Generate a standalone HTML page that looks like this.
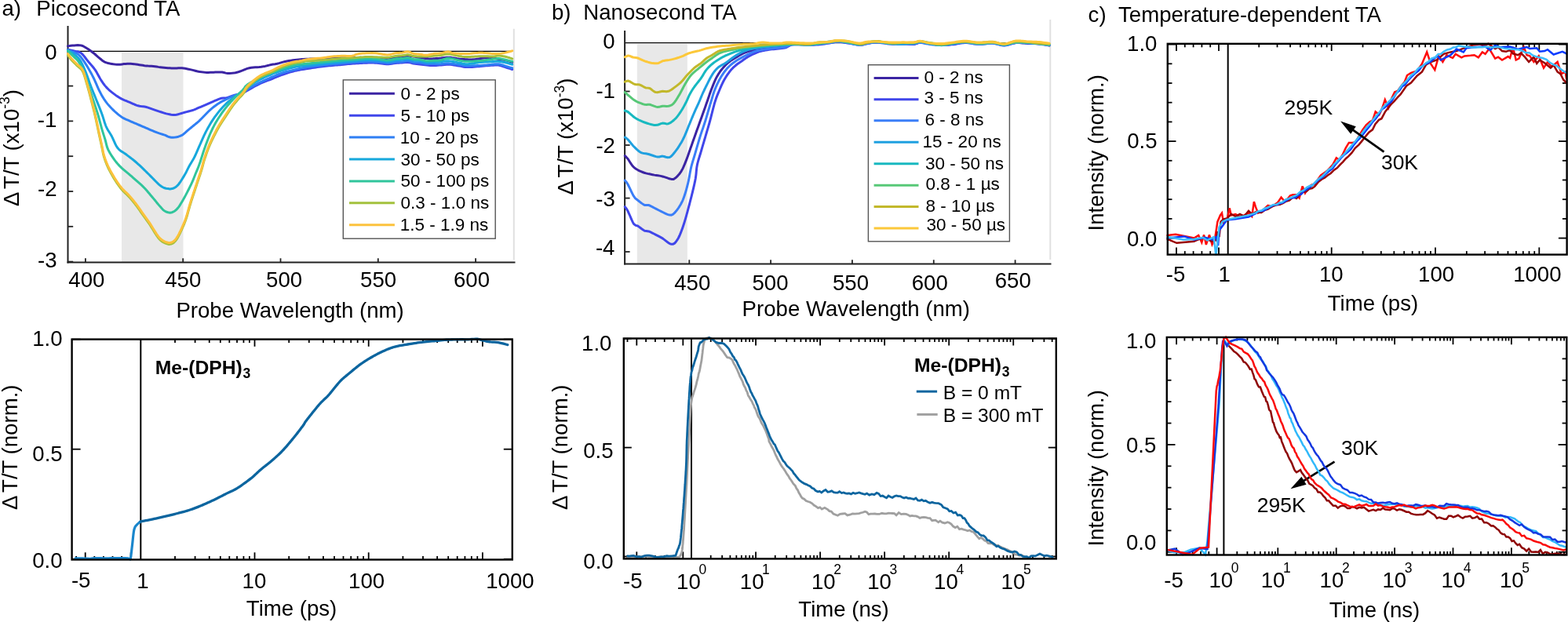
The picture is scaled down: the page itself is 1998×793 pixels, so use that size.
<!DOCTYPE html>
<html><head><meta charset="utf-8"><title>TA figure</title>
<style>
html,body{margin:0;padding:0;background:#fff;overflow:hidden;}
svg{display:block;}
text{font-family:'Liberation Sans', Arial, Helvetica, sans-serif;fill:#000;}
</style></head>
<body>
<svg width="1998" height="793" viewBox="0 0 1998 793">
<rect width="1998" height="793" fill="#fff"/>
<rect x="155" y="66.5" width="78.5" height="267.5" fill="#e8e8e8" stroke="none" stroke-width="1"/>
<line x1="654.8" y1="36.7" x2="654.8" y2="331.5" stroke="#e0e0e0" stroke-width="2"/>
<line x1="86.5" y1="65.4" x2="652" y2="65.4" stroke="#000" stroke-width="1.2"/>
<line x1="86.5" y1="33" x2="86.5" y2="335.4" stroke="#222" stroke-width="2.0"/>
<line x1="85.5" y1="334.4" x2="656.5" y2="334.4" stroke="#222" stroke-width="2.0"/>
<line x1="86.5" y1="109.6" x2="93.2" y2="109.6" stroke="#222" stroke-width="1.8"/>
<line x1="86.5" y1="154.4" x2="93.2" y2="154.4" stroke="#222" stroke-width="1.8"/>
<line x1="86.5" y1="199.2" x2="93.2" y2="199.2" stroke="#222" stroke-width="1.8"/>
<line x1="86.5" y1="244" x2="93.2" y2="244" stroke="#222" stroke-width="1.8"/>
<line x1="86.5" y1="288.8" x2="93.2" y2="288.8" stroke="#222" stroke-width="1.8"/>
<line x1="86.5" y1="333.6" x2="93.2" y2="333.6" stroke="#222" stroke-width="1.8"/>
<line x1="108.9" y1="334.5" x2="108.9" y2="329.3" stroke="#222" stroke-width="1.8"/>
<text x="87.3" y="366" font-size="27.6">400</text>
<line x1="233.2" y1="334.5" x2="233.2" y2="329.3" stroke="#222" stroke-width="1.8"/>
<text x="210.2" y="366" font-size="27.6">450</text>
<line x1="357.5" y1="334.5" x2="357.5" y2="329.3" stroke="#222" stroke-width="1.8"/>
<text x="339.05" y="366" font-size="27.6">500</text>
<line x1="481.8" y1="334.5" x2="481.8" y2="329.3" stroke="#222" stroke-width="1.8"/>
<text x="459.05" y="366" font-size="27.6">550</text>
<line x1="606.1" y1="334.5" x2="606.1" y2="329.3" stroke="#222" stroke-width="1.8"/>
<text x="578" y="366" font-size="27.6">600</text>
<text x="57.2" y="76.3" font-size="27.6">0</text>
<text x="47.7" y="161.9" font-size="27.6">-1</text>
<text x="48" y="249.5" font-size="27.6">-2</text>
<text x="48" y="341" font-size="27.6">-3</text>
<text x="224.4" y="404.7" font-size="27.6">Probe Wavelength (nm)</text>
<text x="24" y="262.9" font-size="27.6" transform="rotate(-90 24 262.9)">Δ<tspan dx="3.5">T/T (x10</tspan><tspan font-size="17.5" dy="-11.5">-3</tspan><tspan dy="11.5">)</tspan></text>
<text x="2.4" y="19.8" font-size="27.6">a)</text>
<text x="46.3" y="19.8" font-size="27.6">Picosecond TA</text>
<polyline points="86.5,58.8 87.94,58.62 90,58.35 92.34,58.08 94.6,57.9 96.79,57.75 99.06,57.62 101.3,57.63 103.4,57.9 105.83,58.74 108.07,59.97 110.5,61.5 112.18,62.58 113.98,63.8 115.82,65.1 117.62,66.42 119.3,67.7 121.19,69.25 122.96,70.81 124.66,72.33 126.4,73.8 128.14,75.25 129.84,76.69 131.61,78 133.5,79.1 135.58,79.92 137.79,80.52 140.06,80.99 142.3,81.4 144.5,81.77 146.69,82.05 148.89,82.23 151.1,82.3 153.32,82.18 155.55,81.91 157.78,81.6 160,81.4 162.21,81.31 164.41,81.26 166.6,81.29 168.8,81.4 171,81.64 173.2,81.98 175.4,82.35 177.6,82.7 179.8,83.02 181.99,83.35 184.19,83.65 186.4,83.9 188.62,84.06 190.85,84.14 193.08,84.24 195.3,84.4 197.48,84.68 199.64,85.02 201.83,85.38 204.1,85.7 206.52,85.99 209.04,86.26 211.56,86.5 214,86.7 216.32,86.86 218.57,86.98 220.79,87.06 223,87.1 225.17,87.02 227.3,86.86 229.48,86.74 231.8,86.8 233.8,87.01 235.91,87.33 238.07,87.72 240.25,88.16 242.4,88.6 244.52,89.09 246.64,89.65 248.76,90.22 250.88,90.76 253,91.2 255.12,91.55 257.24,91.85 259.36,92.1 261.48,92.28 263.6,92.4 265.75,92.43 267.93,92.37 270.09,92.27 272.2,92.16 274.2,92.1 276.57,92.05 278.82,91.99 280.96,91.99 283,92.1 285.39,92.54 287.59,93.14 290.1,93.5 292.43,93.49 295.02,93.33 297.62,93.06 300,92.7 302.71,92.07 305.16,91.27 307.6,90.4 309.48,89.66 311.35,88.85 313.22,88.06 315.1,87.4 317.63,86.75 320.16,86.26 322.7,85.9 325.24,85.71 327.77,85.64 330.3,85.5 332.8,85.21 335.3,84.85 337.8,84.4 340.33,83.8 342.86,83.11 345.4,82.5 347.94,82.09 350.47,81.75 353,81.3 355.5,80.61 358,79.82 360.5,79.1 363.03,78.54 365.57,78.05 368.1,77.6 370.6,77.16 373.1,76.75 375.6,76.4 378.16,76.12 380.72,75.89 383.2,75.7 384.93,75.56 386.56,75.45 390,75.3 391.49,75.24 393.21,75.18 395.13,75.11 397.21,75.03 399.42,74.96 401.7,74.88 404.03,74.8 406.36,74.72 408.66,74.64 410.89,74.57 413,74.5 415.05,74.43 417.09,74.36 419.13,74.29 421.16,74.23 423.18,74.16 425.19,74.09 427.19,74.03 429.17,73.97 431.14,73.91 433.08,73.85 435,73.8 437.12,73.75 439.26,73.69 441.4,73.65 443.53,73.6 445.62,73.56 447.67,73.52 449.65,73.48 451.54,73.45 453.33,73.42 455,73.4 457.47,73.38 459.63,73.37 461.56,73.38 463.37,73.39 465.15,73.4 467,73.4 469.25,73.38 471.42,73.35 473.58,73.32 475.75,73.33 478,73.4 479.92,73.55 481.85,73.77 483.81,74.03 485.81,74.27 487.87,74.44 490,74.5 491.95,74.43 494.03,74.28 496.17,74.06 498.31,73.82 500.38,73.58 502.3,73.36 504,73.2 506.42,73.06 508.38,73.02 510.14,72.96 512,72.8 513.84,72.39 515.56,71.83 517.51,71.35 520,71.2 521.83,71.33 523.95,71.61 526.25,71.98 528.62,72.39 530.95,72.82 533.11,73.2 535,73.5 537.74,73.88 540.06,74.17 542.1,74.41 544,74.6 546.07,74.79 547.81,74.9 550,74.9 551.72,74.85 553.64,74.75 555.69,74.62 557.83,74.47 560,74.3 562.19,74.07 564.44,73.76 566.75,73.46 569.14,73.24 571.6,73.2 573.7,73.34 575.84,73.61 578.03,73.97 580.27,74.35 582.6,74.71 585,75 586.91,75.18 588.92,75.36 591.01,75.54 593.12,75.7 595.22,75.84 597.26,75.94 599.2,76 601,76 603.57,75.87 605.89,75.59 608.06,75.24 610.19,74.89 612.4,74.6 614.68,74.35 616.96,74.08 619.25,73.85 621.53,73.71 623.8,73.7 626.09,73.88 628.39,74.2 630.69,74.6 632.93,75.02 635.1,75.4 637.2,75.71 639.27,76.01 641.27,76.31 643.18,76.63 645,77 647.26,77.6 649.47,78.3 651.37,78.95 652.7,79.4" fill="none" stroke="#3b24a3" stroke-width="3" stroke-linejoin="round" stroke-linecap="round"/>
<polyline points="86.5,63.2 87.94,63.5 90,63.93 92.34,64.44 94.6,65 96.75,65.43 98.95,65.8 101.18,66.45 103.4,67.7 104.88,69.01 106.36,70.65 107.85,72.51 109.34,74.47 110.82,76.44 112.3,78.3 113.79,80.05 115.3,81.77 116.81,83.49 118.3,85.24 119.73,87.03 121.1,88.9 122.2,90.59 123.26,92.37 124.27,94.19 125.25,96.02 126.23,97.83 127.21,99.56 128.2,101.2 129.58,103.33 130.92,105.35 132.27,107.27 133.68,109.11 135.2,110.9 136.83,112.62 138.55,114.27 140.33,115.85 142.19,117.39 144.1,118.9 145.76,120.15 147.48,121.4 149.24,122.62 151.03,123.79 152.83,124.89 154.6,125.9 156.71,126.96 158.83,127.88 160.96,128.73 163.08,129.55 165.2,130.4 167.32,131.33 169.44,132.3 171.56,133.24 173.68,134.09 175.8,134.8 177.92,135.28 180.04,135.58 182.16,135.81 184.28,136.08 186.4,136.5 188.52,137.1 190.64,137.81 192.76,138.58 194.88,139.36 197,140.1 199.19,140.83 201.44,141.59 203.66,142.33 205.75,143.01 207.6,143.6 209.95,144.35 211.83,144.91 214,145.4 215.99,145.83 218.13,146.26 220.46,146.54 223,146.5 224.87,146.22 226.89,145.75 228.99,145.17 231.14,144.53 233.26,143.88 235.3,143.3 237.73,142.66 240.18,142.01 242.58,141.36 244.81,140.72 246.8,140.1 249.33,139.15 251.34,138.23 253.6,137.2 255.71,136.3 258.01,135.32 260.37,134.31 262.7,133.3 264.95,132.31 267.18,131.31 269.45,130.3 271.8,129.3 273.82,128.44 275.96,127.53 278.11,126.65 280.16,125.88 282,125.3 284.47,124.96 286.57,125.01 288.8,124.8 290.74,124.22 292.8,123.42 294.86,122.6 296.8,121.9 299.17,121.26 301.41,120.76 303.6,120.2 305.81,119.52 307.98,118.78 310,118 312,117.08 315.1,115.4 316.52,114.62 318.19,113.67 320.06,112.61 322.08,111.47 324.16,110.3 326.27,109.15 328.34,108.07 330.3,107.1 332.19,106.23 334.08,105.42 335.97,104.65 337.86,103.91 339.74,103.18 341.63,102.47 343.51,101.74 345.4,101 347.29,100.24 349.17,99.46 351.06,98.68 352.95,97.91 354.84,97.14 356.72,96.4 358.61,95.68 360.5,95 362.66,94.25 364.83,93.53 367.01,92.83 369.18,92.16 371.34,91.53 373.48,90.94 375.6,90.4 377.62,89.93 379.51,89.53 381.37,89.18 383.26,88.86 385.28,88.54 387.5,88.19 390,87.8 391.77,87.52 393.67,87.23 395.68,86.92 397.77,86.6 399.93,86.27 402.13,85.95 404.35,85.63 406.57,85.33 408.76,85.03 410.91,84.75 413,84.5 415.07,84.27 417.18,84.05 419.32,83.84 421.45,83.65 423.57,83.46 425.66,83.29 427.7,83.12 429.68,82.96 431.56,82.8 433.34,82.65 435,82.5 437.62,82.24 439.78,82 441.69,81.79 443.56,81.59 445.59,81.39 448,81.2 449.89,81.07 451.97,80.94 454.19,80.81 456.47,80.68 458.78,80.56 461.04,80.45 463.2,80.35 465.21,80.27 467,80.2 469.7,80.12 471.93,80.07 473.91,80.07 475.86,80.11 478,80.2 480.02,80.34 482.19,80.54 484.38,80.78 486.48,81.02 488.39,81.24 490,81.4 492.69,81.7 495,81.7 496.99,81.49 499.31,81.15 501.73,80.79 504,80.5 506.07,80.33 508.06,80.21 510.02,80.12 512,80 514.02,79.81 516.06,79.57 518.07,79.4 520,79.4 522.37,79.79 524.63,80.43 527,81 528.91,81.29 530.88,81.53 532.91,81.76 535,82 537.2,82.28 539.5,82.59 541.8,82.87 544,83.1 546.07,83.27 548.06,83.39 550.02,83.47 552,83.5 553.92,83.47 555.77,83.38 557.75,83.25 560,83.1 562.06,82.91 564.29,82.65 566.66,82.39 569.11,82.22 571.6,82.2 573.76,82.35 576.04,82.61 578.38,82.94 580.69,83.31 582.92,83.68 585,84 587.17,84.38 589.06,84.78 590.91,85.16 592.95,85.46 595.4,85.6 597.25,85.59 599.32,85.51 601.54,85.38 603.84,85.21 606.15,85.02 608.39,84.83 610.5,84.65 612.4,84.5 615.04,84.28 617.37,84.06 619.52,83.85 621.62,83.66 623.8,83.5 626.09,83.33 628.39,83.14 630.69,82.99 632.93,82.96 635.1,83.1 637.2,83.48 639.27,84.04 641.27,84.71 643.18,85.39 645,86 647.26,86.71 649.47,87.43 651.37,88.06 652.7,88.5" fill="none" stroke="#4046ea" stroke-width="3" stroke-linejoin="round" stroke-linecap="round"/>
<polyline points="86.5,64.1 87.98,64.55 90.11,65.17 92.46,65.94 94.6,66.8 96.41,67.59 98.11,68.39 99.83,69.5 101.7,71.2 102.87,72.52 104.09,74.06 105.35,75.77 106.64,77.62 107.94,79.57 109.23,81.57 110.5,83.6 111.49,85.21 112.49,86.9 113.5,88.64 114.5,90.43 115.51,92.25 116.49,94.08 117.46,95.91 118.4,97.72 119.3,99.5 120.27,101.5 121.19,103.54 122.09,105.58 122.96,107.62 123.81,109.63 124.66,111.59 125.52,113.49 126.4,115.3 127.4,117.27 128.38,119.14 129.35,120.95 130.34,122.69 131.35,124.39 132.4,126.05 133.5,127.7 134.83,129.57 136.18,131.37 137.58,133.11 139.04,134.83 140.61,136.55 142.3,138.3 143.68,139.66 145.17,141.07 146.73,142.51 148.34,143.93 149.96,145.31 151.56,146.62 153.12,147.83 154.6,148.9 156.8,150.3 158.88,151.4 160.91,152.33 162.99,153.22 165.2,154.2 167.16,155.08 169.2,155.97 171.29,156.85 173.4,157.73 175.51,158.62 177.6,159.5 179.69,160.39 181.8,161.3 183.91,162.21 186,163.1 188.04,163.97 190,164.8 192.24,165.76 194.4,166.68 196.49,167.57 198.55,168.41 200.6,169.2 202.71,169.93 204.86,170.6 206.96,171.24 208.9,171.83 210.6,172.4 213.49,173.78 216,174.8 218.15,175.17 220.47,175.3 223,175.1 225.09,174.73 227.32,174.19 229.6,173.43 231.8,172.4 233.5,171.28 235.19,169.92 236.85,168.43 238.46,166.95 240,165.6 241.8,164.12 243.49,162.73 245.13,161.38 246.8,160 248.5,158.61 250.2,157.23 251.9,155.8 253.6,154.3 255.3,152.68 257,150.98 258.7,149.23 260.4,147.5 262.1,145.75 263.79,143.97 265.49,142.24 267.2,140.6 268.92,139.09 270.65,137.66 272.38,136.3 274.1,135 275.81,133.75 277.51,132.56 279.2,131.44 280.9,130.4 283.17,129.18 285.43,128.09 287.7,127 289.97,125.84 292.23,124.69 294.5,123.6 296.79,122.61 299.07,121.68 301.3,120.8 303.39,120.05 305.43,119.34 307.6,118.4 309.21,117.51 310.79,116.52 312.66,115.34 315.1,113.9 316.63,113.03 318.36,112.06 320.24,111 322.23,109.9 324.27,108.78 326.33,107.67 328.35,106.6 330.3,105.6 332.19,104.66 334.08,103.76 335.97,102.87 337.86,102.01 339.74,101.16 341.63,100.33 343.51,99.51 345.4,98.7 347.29,97.89 349.17,97.09 351.06,96.29 352.95,95.51 354.84,94.75 356.72,94.02 358.61,93.34 360.5,92.7 362.66,92.03 364.83,91.43 367.01,90.88 369.18,90.36 371.34,89.86 373.48,89.38 375.6,88.9 377.62,88.43 379.51,87.98 381.37,87.55 383.26,87.14 385.28,86.73 387.5,86.32 390,85.9 391.77,85.63 393.67,85.35 395.68,85.08 397.77,84.8 399.93,84.52 402.13,84.25 404.35,83.98 406.57,83.72 408.76,83.47 410.91,83.23 413,83 415.07,82.78 417.18,82.57 419.32,82.37 421.45,82.18 423.57,81.99 425.66,81.81 427.7,81.64 429.68,81.47 431.56,81.31 433.34,81.15 435,81 437.62,80.74 439.78,80.5 441.69,80.28 443.56,80.08 445.59,79.89 448,79.7 449.89,79.58 451.97,79.45 454.19,79.33 456.47,79.21 458.78,79.1 461.04,79 463.2,78.92 465.21,78.85 467,78.8 469.7,78.76 471.93,78.76 473.91,78.81 475.86,78.89 478,79 480.02,79.13 482.19,79.29 484.38,79.48 486.48,79.67 488.39,79.85 490,80 492.69,80.39 495,80.5 496.99,80.28 499.31,79.91 501.73,79.5 504,79.2 506.07,79.05 508.06,78.98 510.02,78.92 512,78.8 514.02,78.53 516.06,78.17 518.07,77.87 520,77.8 522.37,78.21 524.63,78.92 527,79.5 528.91,79.69 530.88,79.76 532.91,79.83 535,80 537.2,80.34 539.5,80.78 541.8,81.21 544,81.5 546.07,81.6 548.06,81.58 550.02,81.52 552,81.5 553.92,81.56 555.77,81.66 557.75,81.72 560,81.7 562.06,81.55 564.29,81.29 566.66,81.03 569.11,80.83 571.6,80.8 573.76,80.94 576.04,81.19 578.38,81.51 580.69,81.86 582.92,82.2 585,82.5 587.17,82.83 589.06,83.17 590.91,83.49 592.95,83.75 595.4,83.9 597.25,83.93 599.32,83.92 601.54,83.87 603.84,83.79 606.15,83.7 608.39,83.6 610.5,83.49 612.4,83.4 615.04,83.24 617.37,83.06 619.52,82.87 621.62,82.68 623.8,82.5 626.09,82.28 628.39,82 630.69,81.76 632.93,81.63 635.1,81.7 637.2,82.04 639.27,82.58 641.27,83.24 643.18,83.91 645,84.5 647.26,85.16 649.47,85.83 651.37,86.4 652.7,86.8" fill="none" stroke="#2f7ff4" stroke-width="3" stroke-linejoin="round" stroke-linecap="round"/>
<polyline points="86.5,64.1 87.98,65.01 90.11,66.31 92.46,67.82 94.6,69.4 96.09,70.59 97.52,71.77 98.92,73.07 100.3,74.6 101.7,76.5 102.7,78.1 103.7,79.86 104.7,81.77 105.7,83.82 106.7,85.98 107.7,88.25 108.7,90.6 109.41,92.33 110.11,94.17 110.82,96.08 111.53,98.06 112.24,100.07 112.96,102.11 113.67,104.14 114.38,106.14 115.09,108.1 115.8,110 116.59,112.04 117.38,114.05 118.17,116.03 118.96,117.98 119.75,119.93 120.54,121.86 121.33,123.8 122.12,125.74 122.9,127.7 123.69,129.68 124.49,131.67 125.3,133.67 126.11,135.67 126.91,137.66 127.7,139.63 128.46,141.59 129.2,143.51 129.9,145.4 130.63,147.5 131.3,149.59 131.93,151.65 132.54,153.69 133.16,155.68 133.79,157.62 134.46,159.5 135.2,161.3 136.11,163.22 137.08,164.99 138.09,166.67 139.12,168.31 140.18,169.98 141.24,171.72 142.3,173.6 143.21,175.41 144.11,177.36 145.02,179.4 145.93,181.47 146.87,183.5 147.86,185.44 148.89,187.22 150,188.8 151.58,190.53 153.25,191.94 155.01,193.14 156.83,194.27 158.7,195.45 160.6,196.8 162.28,198.08 164.01,199.4 165.79,200.74 167.6,202.13 169.41,203.55 171.22,205 173,206.5 174.55,207.86 176.12,209.27 177.69,210.72 179.26,212.19 180.82,213.67 182.35,215.15 183.84,216.59 185.3,218 186.93,219.59 188.55,221.2 190.15,222.79 191.69,224.36 193.18,225.86 194.58,227.28 195.9,228.6 197.95,230.68 199.74,232.52 201.38,234.15 203,235.6 205.11,237.23 207.11,238.52 209,239.5 211.59,240.29 214.1,240.6 216.62,240.94 219.4,240.6 221.01,240.02 222.73,239.22 224.56,238.02 226.5,236.2 227.7,234.76 228.98,233.01 230.32,231.04 231.66,228.97 232.96,226.87 234.19,224.85 235.3,223 236.42,221.05 237.39,219.21 238.27,217.43 239.13,215.66 240.02,213.87 241,212 242.08,210.1 243.21,208.2 244.38,206.28 245.56,204.3 246.74,202.21 247.9,200 248.76,198.23 249.63,196.36 250.49,194.42 251.36,192.44 252.22,190.43 253.08,188.42 253.94,186.44 254.8,184.5 255.65,182.59 256.48,180.69 257.31,178.8 258.14,176.91 258.97,175.04 259.83,173.17 260.7,171.33 261.6,169.5 262.53,167.68 263.5,165.85 264.48,164.02 265.48,162.22 266.48,160.44 267.49,158.71 268.5,157.02 269.5,155.4 270.83,153.33 272.16,151.34 273.5,149.44 274.84,147.6 276.17,145.82 277.5,144.1 278.84,142.42 280.18,140.8 281.53,139.24 282.85,137.74 284.15,136.33 285.4,135 287.12,133.24 288.72,131.7 290.36,130.24 292.2,128.7 293.88,127.37 295.69,126.02 297.58,124.65 299.47,123.3 301.3,122 303.12,120.73 304.98,119.48 306.8,118.26 308.5,117.09 310,116 311.59,114.57 312.79,113.31 315.1,111.5 316.52,110.53 318.19,109.42 320.06,108.19 322.08,106.91 324.16,105.6 326.27,104.32 328.34,103.1 330.3,102 332.19,101 334.08,100.04 335.97,99.13 337.86,98.25 339.74,97.41 341.63,96.59 343.51,95.79 345.4,95 347.29,94.23 349.17,93.48 351.06,92.76 352.95,92.06 354.84,91.39 356.72,90.73 358.61,90.11 360.5,89.5 362.66,88.83 364.83,88.19 367.01,87.57 369.18,86.99 371.34,86.45 373.48,85.95 375.6,85.5 377.62,85.12 379.51,84.82 381.37,84.58 383.26,84.35 385.28,84.13 387.5,83.89 390,83.6 391.77,83.39 393.67,83.16 395.68,82.93 397.77,82.68 399.93,82.43 402.13,82.18 404.35,81.93 406.57,81.68 408.76,81.45 410.91,81.22 413,81 415.07,80.79 417.18,80.59 419.32,80.38 421.45,80.19 423.57,79.99 425.66,79.81 427.7,79.63 429.68,79.46 431.56,79.29 433.34,79.14 435,79 437.62,78.78 439.78,78.61 441.69,78.47 443.56,78.33 445.59,78.18 448,78 449.89,77.85 451.97,77.67 454.19,77.47 456.47,77.27 458.78,77.08 461.04,76.89 463.2,76.73 465.21,76.59 467,76.5 469.7,76.41 471.93,76.4 473.91,76.46 475.86,76.56 478,76.7 480.02,76.86 482.19,77.08 484.38,77.33 486.48,77.59 488.39,77.82 490,78 492.69,78.44 495,78.5 496.99,78.2 499.31,77.71 501.73,77.19 504,76.8 506.07,76.6 508.06,76.49 510.02,76.42 512,76.3 514.02,76.07 516.06,75.77 518.07,75.55 520,75.5 522.37,75.87 524.63,76.49 527,77 528.91,77.16 530.88,77.22 532.91,77.29 535,77.5 537.2,77.95 539.5,78.54 541.8,79.12 544,79.5 546.07,79.61 548.06,79.54 550.02,79.41 552,79.3 553.92,79.26 555.77,79.22 557.75,79.15 560,79 562.06,78.75 564.29,78.38 566.66,78.01 569.11,77.75 571.6,77.7 573.76,77.88 576.04,78.22 578.38,78.66 580.69,79.14 582.92,79.61 585,80 587.17,80.44 589.06,80.92 590.91,81.34 592.95,81.63 595.4,81.7 597.25,81.59 599.32,81.37 601.54,81.06 603.84,80.69 606.15,80.31 608.39,79.95 610.5,79.63 612.4,79.4 615.04,79.17 617.37,79.03 619.52,78.95 621.62,78.89 623.8,78.8 626.09,78.66 628.39,78.49 630.69,78.34 632.93,78.26 635.1,78.3 637.2,78.49 639.27,78.8 641.27,79.18 643.18,79.59 645,80 647.26,80.57 649.47,81.21 651.37,81.79 652.7,82.2" fill="none" stroke="#16a8dc" stroke-width="3" stroke-linejoin="round" stroke-linecap="round"/>
<polyline points="86.5,65 87.61,66.09 89.21,67.66 91.02,69.44 92.8,71.2 94.2,72.51 95.67,73.81 97.15,75.16 98.58,76.64 99.9,78.3 101.08,80.14 102.15,82.12 103.17,84.24 104.17,86.5 105.2,88.9 105.94,90.67 106.66,92.47 107.38,94.33 108.1,96.28 108.85,98.35 109.65,100.58 110.5,103 111.08,104.66 111.68,106.42 112.31,108.27 112.95,110.19 113.61,112.16 114.28,114.16 114.95,116.19 115.62,118.23 116.29,120.25 116.95,122.25 117.6,124.2 118.25,126.13 118.9,128.08 119.56,130.03 120.22,131.98 120.88,133.94 121.54,135.89 122.18,137.82 122.82,139.75 123.43,141.65 124.03,143.54 124.6,145.4 125.2,147.44 125.79,149.49 126.35,151.55 126.9,153.59 127.43,155.6 127.95,157.57 128.45,159.49 128.94,161.35 129.43,163.12 129.9,164.8 130.66,167.37 131.37,169.68 132.05,171.83 132.71,173.87 133.35,175.91 134,178 134.58,180.12 135.07,182.19 135.56,184.24 136.1,186.31 136.79,188.42 137.7,190.6 138.56,192.32 139.54,194.12 140.63,195.97 141.78,197.83 142.98,199.67 144.18,201.45 145.37,203.14 146.5,204.7 147.95,206.58 149.37,208.29 150.79,209.87 152.23,211.39 153.73,212.88 155.3,214.4 156.98,215.94 158.76,217.46 160.59,218.96 162.43,220.44 164.21,221.88 165.9,223.3 167.79,224.94 169.59,226.53 171.33,228.08 173.05,229.63 174.8,231.2 176.54,232.72 178.24,234.19 179.96,235.69 181.73,237.32 183.6,239.2 184.85,240.54 186.17,242.01 187.52,243.57 188.9,245.19 190.28,246.82 191.63,248.44 192.95,250.01 194.2,251.5 195.8,253.41 197.37,255.31 198.89,257.17 200.34,258.94 201.72,260.6 203,262.1 204.72,264.09 206.23,265.83 207.63,267.29 209,268.5 211.59,270 214.1,270.7 216.62,271.17 219.4,270.7 221.01,269.96 222.73,268.94 224.56,267.47 226.5,265.4 227.52,264.07 228.58,262.56 229.67,260.88 230.79,259.07 231.92,257.17 233.05,255.2 234.18,253.2 235.3,251.2 236.31,249.36 237.35,247.4 238.41,245.36 239.47,243.28 240.52,241.2 241.53,239.15 242.5,237.17 243.39,235.31 244.2,233.6 245.23,231.34 246.09,229.34 246.83,227.51 247.52,225.75 248.22,223.94 249,222 249.71,220.27 250.43,218.56 251.15,216.84 251.88,215.06 252.63,213.19 253.4,211.18 254.2,209 254.84,207.15 255.5,205.16 256.17,203.07 256.85,200.91 257.55,198.71 258.25,196.48 258.96,194.27 259.68,192.1 260.4,190 261.13,187.94 261.87,185.86 262.62,183.79 263.38,181.73 264.14,179.69 264.9,177.69 265.67,175.73 266.44,173.83 267.2,172 268.17,169.75 269.13,167.59 270.1,165.52 271.07,163.51 272.05,161.55 273.06,159.62 274.1,157.7 275.19,155.79 276.32,153.9 277.47,152.04 278.64,150.22 279.79,148.47 280.92,146.79 282,145.2 283.41,143.16 284.74,141.32 286.05,139.58 287.38,137.87 288.8,136.1 290.08,134.56 291.42,132.98 292.8,131.41 294.18,129.86 295.52,128.38 296.8,127 298.59,125.12 300.3,123.42 301.96,121.8 303.6,120.2 305.26,118.6 306.91,117.05 308.5,115.52 310,114 311.42,112.08 312.7,110.18 315.1,108 316.52,107.04 318.19,106 320.06,104.91 322.08,103.78 324.16,102.65 326.27,101.54 328.34,100.48 330.3,99.5 332.19,98.58 334.08,97.71 335.97,96.87 337.86,96.06 339.74,95.28 341.63,94.51 343.51,93.75 345.4,93 347.29,92.26 349.17,91.53 351.06,90.82 352.95,90.12 354.84,89.45 356.72,88.78 358.61,88.13 360.5,87.5 362.66,86.78 364.83,86.06 367.01,85.35 369.18,84.68 371.34,84.05 373.48,83.49 375.6,83 377.62,82.62 379.51,82.33 381.37,82.11 383.26,81.92 385.28,81.75 387.5,81.55 390,81.3 391.77,81.11 393.67,80.91 395.68,80.71 397.77,80.5 399.93,80.28 402.13,80.06 404.35,79.84 406.57,79.62 408.76,79.41 410.91,79.2 413,79 415.07,78.8 417.18,78.6 419.32,78.4 421.45,78.2 423.57,78 425.66,77.81 427.7,77.63 429.68,77.45 431.56,77.29 433.34,77.14 435,77 437.62,76.81 439.78,76.67 441.69,76.58 443.56,76.48 445.59,76.37 448,76.2 449.89,76.05 451.97,75.86 454.19,75.66 456.47,75.44 458.78,75.23 461.04,75.03 463.2,74.85 465.21,74.7 467,74.6 469.7,74.5 471.93,74.47 473.91,74.52 475.86,74.63 478,74.8 480.02,75.03 482.19,75.34 484.38,75.7 486.48,76.06 488.39,76.37 490,76.6 492.69,76.92 495,76.8 496.99,76.46 499.31,75.94 501.73,75.41 504,75 506.07,74.79 508.06,74.69 510.02,74.62 512,74.5 514.02,74.26 516.06,73.96 518.07,73.72 520,73.7 522.37,74.16 524.63,74.9 527,75.5 528.91,75.69 530.88,75.76 532.91,75.82 535,76 537.2,76.39 539.5,76.91 541.8,77.39 544,77.7 546.07,77.74 548.06,77.62 550.02,77.44 552,77.3 553.92,77.3 555.77,77.35 557.75,77.33 560,77.1 562.06,76.62 564.29,75.9 566.66,75.15 569.11,74.55 571.6,74.3 573.76,74.45 576.04,74.84 578.38,75.39 580.69,76 582.92,76.57 585,77 587.17,77.38 589.06,77.73 590.91,78.01 592.95,78.2 595.4,78.3 597.25,78.3 599.32,78.24 601.54,78.15 603.84,78.02 606.15,77.87 608.39,77.71 610.5,77.55 612.4,77.4 615.04,77.15 617.37,76.88 619.52,76.58 621.62,76.29 623.8,76 626.09,75.67 628.39,75.28 630.69,74.92 632.93,74.67 635.1,74.6 637.2,74.77 639.27,75.13 641.27,75.59 643.18,76.07 645,76.5 648.01,77.17 650.79,77.84 652.7,78.3" fill="none" stroke="#30c59b" stroke-width="3" stroke-linejoin="round" stroke-linecap="round"/>
<polyline points="86.5,70.3 87.6,71.87 89.22,74.14 91.1,76.5 92.68,78.21 94.44,79.99 96.29,81.8 98.1,83.6 99.54,84.88 101.02,86.02 102.48,87.23 103.89,88.72 105.2,90.7 105.95,92.24 106.65,93.97 107.32,95.86 107.96,97.88 108.59,99.99 109.22,102.17 109.85,104.38 110.5,106.6 111.03,108.39 111.56,110.23 112.09,112.11 112.62,114.02 113.15,115.97 113.68,117.94 114.21,119.94 114.74,121.95 115.27,123.97 115.8,126 116.33,128.03 116.86,130.07 117.39,132.12 117.92,134.18 118.45,136.27 118.98,138.38 119.51,140.53 120.04,142.71 120.57,144.93 121.1,147.2 121.55,149.16 122,151.19 122.46,153.29 122.92,155.43 123.38,157.59 123.84,159.76 124.29,161.91 124.74,164.04 125.17,166.12 125.6,168.14 126.01,170.07 126.4,171.9 126.9,174.23 127.4,176.49 127.87,178.67 128.33,180.77 128.77,182.78 129.19,184.69 129.58,186.5 129.95,188.21 130.3,189.8 130.88,192.7 131.26,194.89 131.69,196.96 132.4,199.5 132.96,201.27 133.58,203.16 134.26,205.14 135.02,207.2 135.84,209.31 136.73,211.45 137.7,213.6 138.52,215.31 139.42,217.08 140.37,218.9 141.37,220.74 142.4,222.58 143.44,224.4 144.48,226.17 145.5,227.88 146.5,229.5 147.76,231.48 149.01,233.38 150.27,235.2 151.52,236.96 152.78,238.64 154.04,240.25 155.3,241.8 156.78,243.46 158.26,244.96 159.75,246.36 161.24,247.73 162.72,249.16 164.2,250.7 165.67,252.35 167.14,254.04 168.61,255.79 170.07,257.58 171.53,259.42 173,261.3 174.26,262.97 175.51,264.69 176.77,266.45 178.03,268.23 179.29,270.03 180.54,271.82 181.8,273.6 183.06,275.35 184.31,277.09 185.57,278.82 186.82,280.56 188.08,282.33 189.34,284.14 190.6,286 191.74,287.74 192.92,289.6 194.12,291.53 195.32,293.47 196.48,295.35 197.58,297.13 198.6,298.73 199.5,300.1 201.33,302.71 202.68,304.4 204,305.8 206.2,307.66 208.3,309 210.21,309.94 212,310.6 215.4,311.6 217.93,311.14 220.7,309.8 221.99,308.77 223.24,307.52 224.56,305.9 226,303.7 226.93,302.07 227.95,300.16 229.01,298.05 230.09,295.84 231.13,293.61 232.12,291.47 233,289.5 233.89,287.47 234.67,285.61 235.38,283.82 236.06,282 236.76,280.03 237.5,277.8 238.08,275.96 238.65,274.04 239.21,272.03 239.79,269.94 240.38,267.77 241.01,265.52 241.68,263.2 242.4,260.8 242.96,258.99 243.56,257.11 244.18,255.16 244.82,253.17 245.48,251.14 246.16,249.08 246.83,247.02 247.51,244.95 248.19,242.91 248.85,240.88 249.5,238.9 250.15,236.92 250.82,234.9 251.5,232.87 252.18,230.83 252.86,228.8 253.53,226.8 254.19,224.84 254.82,222.94 255.42,221.1 255.98,219.35 256.5,217.7 257.2,215.35 257.79,213.26 258.29,211.34 258.77,209.52 259.24,207.71 259.78,205.83 260.4,203.8 261.02,201.89 261.67,199.92 262.36,197.9 263.07,195.85 263.8,193.8 264.56,191.76 265.32,189.75 266.1,187.8 266.9,185.89 267.72,183.98 268.57,182.1 269.43,180.23 270.3,178.39 271.17,176.59 272.04,174.82 272.9,173.1 273.86,171.2 274.81,169.37 275.75,167.59 276.7,165.84 277.67,164.11 278.67,162.37 279.7,160.6 280.78,158.81 281.9,157.01 283.05,155.21 284.22,153.41 285.39,151.62 286.55,149.85 287.7,148.1 288.84,146.35 290,144.58 291.15,142.82 292.3,141.09 293.43,139.41 294.53,137.81 295.6,136.3 297.02,134.39 298.36,132.66 299.68,131.04 301.01,129.45 302.4,127.8 303.91,126.08 305.5,124.35 307.1,122.63 308.63,120.94 310,119.3 311.39,117.34 312.55,115.46 313.71,113.62 315.1,111.8 316.46,110.35 317.96,108.91 319.54,107.49 321.14,106.12 322.7,104.8 324.6,103.22 326.51,101.7 328.41,100.28 330.3,99 332.18,97.89 334.05,96.92 335.92,96.05 337.8,95.2 339.69,94.41 341.59,93.7 343.5,92.99 345.4,92.2 347.3,91.3 349.21,90.33 351.11,89.34 353,88.4 354.88,87.5 356.75,86.63 358.62,85.78 360.5,85 362.4,84.28 364.3,83.61 366.2,82.98 368.1,82.4 370.6,81.69 373.1,81.05 375.6,80.5 378.16,80.09 380.72,79.77 383.2,79.4 385.59,78.84 387.9,78.23 390,77.8 391.8,77.78 395,77.8 396.41,77.72 398.05,77.61 399.89,77.49 401.89,77.35 404.01,77.2 406.22,77.03 408.48,76.86 410.75,76.68 413,76.5 414.88,76.34 416.88,76.16 418.95,75.96 421.08,75.76 423.24,75.55 425.38,75.35 427.49,75.15 429.54,74.96 431.49,74.78 433.32,74.63 435,74.5 437.62,74.34 439.78,74.26 441.69,74.22 443.56,74.19 445.59,74.12 448,74 449.89,73.87 451.97,73.7 454.19,73.51 456.47,73.3 458.78,73.1 461.04,72.9 463.2,72.73 465.21,72.59 467,72.5 469.7,72.44 471.93,72.49 473.91,72.59 475.86,72.7 478,72.8 480.02,72.87 482.19,72.94 484.38,73.02 486.48,73.09 488.39,73.16 490,73.2 492.69,73.33 495,73.2 496.99,72.87 499.31,72.39 501.73,71.89 504,71.5 506.07,71.26 508.06,71.11 510.02,70.97 512,70.8 514.02,70.51 516.06,70.15 518.07,69.87 520,69.8 522.37,70.21 524.63,70.92 527,71.5 528.91,71.72 530.88,71.86 532.91,71.94 535,72 537.2,72.05 539.5,72.08 541.8,72.07 544,72 546.05,71.85 548,71.64 549.95,71.41 552,71.2 554.14,71.04 556.34,70.9 558.61,70.74 561,70.5 562.97,70.17 564.99,69.72 567.08,69.28 569.28,68.97 571.6,68.9 573.71,69.11 575.97,69.51 578.31,70.03 580.65,70.59 582.91,71.1 585,71.5 587.17,71.85 589.06,72.14 590.91,72.38 592.95,72.53 595.4,72.6 597.21,72.57 599.18,72.49 601.29,72.36 603.48,72.2 605.73,72.04 607.99,71.89 610.23,71.77 612.4,71.7 614.61,71.69 616.94,71.72 619.31,71.79 621.66,71.86 623.93,71.94 626.03,72 627.91,72.02 629.5,72 632.75,71.37 635.1,70.9 636.84,71.03 638.86,71.31 640.99,71.67 643.09,72.09 645,72.5 647.26,73.1 649.47,73.8 651.37,74.45 652.7,74.9" fill="none" stroke="#a3c13d" stroke-width="3" stroke-linejoin="round" stroke-linecap="round"/>
<polyline points="86.5,68.5 87.6,70.07 89.22,72.34 91.1,74.7 92.68,76.41 94.44,78.19 96.29,80 98.1,81.8 99.54,83.08 101.02,84.22 102.48,85.43 103.89,86.92 105.2,88.9 105.95,90.44 106.65,92.17 107.32,94.06 107.96,96.08 108.59,98.19 109.22,100.37 109.85,102.58 110.5,104.8 111.03,106.59 111.56,108.43 112.09,110.31 112.62,112.22 113.15,114.17 113.68,116.14 114.21,118.14 114.74,120.15 115.27,122.17 115.8,124.2 116.33,126.23 116.86,128.27 117.39,130.32 117.92,132.38 118.45,134.47 118.98,136.58 119.51,138.73 120.04,140.91 120.57,143.13 121.1,145.4 121.55,147.36 122,149.39 122.46,151.49 122.92,153.63 123.38,155.79 123.84,157.96 124.29,160.11 124.74,162.24 125.17,164.32 125.6,166.34 126.01,168.27 126.4,170.1 126.9,172.43 127.4,174.69 127.87,176.87 128.33,178.97 128.77,180.98 129.19,182.89 129.58,184.7 129.95,186.41 130.3,188 130.88,190.9 131.26,193.09 131.69,195.16 132.4,197.7 132.96,199.47 133.58,201.36 134.26,203.34 135.02,205.4 135.84,207.51 136.73,209.65 137.7,211.8 138.52,213.51 139.42,215.28 140.37,217.1 141.37,218.94 142.4,220.78 143.44,222.6 144.48,224.37 145.5,226.08 146.5,227.7 147.76,229.68 149.01,231.58 150.27,233.4 151.52,235.16 152.78,236.84 154.04,238.45 155.3,240 156.78,241.66 158.26,243.16 159.75,244.56 161.24,245.93 162.72,247.36 164.2,248.9 165.67,250.55 167.14,252.24 168.61,253.99 170.07,255.78 171.53,257.62 173,259.5 174.26,261.17 175.51,262.89 176.77,264.65 178.03,266.43 179.29,268.23 180.54,270.02 181.8,271.8 183.06,273.55 184.31,275.29 185.57,277.02 186.82,278.76 188.08,280.53 189.34,282.34 190.6,284.2 191.74,285.94 192.92,287.8 194.12,289.73 195.32,291.67 196.48,293.55 197.58,295.33 198.6,296.93 199.5,298.3 201.33,300.91 202.68,302.6 204,304 206.2,305.86 208.3,307.2 210.21,308.14 212,308.8 215.4,309.8 217.93,309.34 220.7,308 221.99,306.97 223.24,305.72 224.56,304.1 226,301.9 226.93,300.27 227.95,298.36 229.01,296.25 230.09,294.04 231.13,291.81 232.12,289.67 233,287.7 233.89,285.67 234.67,283.81 235.38,282.03 236.06,280.2 236.76,278.23 237.5,276 238.08,274.16 238.65,272.24 239.21,270.23 239.79,268.14 240.38,265.97 241.01,263.72 241.68,261.4 242.4,259 242.96,257.19 243.56,255.31 244.18,253.36 244.82,251.37 245.48,249.34 246.16,247.28 246.83,245.22 247.51,243.15 248.19,241.11 248.85,239.08 249.5,237.1 250.15,235.12 250.82,233.1 251.5,231.07 252.18,229.03 252.86,227 253.53,225 254.19,223.04 254.82,221.14 255.42,219.3 255.98,217.55 256.5,215.9 257.2,213.55 257.79,211.46 258.29,209.54 258.77,207.72 259.24,205.91 259.78,204.03 260.4,202 261.02,200.09 261.67,198.12 262.36,196.1 263.07,194.05 263.8,192 264.56,189.96 265.32,187.95 266.1,186 266.9,184.09 267.72,182.18 268.57,180.3 269.43,178.43 270.3,176.59 271.17,174.79 272.04,173.02 272.9,171.3 273.86,169.4 274.81,167.57 275.75,165.79 276.7,164.04 277.67,162.31 278.67,160.57 279.7,158.8 280.78,157.01 281.9,155.21 283.05,153.41 284.22,151.61 285.39,149.82 286.55,148.05 287.7,146.3 288.84,144.55 290,142.78 291.15,141.02 292.3,139.29 293.43,137.61 294.53,136.01 295.6,134.5 297.02,132.59 298.36,130.86 299.68,129.24 301.01,127.65 302.4,126 303.91,124.28 305.5,122.55 307.1,120.83 308.63,119.14 310,117.5 311.39,115.54 312.55,113.66 313.71,111.82 315.1,110 316.46,108.55 317.96,107.11 319.54,105.69 321.14,104.32 322.7,103 324.6,101.42 326.51,99.9 328.41,98.48 330.3,97.2 332.18,96.09 334.05,95.13 335.92,94.25 337.8,93.4 339.69,92.61 341.59,91.9 343.5,91.19 345.4,90.4 347.3,89.5 349.21,88.53 351.11,87.54 353,86.6 354.88,85.7 356.75,84.82 358.62,83.98 360.5,83.2 362.4,82.48 364.3,81.81 366.2,81.18 368.1,80.6 370.6,79.89 373.1,79.25 375.6,78.7 378.16,78.29 380.72,77.97 383.2,77.6 384.93,77.14 386.56,76.62 390,76 391.53,75.8 393.39,75.58 395.48,75.35 397.76,75.11 400.15,74.86 402.58,74.61 404.99,74.36 407.3,74.12 409.45,73.89 411.37,73.69 413,73.5 416.14,73.08 418.12,72.75 419.8,72.47 422,72.2 423.93,72.02 426.01,71.84 428.21,71.67 430.47,71.52 432.75,71.39 435,71.3 437.31,71.28 439.73,71.32 442.17,71.39 444.53,71.44 446.7,71.43 448.6,71.3 451.29,70.63 453.26,69.69 455.7,68.9 457.69,68.58 459.91,68.31 462.27,68.1 464.67,67.93 467,67.8 469.28,67.7 471.56,67.64 473.84,67.62 476.12,67.67 478.4,67.8 480.76,68.05 483.2,68.42 485.59,68.84 487.8,69.22 489.7,69.5 492.73,69.88 495.4,69.8 497.33,69.43 499.47,68.86 501.71,68.26 503.9,67.8 506.05,67.57 508.22,67.46 510.35,67.37 512.4,67.2 514.97,66.65 517.42,66.01 519.8,65.8 522.05,66.4 524.23,67.44 526.6,68.3 528.61,68.63 530.74,68.84 532.94,69 535.1,69.2 537.22,69.53 539.34,69.91 541.47,70.22 543.6,70.3 545.73,70.05 547.86,69.57 550.01,69.03 552.2,68.6 554.43,68.36 556.7,68.22 559.02,68.06 561.4,67.8 563.45,67.41 565.63,66.89 567.8,66.37 569.84,65.96 571.6,65.8 573.9,66.62 577.2,67.8 578.68,67.95 580.42,68.1 582.38,68.24 584.49,68.36 586.7,68.46 588.96,68.54 591.19,68.59 593.36,68.61 595.4,68.6 597.58,68.51 599.73,68.34 601.86,68.11 603.97,67.86 606.07,67.62 608.17,67.4 610.28,67.26 612.4,67.2 614.57,67.26 616.8,67.4 619.06,67.62 621.31,67.86 623.51,68.11 625.63,68.34 627.64,68.51 629.5,68.6 632.12,68.61 634.41,68.54 636.52,68.38 638.59,68.13 640.8,67.8 642.89,67.4 645.16,66.88 647.46,66.3 649.59,65.73 651.4,65.24 652.7,64.9" fill="none" stroke="#fcc23c" stroke-width="3" stroke-linejoin="round" stroke-linecap="round"/>
<rect x="437.3" y="101.9" width="193.9" height="202.3" fill="#fff" stroke="#555" stroke-width="1.4"/>
<line x1="445" y1="119.3" x2="502.9" y2="119.3" stroke="#3b24a3" stroke-width="3"/>
<text x="510.6" y="126.8" font-size="22.5">0 - 2 ps</text>
<line x1="445" y1="147.2" x2="502.9" y2="147.2" stroke="#4046ea" stroke-width="3"/>
<text x="510.6" y="154.7" font-size="22.5">5 - 10 ps</text>
<line x1="445" y1="175.1" x2="502.9" y2="175.1" stroke="#2f7ff4" stroke-width="3"/>
<text x="509.8" y="182.6" font-size="22.5">10 - 20 ps</text>
<line x1="445" y1="203" x2="502.9" y2="203" stroke="#16a8dc" stroke-width="3"/>
<text x="510.6" y="210.5" font-size="22.5">30 - 50 ps</text>
<line x1="445" y1="230.9" x2="502.9" y2="230.9" stroke="#30c59b" stroke-width="3"/>
<text x="510.6" y="238.4" font-size="22.5">50 - 100 ps</text>
<line x1="445" y1="258.8" x2="502.9" y2="258.8" stroke="#a3c13d" stroke-width="3"/>
<text x="510.6" y="266.3" font-size="22.5">0.3 - 1.0 ns</text>
<line x1="445" y1="286.7" x2="502.9" y2="286.7" stroke="#fcc23c" stroke-width="3"/>
<text x="509.8" y="294.2" font-size="22.5">1.5 - 1.9 ns</text>
<rect x="811.8" y="56" width="64" height="280" fill="#e8e8e8" stroke="none" stroke-width="1"/>
<line x1="1338.3" y1="25" x2="1338.3" y2="331" stroke="#e0e0e0" stroke-width="2"/>
<line x1="796" y1="54.7" x2="1338" y2="54.7" stroke="#000" stroke-width="1.2"/>
<line x1="796.1" y1="38.9" x2="796.1" y2="337.4" stroke="#222" stroke-width="2.0"/>
<line x1="795.1" y1="336.4" x2="1339.5" y2="336.4" stroke="#222" stroke-width="2.0"/>
<line x1="796.1" y1="116.5" x2="802.6" y2="116.5" stroke="#222" stroke-width="1.8"/>
<line x1="796.1" y1="185" x2="802.6" y2="185" stroke="#222" stroke-width="1.8"/>
<line x1="796.1" y1="252.6" x2="802.6" y2="252.6" stroke="#222" stroke-width="1.8"/>
<line x1="796.1" y1="321" x2="802.6" y2="321" stroke="#222" stroke-width="1.8"/>
<text x="768.3" y="62.2" font-size="27.6">0</text>
<text x="759.4" y="125.1" font-size="27.6">-1</text>
<text x="759.4" y="194.8" font-size="27.6">-2</text>
<text x="759.3" y="262.5" font-size="27.6">-3</text>
<text x="758.9" y="325" font-size="27.6">-4</text>
<line x1="878.3" y1="336.5" x2="878.3" y2="331.3" stroke="#222" stroke-width="1.8"/>
<text x="859.2" y="370.2" font-size="27.6">450</text>
<line x1="982.12" y1="336.5" x2="982.12" y2="331.3" stroke="#222" stroke-width="1.8"/>
<text x="958.45" y="370.2" font-size="27.6">500</text>
<line x1="1085.95" y1="336.5" x2="1085.95" y2="331.3" stroke="#222" stroke-width="1.8"/>
<text x="1060.95" y="370.2" font-size="27.6">550</text>
<line x1="1189.77" y1="336.5" x2="1189.77" y2="331.3" stroke="#222" stroke-width="1.8"/>
<text x="1161.7" y="370.2" font-size="27.6">600</text>
<line x1="1293.6" y1="336.5" x2="1293.6" y2="331.3" stroke="#222" stroke-width="1.8"/>
<text x="1267.7" y="366.9" font-size="27.6">650</text>
<text x="945.6" y="402.7" font-size="27.6">Probe Wavelength (nm)</text>
<text x="730" y="248.5" font-size="27.6" transform="rotate(-90 730 248.5)">Δ<tspan dx="3.5">T/T (x10</tspan><tspan font-size="17.5" dy="-11.5">-3</tspan><tspan dy="11.5">)</tspan></text>
<text x="703" y="24.6" font-size="27.6">b)</text>
<text x="743.3" y="24.6" font-size="27.6">Nanosecond TA</text>
<polyline points="796.3,198.7 797.67,199.93 800,202.5 801,203.93 802.11,205.72 803.33,207.69 804.65,209.7 806.07,211.59 807.6,213.2 809.25,214.54 811.04,215.74 812.94,216.82 814.9,217.79 816.9,218.68 818.9,219.5 820.94,220.23 823.05,220.84 825.19,221.38 827.34,221.84 829.45,222.28 831.5,222.7 833.84,223.13 836.09,223.46 838.31,223.77 840.56,224.12 842.9,224.6 845.02,225.18 847.29,225.91 849.6,226.7 851.82,227.44 853.83,228.04 855.5,228.4 858.31,228.54 860.5,227.1 861.87,225.9 863.42,224.36 865.03,222.55 866.62,220.51 868.1,218.3 869.07,216.62 869.99,214.81 870.89,212.9 871.77,210.89 872.64,208.8 873.51,206.63 874.4,204.4 875.09,202.62 875.78,200.79 876.45,198.92 877.13,197 877.81,195.03 878.5,193.01 879.21,190.96 879.94,188.85 880.7,186.7 881.35,184.88 882.02,182.98 882.71,181.03 883.42,179.03 884.14,177.01 884.86,174.98 885.58,172.96 886.29,170.96 886.98,169.01 887.65,167.12 888.3,165.3 889.06,163.18 889.79,161.14 890.5,159.16 891.19,157.22 891.87,155.32 892.55,153.43 893.22,151.54 893.91,149.64 894.6,147.7 895.31,145.72 896.02,143.72 896.74,141.71 897.46,139.69 898.18,137.69 898.88,135.7 899.57,133.75 900.25,131.85 900.9,130 901.69,127.73 902.42,125.55 903.12,123.44 903.82,121.36 904.53,119.29 905.28,117.18 906.1,115 906.87,113.01 907.67,110.94 908.5,108.83 909.36,106.72 910.23,104.63 911.11,102.61 912.01,100.69 912.9,98.9 914.1,96.71 915.31,94.67 916.55,92.77 917.81,90.97 919.09,89.26 920.4,87.6 922.01,85.7 923.66,83.92 925.35,82.25 927.06,80.68 928.8,79.2 930.54,77.85 932.28,76.63 934.07,75.49 935.93,74.37 937.9,73.2 939.65,72.15 941.5,71.06 943.41,69.96 945.34,68.91 947.29,67.94 949.2,67.1 951.41,66.29 953.58,65.64 955.77,65.1 958.08,64.61 960.6,64.1 962.53,63.73 964.52,63.39 966.59,63.07 968.74,62.75 970.97,62.44 973.29,62.12 975.7,61.8 977.68,61.55 979.79,61.31 981.98,61.08 984.23,60.85 986.49,60.61 988.73,60.36 990.92,60.1 993.02,59.81 995,59.5 997.32,59.01 999.45,58.43 1001.47,57.8 1003.45,57.18 1005.48,56.62 1007.63,56.18 1010,55.9 1011.83,55.83 1013.8,55.86 1015.87,55.96 1018,56.11 1020.16,56.29 1022.3,56.49 1024.39,56.69 1026.4,56.86 1028.28,56.98 1030,57.04 1032.52,57.03 1034.72,56.96 1036.72,56.83 1038.61,56.67 1040.5,56.48 1042.5,56.28 1044.58,56.05 1046.67,55.77 1048.76,55.47 1050.84,55.16 1052.92,54.86 1055,54.59 1057.07,54.31 1059.13,54.02 1061.19,53.74 1063.26,53.49 1065.32,53.31 1067.4,53.22 1069.46,53.23 1071.5,53.3 1073.54,53.44 1075.61,53.63 1077.76,53.89 1080,54.21 1082.06,54.58 1084.26,55.09 1086.52,55.65 1088.8,56.22 1091.01,56.73 1093.1,57.12 1095,57.32 1097.28,57.27 1099.24,56.93 1101.07,56.44 1102.93,55.9 1105,55.45 1106.87,55.08 1108.77,54.67 1110.74,54.25 1112.81,53.88 1115.02,53.62 1117.4,53.51 1119.35,53.57 1121.45,53.75 1123.66,54.01 1125.94,54.31 1128.23,54.63 1130.5,54.93 1132.71,55.18 1134.8,55.34 1137.07,55.42 1139.26,55.43 1141.4,55.4 1143.5,55.34 1145.58,55.28 1147.68,55.25 1149.8,55.27 1152.01,55.35 1154.3,55.49 1156.62,55.65 1158.9,55.82 1161.06,55.95 1163.05,56.02 1164.8,56.01 1167.67,55.51 1169.71,54.75 1172.3,54.33 1174.07,54.37 1176.01,54.54 1178.09,54.79 1180.27,55.09 1182.52,55.4 1184.8,55.67 1186.8,55.9 1188.88,56.17 1191.01,56.46 1193.18,56.73 1195.37,56.96 1197.55,57.14 1199.7,57.23 1201.84,57.24 1203.98,57.19 1206.12,57.07 1208.27,56.92 1210.41,56.73 1212.56,56.51 1214.7,56.28 1216.82,55.97 1218.91,55.58 1221,55.14 1223.1,54.71 1225.23,54.32 1227.43,54.03 1229.7,53.89 1231.77,53.91 1233.9,54.06 1236.08,54.3 1238.3,54.59 1240.53,54.88 1242.77,55.15 1245,55.35 1247.2,55.45 1249.4,55.41 1251.61,55.27 1253.84,55.07 1256.06,54.83 1258.26,54.6 1260.42,54.42 1262.54,54.33 1264.6,54.36 1266.87,54.61 1269.06,55.05 1271.2,55.59 1273.3,56.16 1275.38,56.67 1277.48,57.04 1279.6,57.19 1281.74,57.06 1283.89,56.71 1286.03,56.22 1288.17,55.67 1290.31,55.14 1292.46,54.72 1294.6,54.48 1296.74,54.43 1298.89,54.51 1301.03,54.68 1303.17,54.9 1305.31,55.13 1307.46,55.33 1309.6,55.45 1311.77,55.48 1313.96,55.46 1316.17,55.4 1318.35,55.35 1320.5,55.33 1322.59,55.37 1324.6,55.5 1326.96,55.8 1329.39,56.25 1331.74,56.77 1333.88,57.29 1335.68,57.73 1337,58.04" fill="none" stroke="#3b24a3" stroke-width="3" stroke-linejoin="round" stroke-linecap="round"/>
<polyline points="796.3,263.6 797.11,264.62 798.34,266.26 800,269.1 800.69,270.52 801.48,272.28 802.34,274.27 803.25,276.4 804.19,278.57 805.11,280.66 806.01,282.58 806.85,284.23 807.6,285.5 810.02,287.38 812.6,288 814.18,289.11 816.02,290.52 817.96,292.01 819.82,293.34 821.4,294.3 823.48,294.48 826.5,294.9 827.85,295.48 829.46,296.21 831.27,297.07 833.22,298.02 835.25,299.04 837.3,300.09 839.29,301.13 841.18,302.15 842.9,303.1 844.94,304.39 846.92,305.85 848.83,307.34 850.65,308.75 852.38,309.96 854,310.85 855.5,311.3 857.75,311.15 859.62,310.12 861.32,308.27 863.1,305.7 863.94,304.31 864.77,302.75 865.6,301.02 866.43,299.15 867.27,297.13 868.1,295 868.93,292.76 869.76,290.42 870.6,288 871.18,286.26 871.76,284.46 872.35,282.59 872.93,280.66 873.52,278.68 874.1,276.64 874.69,274.57 875.27,272.46 875.86,270.31 876.44,268.14 877.03,265.94 877.62,263.73 878.2,261.5 878.68,259.65 879.18,257.72 879.7,255.73 880.22,253.69 880.75,251.62 881.27,249.52 881.8,247.41 882.32,245.3 882.83,243.21 883.32,241.14 883.8,239.11 884.26,237.13 884.69,235.22 885.09,233.39 885.47,231.64 885.8,230 886.29,227.31 886.65,224.86 886.92,222.6 887.12,220.49 887.3,218.49 887.47,216.56 887.67,214.64 887.94,212.7 888.3,210.7 888.74,208.69 889.22,206.75 889.73,204.85 890.28,202.98 890.85,201.1 891.44,199.19 892.05,197.24 892.67,195.22 893.3,193.1 893.83,191.28 894.38,189.38 894.96,187.41 895.55,185.4 896.14,183.37 896.74,181.33 897.34,179.3 897.93,177.29 898.51,175.32 899.07,173.42 899.6,171.6 900.21,169.51 900.79,167.55 901.34,165.68 901.88,163.86 902.42,162.05 902.96,160.2 903.51,158.27 904.09,156.22 904.7,154 905.18,152.2 905.69,150.27 906.2,148.24 906.73,146.14 907.27,144 907.81,141.84 908.36,139.69 908.9,137.57 909.44,135.52 909.97,133.55 910.49,131.71 911,130 911.74,127.68 912.46,125.57 913.17,123.63 913.87,121.81 914.57,120.08 915.27,118.4 915.98,116.72 916.7,115 917.53,113.02 918.35,111.09 919.17,109.2 920,107.35 920.86,105.54 921.76,103.76 922.7,102 923.87,99.96 925.11,97.94 926.4,95.96 927.71,94.06 929.01,92.26 930.3,90.6 931.82,88.8 933.34,87.18 934.87,85.69 936.39,84.31 937.9,83 939.78,81.51 941.65,80.21 943.52,78.97 945.4,77.7 947.29,76.34 949.19,74.96 951.1,73.62 953,72.4 954.9,71.33 956.81,70.36 958.71,69.46 960.6,68.6 962.38,67.78 964.08,67.01 965.92,66.28 968.1,65.6 969.73,65.18 971.44,64.78 973.27,64.41 975.27,64.04 977.5,63.68 980,63.3 981.72,63.08 983.64,62.87 985.72,62.67 987.9,62.47 990.12,62.26 992.33,62.05 994.48,61.82 996.51,61.57 998.37,61.3 1000,61 1002.48,60.23 1004.24,59.29 1005.76,58.33 1007.52,57.49 1010,56.91 1011.63,56.76 1013.48,56.68 1015.5,56.66 1017.64,56.69 1019.84,56.75 1022.06,56.83 1024.24,56.91 1026.32,56.99 1028.26,57.05 1030,57.07 1032.52,57.09 1034.72,57.11 1036.72,57.13 1038.61,57.12 1040.5,57.06 1042.5,56.95 1044.58,56.77 1046.67,56.53 1048.76,56.24 1050.84,55.93 1052.92,55.61 1055,55.29 1057.07,54.93 1059.13,54.5 1061.19,54.07 1063.26,53.67 1065.32,53.38 1067.4,53.25 1069.46,53.31 1071.5,53.53 1073.54,53.84 1075.61,54.21 1077.76,54.59 1080,54.93 1082.06,55.23 1084.26,55.57 1086.52,55.93 1088.8,56.28 1091.01,56.58 1093.1,56.8 1095,56.9 1097.28,56.82 1099.24,56.54 1101.07,56.15 1102.93,55.75 1105,55.41 1106.87,55.16 1108.77,54.87 1110.74,54.6 1112.81,54.37 1115.02,54.22 1117.4,54.2 1119.35,54.3 1121.45,54.5 1123.66,54.77 1125.94,55.07 1128.23,55.38 1130.5,55.67 1132.71,55.91 1134.8,56.07 1137.07,56.15 1139.26,56.15 1141.4,56.1 1143.5,56.03 1145.58,55.95 1147.68,55.9 1149.8,55.9 1152.01,55.97 1154.3,56.11 1156.62,56.27 1158.9,56.43 1161.06,56.53 1163.05,56.56 1164.8,56.46 1167.09,55.84 1168.71,54.87 1170.25,53.95 1172.3,53.5 1174.07,53.6 1176.01,53.93 1178.09,54.41 1180.27,54.95 1182.52,55.47 1184.8,55.87 1186.8,56.14 1188.88,56.41 1191.01,56.67 1193.18,56.9 1195.37,57.09 1197.55,57.23 1199.7,57.32 1201.84,57.36 1203.98,57.34 1206.12,57.27 1208.27,57.17 1210.41,57.03 1212.56,56.87 1214.7,56.68 1216.82,56.41 1218.91,56.06 1221,55.65 1223.1,55.25 1225.23,54.89 1227.43,54.63 1229.7,54.51 1231.77,54.57 1233.9,54.75 1236.08,55.02 1238.3,55.33 1240.53,55.66 1242.77,55.95 1245,56.16 1247.2,56.26 1249.4,56.21 1251.61,56.05 1253.84,55.8 1256.06,55.53 1258.26,55.26 1260.42,55.05 1262.54,54.93 1264.6,54.96 1266.87,55.22 1269.06,55.7 1271.2,56.29 1273.3,56.92 1275.38,57.47 1277.48,57.86 1279.6,57.99 1281.74,57.81 1283.89,57.38 1286.03,56.78 1288.17,56.12 1290.31,55.47 1292.46,54.92 1294.6,54.57 1296.74,54.4 1298.89,54.33 1301.03,54.34 1303.17,54.42 1305.31,54.53 1307.46,54.67 1309.6,54.79 1311.77,54.93 1313.96,55.11 1316.17,55.32 1318.35,55.54 1320.5,55.77 1322.59,55.99 1324.6,56.2 1326.96,56.44 1329.39,56.7 1331.74,56.95 1333.88,57.19 1335.68,57.38 1337,57.53" fill="none" stroke="#4046ea" stroke-width="3" stroke-linejoin="round" stroke-linecap="round"/>
<polyline points="796.3,230 797.11,230.92 798.34,232.39 800,235 800.78,236.48 801.69,238.32 802.68,240.4 803.72,242.6 804.77,244.8 805.79,246.88 806.75,248.72 807.6,250.2 809.32,252.57 810.75,253.81 812.6,255.2 814.18,256.48 816.02,257.93 817.96,259.37 819.82,260.62 821.4,261.5 823.63,261.46 826.5,261.5 828.04,262.14 829.87,263.03 831.91,264.08 834.07,265.23 836.27,266.4 838.41,267.51 840.4,268.5 842.65,269.61 844.93,270.77 847.17,271.89 849.31,272.89 851.28,273.65 853,274.1 855.52,274.15 857.34,273.3 859.3,271.6 860.51,270.37 861.8,268.84 863.12,267.1 864.43,265.24 865.67,263.34 866.8,261.5 867.79,259.76 868.68,258.06 869.51,256.32 870.3,254.49 871.08,252.47 871.9,250.2 872.47,248.52 873.04,246.73 873.62,244.83 874.19,242.86 874.77,240.83 875.33,238.76 875.87,236.66 876.4,234.57 876.9,232.5 877.37,230.42 877.8,228.29 878.21,226.12 878.6,223.94 878.99,221.75 879.38,219.57 879.79,217.41 880.23,215.28 880.7,213.2 881.2,211.19 881.72,209.25 882.26,207.35 882.81,205.48 883.38,203.6 883.96,201.69 884.56,199.74 885.17,197.72 885.8,195.6 886.33,193.78 886.87,191.89 887.43,189.95 888,187.96 888.58,185.94 889.17,183.92 889.76,181.89 890.35,179.88 890.94,177.9 891.52,175.97 892.1,174.1 892.79,171.92 893.48,169.85 894.16,167.84 894.83,165.87 895.52,163.89 896.21,161.87 896.92,159.77 897.65,157.56 898.4,155.2 898.95,153.44 899.52,151.57 900.11,149.61 900.71,147.58 901.32,145.5 901.94,143.41 902.56,141.31 903.16,139.24 903.76,137.21 904.34,135.25 904.89,133.38 905.41,131.62 905.9,130 906.7,127.32 907.39,124.96 908,122.84 908.59,120.87 909.19,118.96 909.84,117.03 910.6,115 911.34,113.13 912.13,111.24 912.96,109.35 913.82,107.47 914.7,105.62 915.59,103.81 916.5,102.06 917.4,100.4 918.62,98.28 919.87,96.25 921.15,94.31 922.44,92.47 923.72,90.73 925,89.1 926.5,87.32 927.97,85.72 929.46,84.25 930.99,82.86 932.6,81.5 934.27,80.18 935.98,78.95 937.76,77.76 939.62,76.59 941.6,75.4 943.36,74.38 945.23,73.34 947.16,72.31 949.12,71.29 951.08,70.32 953,69.4 954.84,68.53 956.61,67.69 958.38,66.89 960.21,66.13 962.16,65.43 964.3,64.8 966.27,64.32 968.34,63.9 970.5,63.52 972.74,63.18 975.07,62.86 977.49,62.53 980,62.2 981.87,61.97 983.88,61.76 986,61.56 988.17,61.37 990.36,61.18 992.51,60.98 994.6,60.77 996.57,60.54 998.39,60.29 1000,60 1002.48,59.25 1004.24,58.31 1005.76,57.37 1007.52,56.58 1010,56.11 1011.63,56.04 1013.48,56.09 1015.5,56.23 1017.64,56.42 1019.84,56.66 1022.06,56.9 1024.24,57.12 1026.32,57.31 1028.26,57.43 1030,57.46 1032.52,57.33 1034.72,57.05 1036.72,56.69 1038.61,56.29 1040.5,55.92 1042.5,55.64 1044.58,55.45 1046.67,55.31 1048.76,55.2 1050.84,55.09 1052.92,54.97 1055,54.8 1057.07,54.55 1059.13,54.24 1061.19,53.9 1063.26,53.6 1065.32,53.36 1067.4,53.25 1069.46,53.26 1071.5,53.35 1073.54,53.51 1075.61,53.74 1077.76,54.02 1080,54.34 1082.06,54.7 1084.26,55.17 1086.52,55.7 1088.8,56.23 1091.01,56.7 1093.1,57.07 1095,57.26 1097.28,57.25 1099.24,56.98 1101.07,56.57 1102.93,56.11 1105,55.69 1106.87,55.33 1108.77,54.9 1110.74,54.45 1112.81,54.06 1115.02,53.77 1117.4,53.66 1119.35,53.73 1121.45,53.91 1123.66,54.17 1125.94,54.49 1128.23,54.82 1130.5,55.15 1132.71,55.43 1134.8,55.64 1137.07,55.81 1139.26,55.96 1141.4,56.07 1143.5,56.16 1145.58,56.22 1147.68,56.26 1149.8,56.27 1152.01,56.25 1154.3,56.19 1156.62,56.11 1158.9,56.01 1161.06,55.89 1163.05,55.76 1164.8,55.63 1167.67,55.15 1169.71,54.61 1172.3,54.43 1174.07,54.59 1176.01,54.89 1178.09,55.29 1180.27,55.71 1182.52,56.11 1184.8,56.43 1186.8,56.66 1188.88,56.89 1191.01,57.12 1193.18,57.31 1195.37,57.45 1197.55,57.53 1199.7,57.53 1201.84,57.42 1203.98,57.22 1206.12,56.95 1208.27,56.64 1210.41,56.31 1212.56,56 1214.7,55.72 1216.82,55.43 1218.91,55.09 1221,54.74 1223.1,54.42 1225.23,54.16 1227.43,54 1229.7,53.98 1231.77,54.12 1233.9,54.41 1236.08,54.79 1238.3,55.23 1240.53,55.67 1242.77,56.06 1245,56.37 1247.2,56.53 1249.4,56.53 1251.61,56.4 1253.84,56.17 1256.06,55.9 1258.26,55.63 1260.42,55.41 1262.54,55.27 1264.6,55.27 1266.87,55.47 1269.06,55.87 1271.2,56.37 1273.3,56.9 1275.38,57.36 1277.48,57.67 1279.6,57.75 1281.74,57.55 1283.89,57.11 1286.03,56.53 1288.17,55.88 1290.31,55.26 1292.46,54.74 1294.6,54.42 1296.74,54.3 1298.89,54.3 1301.03,54.39 1303.17,54.54 1305.31,54.71 1307.46,54.88 1309.6,55 1311.77,55.09 1313.96,55.16 1316.17,55.23 1318.35,55.31 1320.5,55.42 1322.59,55.54 1324.6,55.71 1326.96,55.98 1329.39,56.34 1331.74,56.72 1333.88,57.1 1335.68,57.42 1337,57.64" fill="none" stroke="#3a7ef8" stroke-width="3" stroke-linejoin="round" stroke-linecap="round"/>
<polyline points="796.3,175 797.67,175.84 800,177.8 801.25,179.21 802.7,180.98 804.29,182.94 805.94,184.91 807.6,186.7 809.28,188.39 811.03,190.11 812.82,191.73 814.62,193.17 816.4,194.3 818.51,195.13 820.56,195.49 822.73,195.73 825.2,196.2 827.15,196.78 829.35,197.5 831.66,198.28 833.93,199.01 836.02,199.62 837.8,200 840.27,199.96 842.04,199.4 844.1,199.1 846.17,199.52 848.48,200.26 850.81,200.8 853,200.6 854.59,199.74 856.1,198.44 857.56,196.81 859.02,194.99 860.5,193.1 861.79,191.41 863.12,189.54 864.46,187.56 865.76,185.55 866.98,183.57 868.1,181.7 869.26,179.64 870.28,177.69 871.22,175.76 872.14,173.76 873.1,171.6 873.93,169.67 874.75,167.68 875.57,165.61 876.41,163.48 877.28,161.27 878.2,159 878.93,157.22 879.69,155.37 880.47,153.47 881.28,151.53 882.08,149.58 882.9,147.65 883.7,145.75 884.5,143.9 885.42,141.82 886.36,139.73 887.31,137.65 888.25,135.62 889.15,133.65 890.01,131.77 890.8,130 891.76,127.76 892.59,125.74 893.36,123.85 894.14,121.97 895,120 895.91,117.99 896.82,116.02 897.77,114 898.82,111.86 900,109.5 900.83,107.85 901.72,106.05 902.66,104.15 903.64,102.21 904.64,100.28 905.65,98.42 906.64,96.67 907.6,95.1 909.07,92.89 910.49,90.93 911.93,89.16 913.45,87.54 915.1,86 916.94,84.61 918.93,83.42 920.98,82.31 923.03,81.2 925,80 926.84,78.69 928.59,77.34 930.34,75.96 932.15,74.57 934.1,73.2 935.85,72.03 937.7,70.82 939.61,69.61 941.54,68.44 943.49,67.36 945.4,66.4 947.25,65.58 949.06,64.86 950.86,64.22 952.72,63.64 954.68,63.11 956.8,62.6 958.74,62.19 960.76,61.82 962.86,61.48 965.02,61.17 967.26,60.88 969.55,60.59 971.9,60.3 973.77,60.08 975.68,59.87 977.64,59.66 979.63,59.46 981.66,59.27 983.71,59.08 985.79,58.89 987.89,58.69 990,58.5 991.92,58.32 993.88,58.12 995.86,57.92 997.86,57.72 999.88,57.52 1001.91,57.34 1003.94,57.16 1005.97,57.01 1007.99,56.87 1010,56.77 1012.03,56.7 1014.12,56.67 1016.24,56.66 1018.36,56.67 1020.47,56.7 1022.54,56.73 1024.55,56.75 1026.48,56.77 1028.3,56.77 1030,56.74 1032.52,56.66 1034.72,56.55 1036.72,56.42 1038.61,56.27 1040.5,56.1 1042.5,55.91 1044.58,55.69 1046.67,55.46 1048.76,55.2 1050.84,54.92 1052.92,54.63 1055,54.33 1057.07,53.97 1059.13,53.54 1061.19,53.09 1063.26,52.68 1065.32,52.37 1067.4,52.2 1069.46,52.18 1071.5,52.28 1073.54,52.46 1075.61,52.73 1077.76,53.05 1080,53.41 1082.06,53.82 1084.26,54.37 1086.52,54.98 1088.8,55.59 1091.01,56.13 1093.1,56.54 1095,56.74 1097.28,56.64 1099.24,56.21 1101.07,55.62 1102.93,55.01 1105,54.57 1106.87,54.31 1108.77,54.06 1110.74,53.84 1112.81,53.68 1115.02,53.61 1117.4,53.64 1119.35,53.76 1121.45,53.97 1123.66,54.24 1125.94,54.55 1128.23,54.87 1130.5,55.18 1132.71,55.45 1134.8,55.65 1137.07,55.81 1139.26,55.95 1141.4,56.06 1143.5,56.14 1145.58,56.18 1147.68,56.17 1149.8,56.12 1152.01,56.01 1154.3,55.83 1156.62,55.61 1158.9,55.35 1161.06,55.08 1163.05,54.82 1164.8,54.57 1167.67,53.84 1169.71,53.1 1172.3,52.82 1174.07,52.97 1176.01,53.3 1178.09,53.75 1180.27,54.26 1182.52,54.76 1184.8,55.21 1186.8,55.6 1188.88,56.06 1191.01,56.53 1193.18,56.97 1195.37,57.34 1197.55,57.58 1199.7,57.66 1201.84,57.53 1203.98,57.22 1206.12,56.78 1208.27,56.28 1210.41,55.76 1212.56,55.3 1214.7,54.93 1216.82,54.65 1218.91,54.37 1221,54.13 1223.1,53.91 1225.23,53.75 1227.43,53.65 1229.7,53.62 1231.77,53.68 1233.9,53.84 1236.08,54.06 1238.3,54.32 1240.53,54.57 1242.77,54.8 1245,54.97 1247.2,55.05 1249.4,55.01 1251.61,54.86 1253.84,54.65 1256.06,54.41 1258.26,54.18 1260.42,54.01 1262.54,53.93 1264.6,53.98 1266.87,54.27 1269.06,54.77 1271.2,55.39 1273.3,56.03 1275.38,56.6 1277.48,57 1279.6,57.13 1281.74,56.94 1283.89,56.47 1286.03,55.84 1288.17,55.14 1290.31,54.45 1292.46,53.9 1294.6,53.56 1296.74,53.44 1298.89,53.45 1301.03,53.56 1303.17,53.74 1305.31,53.96 1307.46,54.18 1309.6,54.37 1311.77,54.56 1313.96,54.77 1316.17,54.99 1318.35,55.23 1320.5,55.47 1322.59,55.7 1324.6,55.93 1326.96,56.2 1329.39,56.48 1331.74,56.77 1333.88,57.03 1335.68,57.25 1337,57.41" fill="none" stroke="#1fa0e0" stroke-width="3" stroke-linejoin="round" stroke-linecap="round"/>
<polyline points="796.3,141 800,142.5 801.28,143.52 802.8,144.86 804.49,146.39 806.31,147.97 808.2,149.49 810.1,150.8 812.06,151.93 814.11,152.99 816.24,153.98 818.41,154.89 820.57,155.73 822.7,156.5 824.84,157.23 827.04,157.93 829.24,158.56 831.38,159.08 833.42,159.44 835.3,159.6 837.8,159.3 840.01,158.51 842.07,157.64 844.1,157.1 846.68,157.33 849.12,157.9 851.7,157.7 853.4,156.94 855.19,155.86 857.01,154.52 858.8,153.01 860.5,151.4 861.85,149.95 863.17,148.36 864.46,146.66 865.71,144.9 866.92,143.1 868.1,141.3 869.24,139.47 870.36,137.57 871.44,135.64 872.47,133.71 873.46,131.82 874.4,130 875.41,127.9 876.31,125.86 877.17,123.87 878.04,121.92 879,120 880,118.18 881.01,116.45 882.08,114.73 883.26,112.94 884.6,111 885.71,109.48 886.95,107.86 888.26,106.19 889.61,104.48 890.95,102.78 892.23,101.11 893.4,99.5 894.62,97.67 895.73,95.85 896.77,94.06 897.81,92.32 898.87,90.66 900,89.1 901.42,87.39 902.86,85.82 904.35,84.35 905.92,82.92 907.6,81.5 909.43,80.05 911.4,78.62 913.42,77.22 915.45,75.91 917.4,74.7 919.23,73.64 920.98,72.7 922.73,71.83 924.54,70.98 926.5,70.1 928.22,69.34 929.99,68.57 931.82,67.8 933.74,67.04 935.76,66.31 937.9,65.6 939.86,65.01 941.94,64.42 944.11,63.84 946.33,63.29 948.58,62.76 950.81,62.26 953,61.8 955.14,61.39 957.26,61.01 959.38,60.67 961.5,60.35 963.65,60.06 965.85,59.77 968.1,59.5 970.07,59.27 972.01,59.07 973.95,58.88 975.93,58.7 977.99,58.53 980.16,58.36 982.49,58.18 985,58 986.82,57.87 988.76,57.72 990.8,57.56 992.92,57.41 995.1,57.25 997.31,57.09 999.53,56.94 1001.74,56.81 1003.91,56.68 1006.03,56.58 1008.07,56.5 1010,56.44 1012.24,56.42 1014.44,56.45 1016.6,56.52 1018.72,56.62 1020.78,56.72 1022.78,56.83 1024.71,56.93 1026.56,57 1028.33,57.03 1030,57.02 1032.52,56.91 1034.72,56.74 1036.72,56.5 1038.61,56.23 1040.5,55.93 1042.5,55.62 1044.58,55.28 1046.67,54.88 1048.76,54.46 1050.84,54.04 1052.92,53.65 1055,53.32 1057.07,53.01 1059.13,52.7 1061.19,52.43 1063.26,52.21 1065.32,52.08 1067.4,52.06 1069.46,52.19 1071.5,52.44 1073.54,52.78 1075.61,53.18 1077.76,53.59 1080,54 1082.06,54.39 1084.26,54.88 1086.52,55.39 1088.8,55.89 1091.01,56.32 1093.1,56.61 1095,56.73 1097.28,56.53 1099.24,56 1101.07,55.31 1102.93,54.63 1105,54.12 1106.87,53.81 1108.77,53.52 1110.74,53.27 1112.81,53.09 1115.02,53 1117.4,53.03 1119.35,53.18 1121.45,53.44 1123.66,53.78 1125.94,54.16 1128.23,54.55 1130.5,54.9 1132.71,55.18 1134.8,55.35 1137.07,55.41 1139.26,55.37 1141.4,55.26 1143.5,55.11 1145.58,54.96 1147.68,54.83 1149.8,54.77 1152.01,54.78 1154.3,54.85 1156.62,54.94 1158.9,55.03 1161.06,55.1 1163.05,55.1 1164.8,55.02 1167.67,54.3 1169.71,53.31 1172.3,52.86 1174.07,53.03 1176.01,53.41 1178.09,53.93 1180.27,54.5 1182.52,55.05 1184.8,55.5 1186.8,55.85 1188.88,56.21 1191.01,56.58 1193.18,56.9 1195.37,57.17 1197.55,57.35 1199.7,57.41 1201.84,57.33 1203.98,57.12 1206.12,56.82 1208.27,56.46 1210.41,56.09 1212.56,55.73 1214.7,55.41 1216.82,55.11 1218.91,54.77 1221,54.43 1223.1,54.11 1225.23,53.83 1227.43,53.64 1229.7,53.55 1231.77,53.59 1233.9,53.74 1236.08,53.96 1238.3,54.23 1240.53,54.5 1242.77,54.75 1245,54.94 1247.2,55.05 1249.4,55.05 1251.61,54.96 1253.84,54.81 1256.06,54.64 1258.26,54.48 1260.42,54.36 1262.54,54.31 1264.6,54.37 1266.87,54.62 1269.06,55.05 1271.2,55.57 1273.3,56.11 1275.38,56.58 1277.48,56.89 1279.6,56.98 1281.74,56.77 1283.89,56.33 1286.03,55.73 1288.17,55.07 1290.31,54.43 1292.46,53.9 1294.6,53.57 1296.74,53.44 1298.89,53.43 1301.03,53.51 1303.17,53.65 1305.31,53.83 1307.46,54 1309.6,54.15 1311.77,54.29 1313.96,54.45 1316.17,54.63 1318.35,54.81 1320.5,55 1322.59,55.18 1324.6,55.35 1326.96,55.55 1329.39,55.77 1331.74,55.98 1333.88,56.18 1335.68,56.34 1337,56.46" fill="none" stroke="#18b9c0" stroke-width="3" stroke-linejoin="round" stroke-linecap="round"/>
<polyline points="796.3,117.6 797.4,118.6 798.98,120.04 800.79,121.66 802.6,123.2 804.32,124.65 806.09,126.12 808.01,127.56 810.2,128.9 811.93,129.76 813.88,130.63 815.93,131.46 817.97,132.21 819.86,132.84 821.5,133.3 823.83,133.51 825.6,133.23 827.8,133.3 829.64,133.81 831.75,134.57 833.95,135.39 836.06,136.1 837.9,136.5 840.23,136.35 842.14,135.7 844.2,135.2 846.69,135.22 849.31,135.38 851.8,135.2 853.95,134.7 855.95,133.86 858.1,132.1 859.29,130.71 860.54,129.01 861.83,127.07 863.13,124.99 864.42,122.84 865.7,120.7 866.78,118.82 867.85,116.83 868.92,114.78 869.98,112.71 871.05,110.65 872.12,108.67 873.2,106.8 874.43,104.74 875.63,102.75 876.84,100.83 878.08,98.99 879.39,97.21 880.8,95.5 882.35,93.87 884.02,92.33 885.76,90.86 887.51,89.44 889.25,88.06 890.9,86.7 892.81,85.08 894.68,83.5 896.52,81.98 898.29,80.54 900,79.2 901.95,77.75 903.76,76.48 905.58,75.25 907.6,73.9 909.37,72.64 911.21,71.28 913.15,69.9 915.21,68.61 917.4,67.5 919.35,66.76 921.39,66.13 923.52,65.59 925.72,65.09 927.99,64.61 930.3,64.1 932.34,63.64 934.45,63.18 936.61,62.73 938.81,62.29 941.01,61.87 943.22,61.47 945.4,61.1 947.57,60.76 949.76,60.46 951.95,60.17 954.14,59.91 956.31,59.66 958.47,59.43 960.6,59.2 962.69,58.99 964.76,58.8 966.8,58.63 968.83,58.46 970.87,58.31 972.92,58.15 975,58 977.07,57.85 979.1,57.7 981.12,57.56 983.19,57.42 985.33,57.28 987.59,57.14 990,57 991.8,56.9 993.68,56.79 995.63,56.68 997.64,56.56 999.69,56.45 1001.76,56.35 1003.84,56.25 1005.92,56.16 1007.98,56.09 1010,56.03 1012.03,55.99 1014.12,55.97 1016.24,55.97 1018.36,55.97 1020.47,55.98 1022.54,56 1024.55,56.01 1026.48,56.02 1028.3,56.01 1030,55.99 1032.52,55.93 1034.72,55.86 1036.72,55.78 1038.61,55.68 1040.5,55.56 1042.5,55.41 1044.58,55.23 1046.67,55.04 1048.76,54.83 1050.84,54.59 1052.92,54.32 1055,54.03 1057.07,53.65 1059.13,53.17 1061.19,52.67 1063.26,52.22 1065.32,51.88 1067.4,51.74 1069.46,51.83 1071.5,52.1 1073.54,52.49 1075.61,52.94 1077.76,53.39 1080,53.78 1082.06,54.1 1084.26,54.46 1086.52,54.83 1088.8,55.18 1091.01,55.47 1093.1,55.68 1095,55.77 1097.28,55.65 1099.24,55.31 1101.07,54.85 1102.93,54.39 1105,54.03 1106.87,53.78 1108.77,53.52 1110.74,53.28 1112.81,53.09 1115.02,52.99 1117.4,52.99 1119.35,53.1 1121.45,53.3 1123.66,53.57 1125.94,53.88 1128.23,54.19 1130.5,54.47 1132.71,54.7 1134.8,54.85 1137.07,54.91 1139.26,54.9 1141.4,54.83 1143.5,54.73 1145.58,54.63 1147.68,54.55 1149.8,54.51 1152.01,54.53 1154.3,54.6 1156.62,54.68 1158.9,54.77 1161.06,54.82 1163.05,54.81 1164.8,54.72 1167.67,54.04 1169.71,53.09 1172.3,52.59 1174.07,52.68 1176.01,52.94 1178.09,53.31 1180.27,53.74 1182.52,54.16 1184.8,54.54 1186.8,54.85 1188.88,55.2 1191.01,55.57 1193.18,55.91 1195.37,56.2 1197.55,56.41 1199.7,56.5 1201.84,56.45 1203.98,56.29 1206.12,56.04 1208.27,55.73 1210.41,55.41 1212.56,55.1 1214.7,54.84 1216.82,54.59 1218.91,54.29 1221,53.99 1223.1,53.72 1225.23,53.5 1227.43,53.36 1229.7,53.34 1231.77,53.46 1233.9,53.71 1236.08,54.04 1238.3,54.41 1240.53,54.79 1242.77,55.13 1245,55.39 1247.2,55.53 1249.4,55.54 1251.61,55.44 1253.84,55.26 1256.06,55.05 1258.26,54.83 1260.42,54.64 1262.54,54.51 1264.6,54.49 1266.87,54.61 1269.06,54.87 1271.2,55.19 1273.3,55.54 1275.38,55.84 1277.48,56.05 1279.6,56.12 1281.74,56 1283.89,55.75 1286.03,55.4 1288.17,55.01 1290.31,54.62 1292.46,54.3 1294.6,54.08 1296.74,53.96 1298.89,53.88 1301.03,53.85 1303.17,53.85 1305.31,53.89 1307.46,53.96 1309.6,54.06 1311.77,54.2 1313.96,54.4 1316.17,54.64 1318.35,54.9 1320.5,55.16 1322.59,55.42 1324.6,55.64 1326.96,55.89 1329.39,56.15 1331.74,56.39 1333.88,56.62 1335.68,56.81 1337,56.94" fill="none" stroke="#57c877" stroke-width="3" stroke-linejoin="round" stroke-linecap="round"/>
<polyline points="796.3,104.3 797.99,103.42 800.7,103.1 802.53,103.9 804.68,105.19 806.89,106.54 808.9,107.5 811.09,107.86 813.07,107.8 815.2,108.1 817.07,108.9 819.08,110 821.05,111.1 822.8,111.9 825.3,112.12 827.8,112.5 829.49,113.61 831.36,115.17 833.35,116.67 835.4,117.6 837.54,117.69 839.8,117.27 842.06,116.68 844.2,116.3 846.78,116.41 849.22,116.67 851.8,116.3 853.5,115.53 855.29,114.46 857.11,113.2 858.9,111.87 860.6,110.6 862.58,109.13 864.48,107.64 866.33,106.06 868.2,104.3 869.7,102.7 871.18,100.96 872.67,99.14 874.2,97.3 875.8,95.5 877.2,94 878.64,92.47 880.12,90.94 881.62,89.45 883.12,88.02 884.6,86.7 886.4,85.27 888.23,83.98 890.04,82.77 891.78,81.59 893.4,80.4 895.18,78.86 896.77,77.33 898.33,75.86 900,74.5 901.79,73.32 903.64,72.26 905.57,71.23 907.6,70.1 909.25,69.05 910.92,67.92 912.66,66.77 914.57,65.7 916.7,64.8 918.69,64.21 920.84,63.72 923.12,63.31 925.49,62.94 927.89,62.58 930.3,62.2 932.38,61.85 934.5,61.5 936.66,61.15 938.84,60.81 941.03,60.49 943.22,60.18 945.4,59.9 947.57,59.64 949.76,59.41 951.95,59.2 954.14,58.99 956.31,58.8 958.47,58.6 960.6,58.4 962.69,58.19 964.76,57.98 966.8,57.77 968.83,57.57 970.87,57.37 972.92,57.18 975,57 977.07,56.83 979.1,56.67 981.12,56.52 983.19,56.37 985.33,56.24 987.59,56.11 990,56 991.8,55.92 993.68,55.84 995.63,55.77 997.64,55.69 999.69,55.62 1001.76,55.57 1003.84,55.52 1005.92,55.49 1007.98,55.48 1010,55.49 1012.03,55.55 1014.12,55.65 1016.24,55.78 1018.36,55.94 1020.47,56.1 1022.54,56.25 1024.55,56.38 1026.48,56.46 1028.3,56.5 1030,56.46 1032.52,56.23 1034.72,55.82 1036.72,55.32 1038.61,54.8 1040.5,54.35 1042.5,54.02 1044.58,53.86 1046.67,53.81 1048.76,53.82 1050.84,53.84 1052.92,53.82 1055,53.72 1057.07,53.51 1059.13,53.22 1061.19,52.89 1063.26,52.58 1065.32,52.32 1067.4,52.15 1069.46,52.06 1071.5,52 1073.54,51.99 1075.61,52.05 1077.76,52.21 1080,52.48 1082.06,52.87 1084.26,53.43 1086.52,54.08 1088.8,54.75 1091.01,55.36 1093.1,55.85 1095,56.13 1097.28,56.17 1099.24,55.93 1101.07,55.52 1102.93,55.05 1105,54.63 1106.87,54.25 1108.77,53.79 1110.74,53.3 1112.81,52.87 1115.02,52.57 1117.4,52.46 1119.35,52.56 1121.45,52.81 1123.66,53.15 1125.94,53.55 1128.23,53.96 1130.5,54.35 1132.71,54.66 1134.8,54.86 1137.07,54.95 1139.26,54.96 1141.4,54.9 1143.5,54.81 1145.58,54.69 1147.68,54.59 1149.8,54.51 1152.01,54.47 1154.3,54.43 1156.62,54.4 1158.9,54.37 1161.06,54.32 1163.05,54.24 1164.8,54.13 1167.67,53.6 1169.71,52.95 1172.3,52.72 1174.07,52.88 1176.01,53.22 1178.09,53.65 1180.27,54.12 1182.52,54.58 1184.8,54.97 1186.8,55.27 1188.88,55.6 1191.01,55.93 1193.18,56.23 1195.37,56.47 1197.55,56.62 1199.7,56.65 1201.84,56.52 1203.98,56.26 1206.12,55.9 1208.27,55.5 1210.41,55.08 1212.56,54.7 1214.7,54.39 1216.82,54.13 1218.91,53.88 1221,53.63 1223.1,53.42 1225.23,53.25 1227.43,53.13 1229.7,53.08 1231.77,53.11 1233.9,53.23 1236.08,53.41 1238.3,53.61 1240.53,53.82 1242.77,54 1245,54.13 1247.2,54.19 1249.4,54.15 1251.61,54.02 1253.84,53.83 1256.06,53.63 1258.26,53.43 1260.42,53.29 1262.54,53.23 1264.6,53.28 1266.87,53.56 1269.06,54.03 1271.2,54.61 1273.3,55.2 1275.38,55.73 1277.48,56.08 1279.6,56.19 1281.74,55.97 1283.89,55.48 1286.03,54.83 1288.17,54.11 1290.31,53.42 1292.46,52.85 1294.6,52.5 1296.74,52.38 1298.89,52.4 1301.03,52.52 1303.17,52.71 1305.31,52.94 1307.46,53.18 1309.6,53.39 1311.77,53.6 1313.96,53.86 1316.17,54.14 1318.35,54.42 1320.5,54.7 1322.59,54.94 1324.6,55.14 1326.96,55.32 1329.39,55.45 1331.74,55.56 1333.88,55.63 1335.68,55.7 1337,55.75" fill="none" stroke="#c2b82b" stroke-width="3" stroke-linejoin="round" stroke-linecap="round"/>
<polyline points="796.3,72.8 798.14,71.72 800.7,70.9 802.48,71.34 804.41,72.23 806.4,73 808.36,73.31 810.39,73.5 812.7,74 814.69,74.78 816.86,75.79 819.15,76.85 821.5,77.8 823.48,78.47 825.57,79.14 827.68,79.74 829.72,80.25 831.6,80.6 834.41,80.84 836.95,80.76 839.2,80.4 841.46,79.21 844.2,77.8 846.05,77.4 848.24,77.08 850.65,76.76 853.14,76.38 855.6,75.9 857.66,75.4 859.8,74.83 861.98,74.21 864.14,73.56 866.23,72.88 868.2,72.2 870.34,71.33 872.3,70.39 874.2,69.44 876.16,68.52 878.3,67.7 880.3,67.1 882.44,66.55 884.66,66.04 886.87,65.56 888.97,65.08 890.9,64.6 893.46,63.85 895.76,63.1 897.91,62.4 900,61.8 902.51,61.2 904.85,60.75 907.6,60.3 909.62,59.99 911.85,59.67 914.2,59.35 916.57,59.06 918.9,58.8 921.11,58.61 923.28,58.46 925.47,58.34 927.78,58.19 930.3,58 932.26,57.82 934.34,57.6 936.51,57.36 938.73,57.12 940.97,56.89 943.21,56.68 945.4,56.5 947.61,56.37 949.88,56.27 952.16,56.2 954.42,56.13 956.6,56.06 958.68,55.95 960.6,55.8 962.97,55.47 965.06,55.03 967,54.58 968.93,54.2 971,54 973.2,54.02 975.43,54.21 977.71,54.48 980.03,54.73 982.4,54.9 984.46,54.96 986.61,55 988.79,55.01 990.95,55 993.04,54.96 995,54.9 996.93,54.75 998.47,54.51 1000.04,54.26 1002.08,54.07 1005,54 1006.6,54.02 1008.44,54.08 1010.49,54.17 1012.69,54.27 1014.99,54.39 1017.34,54.51 1019.71,54.64 1022.04,54.76 1024.28,54.86 1026.38,54.95 1028.31,55.01 1030,55.05 1032.81,55.03 1035.09,54.94 1037.03,54.81 1038.8,54.65 1040.56,54.47 1042.5,54.31 1044.58,54.17 1046.67,54.02 1048.76,53.86 1050.84,53.68 1052.92,53.49 1055,53.26 1057.07,52.97 1059.13,52.6 1061.19,52.2 1063.26,51.84 1065.32,51.56 1067.4,51.42 1069.46,51.43 1071.5,51.54 1073.54,51.74 1075.61,51.99 1077.76,52.28 1080,52.58 1082.06,52.88 1084.26,53.28 1086.52,53.72 1088.8,54.15 1091.01,54.52 1093.1,54.8 1095,54.93 1097.28,54.82 1099.24,54.45 1101.07,53.97 1102.93,53.5 1105,53.19 1106.87,53.07 1108.77,53 1110.74,52.98 1112.81,52.99 1115.02,53.03 1117.4,53.1 1119.35,53.18 1121.45,53.29 1123.66,53.43 1125.94,53.58 1128.23,53.74 1130.5,53.87 1132.71,53.98 1134.8,54.06 1137.07,54.09 1139.26,54.08 1141.4,54.04 1143.5,53.99 1145.58,53.93 1147.68,53.88 1149.8,53.85 1152.01,53.85 1154.3,53.88 1156.62,53.91 1158.9,53.94 1161.06,53.94 1163.05,53.91 1164.8,53.83 1167.67,53.28 1169.71,52.56 1172.3,52.29 1174.07,52.49 1176.01,52.89 1178.09,53.39 1180.27,53.92 1182.52,54.41 1184.8,54.77 1186.8,54.98 1188.88,55.17 1191.01,55.32 1193.18,55.43 1195.37,55.5 1197.55,55.52 1199.7,55.49 1201.84,55.39 1203.98,55.22 1206.12,55 1208.27,54.74 1210.41,54.47 1212.56,54.19 1214.7,53.94 1216.82,53.66 1218.91,53.33 1221,52.99 1223.1,52.66 1225.23,52.39 1227.43,52.21 1229.7,52.16 1231.77,52.26 1233.9,52.49 1236.08,52.81 1238.3,53.17 1240.53,53.55 1242.77,53.89 1245,54.16 1247.2,54.33 1249.4,54.36 1251.61,54.29 1253.84,54.16 1256.06,54 1258.26,53.83 1260.42,53.71 1262.54,53.65 1264.6,53.69 1266.87,53.92 1269.06,54.32 1271.2,54.81 1273.3,55.31 1275.38,55.73 1277.48,56 1279.6,56.03 1281.74,55.75 1283.89,55.22 1286.03,54.53 1288.17,53.78 1290.31,53.06 1292.46,52.46 1294.6,52.1 1296.74,51.96 1298.89,51.99 1301.03,52.12 1303.17,52.33 1305.31,52.56 1307.46,52.77 1309.6,52.92 1311.77,53.02 1313.96,53.1 1316.17,53.18 1318.35,53.26 1320.5,53.35 1322.59,53.46 1324.6,53.61 1326.96,53.84 1329.39,54.14 1331.74,54.46 1333.88,54.77 1335.68,55.04 1337,55.23" fill="none" stroke="#fcc83a" stroke-width="3" stroke-linejoin="round" stroke-linecap="round"/>
<rect x="1106.4" y="82.7" width="180" height="225.1" fill="#fff" stroke="#555" stroke-width="1.4"/>
<line x1="1113.6" y1="99.5" x2="1170.5" y2="99.5" stroke="#3b24a3" stroke-width="3"/>
<text x="1177.6" y="106.2" font-size="22.5">0 - 2 ns</text>
<line x1="1113.6" y1="126.8" x2="1170.5" y2="126.8" stroke="#4046ea" stroke-width="3"/>
<text x="1177.6" y="132.3" font-size="22.5">3 - 5 ns</text>
<line x1="1113.6" y1="153.8" x2="1170.5" y2="153.8" stroke="#3a7ef8" stroke-width="3"/>
<text x="1178.4" y="159.7" font-size="22.5">6 - 8 ns</text>
<line x1="1113.6" y1="181.3" x2="1170.5" y2="181.3" stroke="#1fa0e0" stroke-width="3"/>
<text x="1175.6" y="187.6" font-size="22.5">15 - 20 ns</text>
<line x1="1113.6" y1="208.7" x2="1170.5" y2="208.7" stroke="#18b9c0" stroke-width="3"/>
<text x="1178.9" y="215.7" font-size="22.5">30 - 50 ns</text>
<line x1="1113.6" y1="236.2" x2="1170.5" y2="236.2" stroke="#57c877" stroke-width="3"/>
<text x="1179.6" y="242.4" font-size="22.5">0.8 - 1 µs</text>
<line x1="1113.6" y1="263.4" x2="1170.5" y2="263.4" stroke="#c2b82b" stroke-width="3"/>
<text x="1179.5" y="269.6" font-size="22.5">8 - 10 µs</text>
<line x1="1113.6" y1="290.9" x2="1170.5" y2="290.9" stroke="#fcc83a" stroke-width="3"/>
<text x="1180.6" y="294.3" font-size="22.5">30 - 50 µs</text>
<line x1="1487.8" y1="303.6" x2="1498.5" y2="303.6" stroke="#000" stroke-width="1.8"/>
<line x1="1996.6" y1="303.6" x2="1985.9" y2="303.6" stroke="#000" stroke-width="1.8"/>
<line x1="1487.8" y1="278.9" x2="1493.5" y2="278.9" stroke="#000" stroke-width="1.8"/>
<line x1="1996.6" y1="278.9" x2="1990.9" y2="278.9" stroke="#000" stroke-width="1.8"/>
<line x1="1487.8" y1="254.2" x2="1493.5" y2="254.2" stroke="#000" stroke-width="1.8"/>
<line x1="1996.6" y1="254.2" x2="1990.9" y2="254.2" stroke="#000" stroke-width="1.8"/>
<line x1="1487.8" y1="229.5" x2="1493.5" y2="229.5" stroke="#000" stroke-width="1.8"/>
<line x1="1996.6" y1="229.5" x2="1990.9" y2="229.5" stroke="#000" stroke-width="1.8"/>
<line x1="1487.8" y1="204.8" x2="1493.5" y2="204.8" stroke="#000" stroke-width="1.8"/>
<line x1="1996.6" y1="204.8" x2="1990.9" y2="204.8" stroke="#000" stroke-width="1.8"/>
<line x1="1487.8" y1="180.1" x2="1498.5" y2="180.1" stroke="#000" stroke-width="1.8"/>
<line x1="1996.6" y1="180.1" x2="1985.9" y2="180.1" stroke="#000" stroke-width="1.8"/>
<line x1="1487.8" y1="155.4" x2="1493.5" y2="155.4" stroke="#000" stroke-width="1.8"/>
<line x1="1996.6" y1="155.4" x2="1990.9" y2="155.4" stroke="#000" stroke-width="1.8"/>
<line x1="1487.8" y1="130.7" x2="1493.5" y2="130.7" stroke="#000" stroke-width="1.8"/>
<line x1="1996.6" y1="130.7" x2="1990.9" y2="130.7" stroke="#000" stroke-width="1.8"/>
<line x1="1487.8" y1="106" x2="1493.5" y2="106" stroke="#000" stroke-width="1.8"/>
<line x1="1996.6" y1="106" x2="1990.9" y2="106" stroke="#000" stroke-width="1.8"/>
<line x1="1487.8" y1="81.3" x2="1493.5" y2="81.3" stroke="#000" stroke-width="1.8"/>
<line x1="1996.6" y1="81.3" x2="1990.9" y2="81.3" stroke="#000" stroke-width="1.8"/>
<line x1="1487.8" y1="56.6" x2="1498.5" y2="56.6" stroke="#000" stroke-width="1.8"/>
<line x1="1996.6" y1="56.6" x2="1985.9" y2="56.6" stroke="#000" stroke-width="1.8"/>
<line x1="1499" y1="324.6" x2="1499" y2="315.4" stroke="#000" stroke-width="1.8"/>
<line x1="1499" y1="55.8" x2="1499" y2="65" stroke="#000" stroke-width="1.8"/>
<line x1="1509.8" y1="324.6" x2="1509.8" y2="320.1" stroke="#000" stroke-width="1.8"/>
<line x1="1509.8" y1="55.8" x2="1509.8" y2="60.3" stroke="#000" stroke-width="1.8"/>
<line x1="1520.6" y1="324.6" x2="1520.6" y2="320.1" stroke="#000" stroke-width="1.8"/>
<line x1="1520.6" y1="55.8" x2="1520.6" y2="60.3" stroke="#000" stroke-width="1.8"/>
<line x1="1531.4" y1="324.6" x2="1531.4" y2="320.1" stroke="#000" stroke-width="1.8"/>
<line x1="1531.4" y1="55.8" x2="1531.4" y2="60.3" stroke="#000" stroke-width="1.8"/>
<line x1="1542.2" y1="324.6" x2="1542.2" y2="320.1" stroke="#000" stroke-width="1.8"/>
<line x1="1542.2" y1="55.8" x2="1542.2" y2="60.3" stroke="#000" stroke-width="1.8"/>
<line x1="1553" y1="324.6" x2="1553" y2="315.4" stroke="#000" stroke-width="1.8"/>
<line x1="1553" y1="55.8" x2="1553" y2="65" stroke="#000" stroke-width="1.8"/>
<line x1="1604.23" y1="324.6" x2="1604.23" y2="320.1" stroke="#000" stroke-width="1.8"/>
<line x1="1604.23" y1="55.8" x2="1604.23" y2="60.3" stroke="#000" stroke-width="1.8"/>
<line x1="1627.52" y1="324.6" x2="1627.52" y2="320.1" stroke="#000" stroke-width="1.8"/>
<line x1="1627.52" y1="55.8" x2="1627.52" y2="60.3" stroke="#000" stroke-width="1.8"/>
<line x1="1644.05" y1="324.6" x2="1644.05" y2="320.1" stroke="#000" stroke-width="1.8"/>
<line x1="1644.05" y1="55.8" x2="1644.05" y2="60.3" stroke="#000" stroke-width="1.8"/>
<line x1="1656.87" y1="324.6" x2="1656.87" y2="320.1" stroke="#000" stroke-width="1.8"/>
<line x1="1656.87" y1="55.8" x2="1656.87" y2="60.3" stroke="#000" stroke-width="1.8"/>
<line x1="1667.35" y1="324.6" x2="1667.35" y2="320.1" stroke="#000" stroke-width="1.8"/>
<line x1="1667.35" y1="55.8" x2="1667.35" y2="60.3" stroke="#000" stroke-width="1.8"/>
<line x1="1676.21" y1="324.6" x2="1676.21" y2="320.1" stroke="#000" stroke-width="1.8"/>
<line x1="1676.21" y1="55.8" x2="1676.21" y2="60.3" stroke="#000" stroke-width="1.8"/>
<line x1="1683.88" y1="324.6" x2="1683.88" y2="320.1" stroke="#000" stroke-width="1.8"/>
<line x1="1683.88" y1="55.8" x2="1683.88" y2="60.3" stroke="#000" stroke-width="1.8"/>
<line x1="1690.65" y1="324.6" x2="1690.65" y2="320.1" stroke="#000" stroke-width="1.8"/>
<line x1="1690.65" y1="55.8" x2="1690.65" y2="60.3" stroke="#000" stroke-width="1.8"/>
<line x1="1696.7" y1="324.6" x2="1696.7" y2="315.4" stroke="#000" stroke-width="1.8"/>
<line x1="1696.7" y1="55.8" x2="1696.7" y2="65" stroke="#000" stroke-width="1.8"/>
<line x1="1736.53" y1="324.6" x2="1736.53" y2="320.1" stroke="#000" stroke-width="1.8"/>
<line x1="1736.53" y1="55.8" x2="1736.53" y2="60.3" stroke="#000" stroke-width="1.8"/>
<line x1="1759.82" y1="324.6" x2="1759.82" y2="320.1" stroke="#000" stroke-width="1.8"/>
<line x1="1759.82" y1="55.8" x2="1759.82" y2="60.3" stroke="#000" stroke-width="1.8"/>
<line x1="1776.35" y1="324.6" x2="1776.35" y2="320.1" stroke="#000" stroke-width="1.8"/>
<line x1="1776.35" y1="55.8" x2="1776.35" y2="60.3" stroke="#000" stroke-width="1.8"/>
<line x1="1789.17" y1="324.6" x2="1789.17" y2="320.1" stroke="#000" stroke-width="1.8"/>
<line x1="1789.17" y1="55.8" x2="1789.17" y2="60.3" stroke="#000" stroke-width="1.8"/>
<line x1="1799.65" y1="324.6" x2="1799.65" y2="320.1" stroke="#000" stroke-width="1.8"/>
<line x1="1799.65" y1="55.8" x2="1799.65" y2="60.3" stroke="#000" stroke-width="1.8"/>
<line x1="1808.51" y1="324.6" x2="1808.51" y2="320.1" stroke="#000" stroke-width="1.8"/>
<line x1="1808.51" y1="55.8" x2="1808.51" y2="60.3" stroke="#000" stroke-width="1.8"/>
<line x1="1816.18" y1="324.6" x2="1816.18" y2="320.1" stroke="#000" stroke-width="1.8"/>
<line x1="1816.18" y1="55.8" x2="1816.18" y2="60.3" stroke="#000" stroke-width="1.8"/>
<line x1="1822.95" y1="324.6" x2="1822.95" y2="320.1" stroke="#000" stroke-width="1.8"/>
<line x1="1822.95" y1="55.8" x2="1822.95" y2="60.3" stroke="#000" stroke-width="1.8"/>
<line x1="1829" y1="324.6" x2="1829" y2="315.4" stroke="#000" stroke-width="1.8"/>
<line x1="1829" y1="55.8" x2="1829" y2="65" stroke="#000" stroke-width="1.8"/>
<line x1="1868.83" y1="324.6" x2="1868.83" y2="320.1" stroke="#000" stroke-width="1.8"/>
<line x1="1868.83" y1="55.8" x2="1868.83" y2="60.3" stroke="#000" stroke-width="1.8"/>
<line x1="1892.12" y1="324.6" x2="1892.12" y2="320.1" stroke="#000" stroke-width="1.8"/>
<line x1="1892.12" y1="55.8" x2="1892.12" y2="60.3" stroke="#000" stroke-width="1.8"/>
<line x1="1908.65" y1="324.6" x2="1908.65" y2="320.1" stroke="#000" stroke-width="1.8"/>
<line x1="1908.65" y1="55.8" x2="1908.65" y2="60.3" stroke="#000" stroke-width="1.8"/>
<line x1="1921.47" y1="324.6" x2="1921.47" y2="320.1" stroke="#000" stroke-width="1.8"/>
<line x1="1921.47" y1="55.8" x2="1921.47" y2="60.3" stroke="#000" stroke-width="1.8"/>
<line x1="1931.95" y1="324.6" x2="1931.95" y2="320.1" stroke="#000" stroke-width="1.8"/>
<line x1="1931.95" y1="55.8" x2="1931.95" y2="60.3" stroke="#000" stroke-width="1.8"/>
<line x1="1940.81" y1="324.6" x2="1940.81" y2="320.1" stroke="#000" stroke-width="1.8"/>
<line x1="1940.81" y1="55.8" x2="1940.81" y2="60.3" stroke="#000" stroke-width="1.8"/>
<line x1="1948.48" y1="324.6" x2="1948.48" y2="320.1" stroke="#000" stroke-width="1.8"/>
<line x1="1948.48" y1="55.8" x2="1948.48" y2="60.3" stroke="#000" stroke-width="1.8"/>
<line x1="1955.25" y1="324.6" x2="1955.25" y2="320.1" stroke="#000" stroke-width="1.8"/>
<line x1="1955.25" y1="55.8" x2="1955.25" y2="60.3" stroke="#000" stroke-width="1.8"/>
<line x1="1961.3" y1="324.6" x2="1961.3" y2="315.4" stroke="#000" stroke-width="1.8"/>
<line x1="1961.3" y1="55.8" x2="1961.3" y2="65" stroke="#000" stroke-width="1.8"/>
<line x1="1564.7" y1="55.8" x2="1564.7" y2="324.6" stroke="#000" stroke-width="2"/>
<text x="1436.1" y="64.9" font-size="27.6">1.0</text>
<text x="1436.2" y="188.9" font-size="27.6">0.5</text>
<text x="1436.1" y="313.9" font-size="27.6">0.0</text>
<text x="1485.8" y="358.7" font-size="27.6">-5</text>
<text x="1552.45" y="358.7" font-size="27.6">1</text>
<text x="1680.9" y="358.7" font-size="27.6">10</text>
<text x="1807.05" y="358.7" font-size="27.6">100</text>
<text x="1928.15" y="358.7" font-size="27.6">1000</text>
<text x="1691.7" y="395.8" font-size="27.6">Time (ps)</text>
<text x="1405.9" y="294.4" font-size="27.6" transform="rotate(-90 1405.9 294.4)">Intensity (norm.)</text>
<text x="1386.6" y="28.2" font-size="27.6">c)</text>
<text x="1425" y="28.2" font-size="27.6">Temperature-dependent TA</text>
<polyline points="1487.6,300 1498,298.7 1507.7,300.8 1521.6,303.5 1527.2,300 1531.3,309.1 1534.1,299.4 1536.9,311.9 1541,299.4 1544.5,311.9 1548,304.9 1551.4,282.7 1554.9,274.4 1557,271.6 1559.1,284.1 1563.2,281.3 1566.7,265.4 1568.8,274.4 1574.3,273 1579.9,275.8 1585.4,274.4 1591,271.6 1595.2,275.8 1597.9,257.1 1600,263.9 1603,271.54 1607.7,269.17 1611.31,265.85 1615.61,261.88 1620.05,263.09 1623.83,261.35 1628.31,257.97 1632.57,251.53 1636.31,255.98 1640.16,253.97 1644.06,249.3 1647.44,248.27 1651.65,248.28 1655.68,252.55 1659.65,237.34 1663.04,246.04 1667.08,239.12 1671.14,235.68 1675.11,235.21 1679.03,229.28 1683.02,223.36 1686.92,220.74 1690.77,218.16 1694.56,214.01 1698.33,209.72 1702.8,201.34 1706.5,203.78 1711.2,196.38 1714.8,188.51 1718.81,181.91 1723.47,182.08 1727.57,180.6 1732.28,172.45 1736.06,165.88 1740.8,159.3 1745.47,155.33 1749.06,153.33 1752.68,142.31 1757.37,146.23 1760.74,139.44 1764.8,127.09 1769.07,137.59 1773.22,125.36 1777.17,117.2 1780.89,115.98 1785.12,109.99 1789.63,104.68 1793.02,96.06 1798,92.9 1805.6,90.4 1811.9,81.5 1818.2,66.4 1823.2,81.5 1828.3,89.1 1833.3,71.4 1838.4,79 1843.4,70.2 1851,74 1854.7,68.9 1862.3,73.3 1866.1,71.4 1873.7,70.8 1878.7,70.2 1883.8,73.3 1888.8,66.4 1892.6,68.9 1897.6,62 1905.2,74.6 1909,72.7 1914,76.5 1921.6,72.1 1924.1,74 1927.9,60.1 1931.7,76.5 1935.5,74.6 1941.8,60.1 1945.5,70.2 1949.3,71.4 1954.4,79 1960.7,71.4 1967,86.6 1972,79 1977.1,85.3 1984.6,79 1989.7,94.1 1994.7,91.6 1996,100.4" fill="none" stroke="#ff0a0a" stroke-width="2.5" stroke-linejoin="miter" stroke-linecap="round" stroke-miterlimit="3"/>
<polyline points="1487.6,304.9 1499.4,309.8 1521.6,307.7 1532.7,302.8 1538.3,304.9 1543.8,307.7 1549.4,306.3 1551.4,295.2 1553.5,302.1 1555.6,282.7 1559.1,279.3 1563.2,278.6 1568.8,273 1574.3,275.8 1579.9,273 1585.4,275.8 1591,268.8 1595.2,273 1600,270.2 1603,270.8 1607.29,270.95 1611.85,267.82 1615.29,266.89 1618.85,264.67 1622.9,262.5 1626.44,261.3 1630.98,260.89 1635.16,258.93 1638.59,256.72 1643.18,255.44 1647.71,251.06 1652.1,252.98 1655.71,248.79 1660.27,244.93 1664.37,244.28 1668.26,240.79 1671.96,239.99 1675.35,237.66 1680.13,231.65 1684.43,228.43 1687.85,226.81 1692.13,223.18 1695.65,220.93 1699.69,216.88 1703.86,214.07 1707.69,209.92 1711.27,206.41 1714.85,202.19 1718.16,199.38 1722.4,194.95 1726.76,188.89 1731.45,184.61 1735.94,179.13 1740.48,173.33 1744.34,168.75 1748.93,165.31 1752.45,158.26 1757.02,152.83 1760.44,151.18 1765.19,142.17 1768.73,137.88 1772.92,132.53 1776.69,128.78 1781.06,123.82 1784.52,120.46 1788.82,114.18 1792.13,109.53 1798,105.5 1805.6,96.7 1811.9,91.6 1816.9,82.8 1823.2,79 1830.8,76.5 1839.6,68.9 1848.4,66.4 1856,65.1 1867.4,60.7 1876.2,57.6 1886.3,56.3 1891.3,58.8 1896.4,55.7 1905.2,62 1909,60.1 1914,65.1 1919.1,65.8 1924.1,63.9 1927.9,68.3 1934.2,70.2 1938,67.7 1943,72.7 1948.1,79 1954.4,72.7 1958.2,80.9 1961.9,76.5 1968.2,80.3 1975.8,86.6 1979.6,82.8 1984.6,91.6 1988.4,94.1 1992.2,101.7 1996,105.5" fill="none" stroke="#990303" stroke-width="2.5" stroke-linejoin="miter" stroke-linecap="round" stroke-miterlimit="3"/>
<polyline points="1487.6,303.5 1509.1,301.4 1521.6,305.6 1535.5,302.8 1545.2,305.6 1550,302.1 1552.1,313.2 1553.5,293.8 1557.7,288.3 1563.2,280.6 1574.3,279.3 1591,276.5 1600,272.3 1603,269.65 1607.27,269.25 1610.69,268.4 1614.33,266.12 1618.83,263.72 1622.92,261.3 1627.18,260.95 1630.64,259.57 1635.29,258.2 1638.61,255.88 1642.91,253.11 1647.46,252.36 1650.69,251.83 1654.7,248.61 1658.05,247.75 1661.43,243.38 1665.3,241.34 1669.5,238.52 1672.96,235.45 1676.43,232.69 1680.94,228.68 1685.09,226.34 1689.05,222.17 1693.42,218.31 1698.16,214.59 1701.93,209.39 1705.72,205.22 1709.1,200.99 1712.67,197.64 1717.17,194.06 1721.17,190.32 1725.06,184.67 1729.09,179.88 1732.91,176.04 1737.34,170.68 1740.83,166.24 1745.14,160.89 1748.89,155.73 1753.11,151.24 1756.65,146.36 1760.3,139.67 1764.27,137.34 1769,132.85 1772.78,129.6 1776.28,124.16 1779.49,118.54 1783.12,115.73 1786.71,110.3 1789.92,108.24 1794.7,102.25 1799.49,97.02 1803.21,93.62 1807.67,90.06 1811.24,85.42 1815.28,82.15 1818.9,80.91 1823.62,77.97 1827.28,74.69 1831.88,71.17 1835.8,76.5 1848.4,70.2 1856,62.6 1864.8,66.4 1868.6,61.3 1880,60.1 1892.6,59.5 1898.9,63.9 1905.2,57.6 1911.5,60.1 1924.1,59.5 1934.2,62.6 1945.5,60.1 1949.3,62 1958.2,61.3 1961.9,65.8 1968.2,65.1 1972,63.2 1979.6,69.5 1990.9,65.8 1996,68.3" fill="none" stroke="#0c3cff" stroke-width="2.5" stroke-linejoin="miter" stroke-linecap="round" stroke-miterlimit="3"/>
<polyline points="1487.6,302.1 1507.7,305.6 1521.6,304.9 1532.7,302.8 1538.3,306.3 1546.6,302.1 1549.4,325.7 1551.4,309.1 1553.5,289.7 1557.7,282.7 1563.2,280 1577.1,277.2 1591,274.4 1600,271.4 1603,269.39 1607.68,268.24 1611.62,265.71 1615.12,264.83 1619.14,262.49 1622.49,260.97 1626.17,260.75 1630.48,258.56 1633.75,257.9 1638,254.6 1642.18,253.07 1646.23,251.41 1649.52,249.89 1652.77,248.25 1656.71,244.48 1660.74,242.98 1664.97,239.01 1668.9,237.02 1672.54,236.02 1677.09,230.82 1681.42,227.14 1685.08,224.43 1688.4,221.12 1692.95,216.16 1696.77,213.74 1699.97,209.28 1703.51,206.36 1708.27,200.55 1712.11,197.34 1716.56,192.11 1720.19,188.08 1724.93,182.48 1729.34,177.35 1732.7,173.31 1736,169.17 1740.1,163.76 1744.01,159.47 1747.42,155.68 1751.65,150.13 1755.19,145.76 1758.82,141.93 1762.51,136.6 1767.13,131.94 1771.69,127.53 1775.92,123.47 1779.46,118.67 1783.07,113.17 1786.75,108.09 1790.07,105.33 1793.65,101.35 1797.82,96.5 1802.55,92.75 1806.52,87.85 1810.02,85.32 1813.46,83.9 1817.06,80.14 1820.57,78.23 1824.08,74.68 1828.8,72.82 1832.68,69.07 1836.04,68.7 1839.62,65.86 1843.95,63.42 1848.11,62.53 1851.77,60.44 1855.08,60.17 1858.65,58.36 1862.83,58.96 1866.48,59.75 1869.71,59.51 1873.34,59.93 1876.82,60.57 1880.61,60.44 1884.39,60.05 1889.02,60.22 1893.32,59.54 1897.46,60.06 1900.69,60.36 1905.34,60.34 1908.58,59.83 1912.79,60.58 1916.5,61.62 1921.3,62.29 1925.68,62.51 1930.32,62.98 1934.79,63.26 1939.46,64.76 1944.1,67.14 1948.69,67.3 1953.27,70.68 1957.39,72.15 1961.52,73.26 1965.7,74.07 1970.48,75.88 1975.09,79.84 1979.47,82.37 1983.6,83.88 1986.93,86.8 1991.33,90.07 1995.3,92.51" fill="none" stroke="#3cbcfc" stroke-width="2.5" stroke-linejoin="miter" stroke-linecap="round" stroke-miterlimit="3"/>
<rect x="1487.8" y="55.8" width="508.8" height="268.8" fill="none" stroke="#000" stroke-width="2.4"/>
<text x="1636.4" y="145.8" font-size="26.5">295K</text>
<text x="1759.9" y="216" font-size="26.5">30K</text>
<line x1="1763.5" y1="193.6" x2="1722.82" y2="164.96" stroke="#000" stroke-width="2.8"/>
<polygon points="1708.1,154.6 1727.79,161.37 1721.12,170.86" fill="#000"/>
<line x1="91.6" y1="712.8" x2="102.6" y2="712.8" stroke="#000" stroke-width="1.8"/>
<line x1="652.8" y1="712.8" x2="641.8" y2="712.8" stroke="#000" stroke-width="1.8"/>
<line x1="91.6" y1="572.7" x2="102.6" y2="572.7" stroke="#000" stroke-width="1.8"/>
<line x1="652.8" y1="572.7" x2="641.8" y2="572.7" stroke="#000" stroke-width="1.8"/>
<line x1="91.6" y1="432.6" x2="102.6" y2="432.6" stroke="#000" stroke-width="1.8"/>
<line x1="652.8" y1="432.6" x2="641.8" y2="432.6" stroke="#000" stroke-width="1.8"/>
<line x1="97.1" y1="713.5" x2="97.1" y2="709" stroke="#000" stroke-width="1.8"/>
<line x1="108.7" y1="713.5" x2="108.7" y2="704.3" stroke="#000" stroke-width="1.8"/>
<line x1="120.3" y1="713.5" x2="120.3" y2="709" stroke="#000" stroke-width="1.8"/>
<line x1="131.9" y1="713.5" x2="131.9" y2="709" stroke="#000" stroke-width="1.8"/>
<line x1="143.5" y1="713.5" x2="143.5" y2="709" stroke="#000" stroke-width="1.8"/>
<line x1="155.1" y1="713.5" x2="155.1" y2="709" stroke="#000" stroke-width="1.8"/>
<line x1="166.7" y1="713.5" x2="166.7" y2="704.3" stroke="#000" stroke-width="1.8"/>
<line x1="223.01" y1="713.5" x2="223.01" y2="709" stroke="#000" stroke-width="1.8"/>
<line x1="223.01" y1="432.6" x2="223.01" y2="437.1" stroke="#000" stroke-width="1.8"/>
<line x1="248.58" y1="713.5" x2="248.58" y2="709" stroke="#000" stroke-width="1.8"/>
<line x1="248.58" y1="432.6" x2="248.58" y2="437.1" stroke="#000" stroke-width="1.8"/>
<line x1="266.72" y1="713.5" x2="266.72" y2="709" stroke="#000" stroke-width="1.8"/>
<line x1="266.72" y1="432.6" x2="266.72" y2="437.1" stroke="#000" stroke-width="1.8"/>
<line x1="280.79" y1="713.5" x2="280.79" y2="709" stroke="#000" stroke-width="1.8"/>
<line x1="280.79" y1="432.6" x2="280.79" y2="437.1" stroke="#000" stroke-width="1.8"/>
<line x1="292.29" y1="713.5" x2="292.29" y2="709" stroke="#000" stroke-width="1.8"/>
<line x1="292.29" y1="432.6" x2="292.29" y2="437.1" stroke="#000" stroke-width="1.8"/>
<line x1="302.01" y1="713.5" x2="302.01" y2="709" stroke="#000" stroke-width="1.8"/>
<line x1="302.01" y1="432.6" x2="302.01" y2="437.1" stroke="#000" stroke-width="1.8"/>
<line x1="310.43" y1="713.5" x2="310.43" y2="709" stroke="#000" stroke-width="1.8"/>
<line x1="310.43" y1="432.6" x2="310.43" y2="437.1" stroke="#000" stroke-width="1.8"/>
<line x1="317.86" y1="713.5" x2="317.86" y2="709" stroke="#000" stroke-width="1.8"/>
<line x1="317.86" y1="432.6" x2="317.86" y2="437.1" stroke="#000" stroke-width="1.8"/>
<line x1="324.5" y1="713.5" x2="324.5" y2="704.3" stroke="#000" stroke-width="1.8"/>
<line x1="324.5" y1="432.6" x2="324.5" y2="441.8" stroke="#000" stroke-width="1.8"/>
<line x1="368.21" y1="713.5" x2="368.21" y2="709" stroke="#000" stroke-width="1.8"/>
<line x1="368.21" y1="432.6" x2="368.21" y2="437.1" stroke="#000" stroke-width="1.8"/>
<line x1="393.78" y1="713.5" x2="393.78" y2="709" stroke="#000" stroke-width="1.8"/>
<line x1="393.78" y1="432.6" x2="393.78" y2="437.1" stroke="#000" stroke-width="1.8"/>
<line x1="411.92" y1="713.5" x2="411.92" y2="709" stroke="#000" stroke-width="1.8"/>
<line x1="411.92" y1="432.6" x2="411.92" y2="437.1" stroke="#000" stroke-width="1.8"/>
<line x1="425.99" y1="713.5" x2="425.99" y2="709" stroke="#000" stroke-width="1.8"/>
<line x1="425.99" y1="432.6" x2="425.99" y2="437.1" stroke="#000" stroke-width="1.8"/>
<line x1="437.49" y1="713.5" x2="437.49" y2="709" stroke="#000" stroke-width="1.8"/>
<line x1="437.49" y1="432.6" x2="437.49" y2="437.1" stroke="#000" stroke-width="1.8"/>
<line x1="447.21" y1="713.5" x2="447.21" y2="709" stroke="#000" stroke-width="1.8"/>
<line x1="447.21" y1="432.6" x2="447.21" y2="437.1" stroke="#000" stroke-width="1.8"/>
<line x1="455.63" y1="713.5" x2="455.63" y2="709" stroke="#000" stroke-width="1.8"/>
<line x1="455.63" y1="432.6" x2="455.63" y2="437.1" stroke="#000" stroke-width="1.8"/>
<line x1="463.06" y1="713.5" x2="463.06" y2="709" stroke="#000" stroke-width="1.8"/>
<line x1="463.06" y1="432.6" x2="463.06" y2="437.1" stroke="#000" stroke-width="1.8"/>
<line x1="469.7" y1="713.5" x2="469.7" y2="704.3" stroke="#000" stroke-width="1.8"/>
<line x1="469.7" y1="432.6" x2="469.7" y2="441.8" stroke="#000" stroke-width="1.8"/>
<line x1="513.41" y1="713.5" x2="513.41" y2="709" stroke="#000" stroke-width="1.8"/>
<line x1="513.41" y1="432.6" x2="513.41" y2="437.1" stroke="#000" stroke-width="1.8"/>
<line x1="538.98" y1="713.5" x2="538.98" y2="709" stroke="#000" stroke-width="1.8"/>
<line x1="538.98" y1="432.6" x2="538.98" y2="437.1" stroke="#000" stroke-width="1.8"/>
<line x1="557.12" y1="713.5" x2="557.12" y2="709" stroke="#000" stroke-width="1.8"/>
<line x1="557.12" y1="432.6" x2="557.12" y2="437.1" stroke="#000" stroke-width="1.8"/>
<line x1="571.19" y1="713.5" x2="571.19" y2="709" stroke="#000" stroke-width="1.8"/>
<line x1="571.19" y1="432.6" x2="571.19" y2="437.1" stroke="#000" stroke-width="1.8"/>
<line x1="582.69" y1="713.5" x2="582.69" y2="709" stroke="#000" stroke-width="1.8"/>
<line x1="582.69" y1="432.6" x2="582.69" y2="437.1" stroke="#000" stroke-width="1.8"/>
<line x1="592.41" y1="713.5" x2="592.41" y2="709" stroke="#000" stroke-width="1.8"/>
<line x1="592.41" y1="432.6" x2="592.41" y2="437.1" stroke="#000" stroke-width="1.8"/>
<line x1="600.83" y1="713.5" x2="600.83" y2="709" stroke="#000" stroke-width="1.8"/>
<line x1="600.83" y1="432.6" x2="600.83" y2="437.1" stroke="#000" stroke-width="1.8"/>
<line x1="608.26" y1="713.5" x2="608.26" y2="709" stroke="#000" stroke-width="1.8"/>
<line x1="608.26" y1="432.6" x2="608.26" y2="437.1" stroke="#000" stroke-width="1.8"/>
<line x1="614.9" y1="713.5" x2="614.9" y2="704.3" stroke="#000" stroke-width="1.8"/>
<line x1="614.9" y1="432.6" x2="614.9" y2="441.8" stroke="#000" stroke-width="1.8"/>
<line x1="179.3" y1="432.6" x2="179.3" y2="713.5" stroke="#000" stroke-width="2"/>
<text x="41.2" y="441" font-size="27.6">1.0</text>
<text x="41.3" y="587.8" font-size="27.6">0.5</text>
<text x="41.2" y="724" font-size="27.6">0.0</text>
<text x="90.9" y="749.3" font-size="27.6">-5</text>
<text x="174.3" y="749.6" font-size="27.6">1</text>
<text x="308.6" y="750.2" font-size="27.6">10</text>
<text x="444.1" y="750.2" font-size="27.6">100</text>
<text x="619.2" y="750.2" font-size="27.6">1000</text>
<text x="313.8" y="784.8" font-size="27.6">Time (ps)</text>
<text x="21.7" y="649.9" font-size="27.6" transform="rotate(-90 21.7 649.9)">Δ<tspan dx="3.5">T/T (norm.)</tspan></text>
<text x="197.7" y="476.8" font-size="24.7" font-weight="bold">Me-(DPH)<tspan font-size="17.5" dx="0.8" dy="5.3">3</tspan></text>
<polyline points="96.11,711.87 99.85,711.79 104.84,711.75 108.08,712 111.45,712.2 114.83,712.36 118.16,711.82 121.48,711.49 124.81,711.48 128.14,711.57 131.47,711.9 134.8,711.78 138.13,711.75 141.45,711.53 144.78,711.53 148.16,711.64 151.53,711.55 154.77,711.62 159.6,711.59 163.5,711.9 166,712.96" fill="none" stroke="#1a86cc" stroke-width="3.2" stroke-linejoin="round" stroke-linecap="round"/>
<polyline points="166,712.82 166.75,709.83 166.94,708.36 167.15,706.57 167.39,704.51 167.64,702.25 167.91,699.84 168.2,697.36 168.5,694.85 168.71,692.99 168.93,690.96 169.15,688.79 169.38,686.56 169.62,684.32 169.87,682.12 170.13,680.02 170.4,678.08 170.69,676.34 170.99,674.88 172.12,671.69 173.39,670.03 174.74,668.64 177.22,666.38 179.23,664.9" fill="none" stroke="#1a86cc" stroke-width="3.2" stroke-linejoin="round" stroke-linecap="round"/>
<polyline points="179.23,664.9 180.38,664.68 181.84,664.4 183.57,664.08 185.54,663.72 187.7,663.3 190.01,662.85 192.45,662.35 194.96,661.82 196.72,661.44 198.59,661.03 200.55,660.6 202.6,660.15 204.71,659.68 206.87,659.19 209.06,658.69 211.26,658.18 213.47,657.66 215.66,657.14 217.82,656.61 219.93,656.08 222.01,655.55 224.09,655.02 226.17,654.5 228.25,653.97 230.33,653.43 232.41,652.88 234.49,652.31 236.57,651.72 238.65,651.11 240.73,650.47 242.81,649.8 244.89,649.09 246.82,648.39 248.78,647.66 250.75,646.9 252.73,646.1 254.72,645.29 256.7,644.45 258.66,643.61 260.61,642.76 262.54,641.91 264.43,641.06 266.28,640.22 268.09,639.4 269.85,638.6 271.88,637.66 273.89,636.71 275.86,635.74 277.79,634.78 279.69,633.82 281.53,632.87 283.32,631.95 285.05,631.06 286.71,630.2 288.3,629.38 289.82,628.62 292.28,627.43 294.35,626.49 296.22,625.65 298.05,624.78 300.02,623.73 302.3,622.38 303.87,621.38 305.56,620.26 307.33,619.05 309.17,617.77 311.04,616.45 312.91,615.1 314.74,613.74 316.52,612.41 318.21,611.12 319.78,609.9 321.57,608.42 323.25,606.97 324.82,605.54 326.33,604.12 327.8,602.73 329.25,601.35 330.73,600 332.26,598.66 334.02,597.2 335.75,595.83 337.47,594.49 339.21,593.15 340.99,591.77 342.82,590.29 344.74,588.68 346.13,587.47 347.57,586.23 349.05,584.95 350.55,583.63 352.07,582.28 353.6,580.89 355.14,579.46 356.68,577.99 358.21,576.49 359.72,574.95 361.09,573.5 362.47,571.98 363.87,570.42 365.27,568.82 366.66,567.19 368.05,565.54 369.43,563.89 370.79,562.25 372.12,560.63 373.43,559.03 374.69,557.47 376.09,555.74 377.52,553.94 378.96,552.11 380.38,550.27 381.76,548.47 383.07,546.74 384.3,545.12 385.41,543.64 386.37,542.34 387.17,541.25 388.92,538 389.71,536.97 390.67,535.73 391.77,534.3 393,532.73 394.33,531.04 395.73,529.26 397.17,527.42 398.65,525.57 400.13,523.72 401.58,521.92 402.99,520.19 404.33,518.57 405.57,517.08 406.7,515.77 408.44,513.83 410.01,512.22 411.45,510.83 412.81,509.57 414.15,508.34 415.52,507.05 416.97,505.61 418.55,503.92 419.8,502.49 421.11,500.94 422.46,499.29 423.85,497.57 425.26,495.82 426.67,494.05 428.08,492.3 429.46,490.61 430.82,488.99 432.13,487.49 433.37,486.13 435.2,484.27 436.89,482.67 438.51,481.25 440.1,479.92 441.71,478.61 443.4,477.25 445.23,475.76 446.73,474.5 448.27,473.21 449.84,471.88 451.45,470.54 453.1,469.19 454.78,467.84 456.5,466.51 458.25,465.19 460.05,463.9 461.71,462.76 463.41,461.61 465.16,460.46 466.95,459.32 468.75,458.2 470.57,457.09 472.4,456 474.23,454.95 476.04,453.92 477.83,452.94 479.84,451.87 481.9,450.82 483.98,449.8 486.06,448.81 488.12,447.86 490.12,446.95 492.06,446.11 493.9,445.34 495.61,444.64 497.86,443.76 499.78,443.08 501.54,442.53 503.3,442.05 505.22,441.59 507.47,441.08 509.22,440.72 511.14,440.36 513.18,440.01 515.29,439.66 517.43,439.32 519.54,439 521.58,438.69 523.5,438.39 525.25,438.12 527.91,437.69 530.14,437.32 532.22,436.99 534.45,436.68 537.11,436.34 539.09,436.11 541.28,435.88 543.6,435.65 546,435.41 548.4,435.18 550.72,434.96 552.91,434.76 554.89,434.56 557.55,434.28 559.77,434.02 561.86,433.78 564.09,433.57 566.75,433.38 568.73,433.27 570.91,433.17 573.24,433.08 575.64,433.01 578.03,432.94 580.36,432.88 582.55,432.82 584.53,432.78 587.28,432.75 589.7,432.77 591.93,432.8 594.11,432.81 596.38,432.78 598.85,432.67 601.41,432.49 603.92,432.31 606.25,432.19 608.24,432.19 610.54,432.51 612.19,433.06 614.17,433.67 616.11,434.18 618.24,434.75 620.56,435.3 623.06,435.75 625.24,435.97 627.59,436.09 630.03,436.19 632.5,436.34 634.91,436.64 637.03,437.04 639.3,437.58 641.58,438.17 643.7,438.75 645.48,439.25 646.77,439.6" fill="none" stroke="#0c659f" stroke-width="3.3" stroke-linejoin="round" stroke-linecap="round"/>
<rect x="91.6" y="432.6" width="561.2" height="280.9" fill="none" stroke="#000" stroke-width="2.4"/>
<line x1="794.8" y1="709.5" x2="804.8" y2="709.5" stroke="#000" stroke-width="1.8"/>
<line x1="1345.8" y1="709.5" x2="1335.8" y2="709.5" stroke="#000" stroke-width="1.8"/>
<line x1="794.8" y1="570.6" x2="804.8" y2="570.6" stroke="#000" stroke-width="1.8"/>
<line x1="1345.8" y1="570.6" x2="1335.8" y2="570.6" stroke="#000" stroke-width="1.8"/>
<line x1="794.8" y1="431.7" x2="804.8" y2="431.7" stroke="#000" stroke-width="1.8"/>
<line x1="1345.8" y1="431.7" x2="1335.8" y2="431.7" stroke="#000" stroke-width="1.8"/>
<line x1="799.5" y1="712.4" x2="799.5" y2="707.9" stroke="#000" stroke-width="1.8"/>
<line x1="799.5" y1="431.5" x2="799.5" y2="436" stroke="#000" stroke-width="1.8"/>
<line x1="811.3" y1="712.4" x2="811.3" y2="703.4" stroke="#000" stroke-width="1.8"/>
<line x1="811.3" y1="431.5" x2="811.3" y2="440.5" stroke="#000" stroke-width="1.8"/>
<line x1="823.1" y1="712.4" x2="823.1" y2="707.9" stroke="#000" stroke-width="1.8"/>
<line x1="823.1" y1="431.5" x2="823.1" y2="436" stroke="#000" stroke-width="1.8"/>
<line x1="834.9" y1="712.4" x2="834.9" y2="707.9" stroke="#000" stroke-width="1.8"/>
<line x1="834.9" y1="431.5" x2="834.9" y2="436" stroke="#000" stroke-width="1.8"/>
<line x1="846.7" y1="712.4" x2="846.7" y2="707.9" stroke="#000" stroke-width="1.8"/>
<line x1="846.7" y1="431.5" x2="846.7" y2="436" stroke="#000" stroke-width="1.8"/>
<line x1="858.5" y1="712.4" x2="858.5" y2="707.9" stroke="#000" stroke-width="1.8"/>
<line x1="858.5" y1="431.5" x2="858.5" y2="436" stroke="#000" stroke-width="1.8"/>
<line x1="870.3" y1="712.4" x2="870.3" y2="703.4" stroke="#000" stroke-width="1.8"/>
<line x1="870.3" y1="431.5" x2="870.3" y2="440.5" stroke="#000" stroke-width="1.8"/>
<line x1="905.7" y1="712.4" x2="905.7" y2="707.9" stroke="#000" stroke-width="1.8"/>
<line x1="905.7" y1="431.5" x2="905.7" y2="436" stroke="#000" stroke-width="1.8"/>
<line x1="920.15" y1="712.4" x2="920.15" y2="707.9" stroke="#000" stroke-width="1.8"/>
<line x1="920.15" y1="431.5" x2="920.15" y2="436" stroke="#000" stroke-width="1.8"/>
<line x1="930.4" y1="712.4" x2="930.4" y2="707.9" stroke="#000" stroke-width="1.8"/>
<line x1="930.4" y1="431.5" x2="930.4" y2="436" stroke="#000" stroke-width="1.8"/>
<line x1="938.35" y1="712.4" x2="938.35" y2="707.9" stroke="#000" stroke-width="1.8"/>
<line x1="938.35" y1="431.5" x2="938.35" y2="436" stroke="#000" stroke-width="1.8"/>
<line x1="944.85" y1="712.4" x2="944.85" y2="707.9" stroke="#000" stroke-width="1.8"/>
<line x1="944.85" y1="431.5" x2="944.85" y2="436" stroke="#000" stroke-width="1.8"/>
<line x1="950.34" y1="712.4" x2="950.34" y2="707.9" stroke="#000" stroke-width="1.8"/>
<line x1="950.34" y1="431.5" x2="950.34" y2="436" stroke="#000" stroke-width="1.8"/>
<line x1="955.1" y1="712.4" x2="955.1" y2="707.9" stroke="#000" stroke-width="1.8"/>
<line x1="955.1" y1="431.5" x2="955.1" y2="436" stroke="#000" stroke-width="1.8"/>
<line x1="959.3" y1="712.4" x2="959.3" y2="707.9" stroke="#000" stroke-width="1.8"/>
<line x1="959.3" y1="431.5" x2="959.3" y2="436" stroke="#000" stroke-width="1.8"/>
<line x1="963.05" y1="712.4" x2="963.05" y2="703.4" stroke="#000" stroke-width="1.8"/>
<line x1="963.05" y1="431.5" x2="963.05" y2="440.5" stroke="#000" stroke-width="1.8"/>
<line x1="987.75" y1="712.4" x2="987.75" y2="707.9" stroke="#000" stroke-width="1.8"/>
<line x1="987.75" y1="431.5" x2="987.75" y2="436" stroke="#000" stroke-width="1.8"/>
<line x1="1002.2" y1="712.4" x2="1002.2" y2="707.9" stroke="#000" stroke-width="1.8"/>
<line x1="1002.2" y1="431.5" x2="1002.2" y2="436" stroke="#000" stroke-width="1.8"/>
<line x1="1012.45" y1="712.4" x2="1012.45" y2="707.9" stroke="#000" stroke-width="1.8"/>
<line x1="1012.45" y1="431.5" x2="1012.45" y2="436" stroke="#000" stroke-width="1.8"/>
<line x1="1020.4" y1="712.4" x2="1020.4" y2="707.9" stroke="#000" stroke-width="1.8"/>
<line x1="1020.4" y1="431.5" x2="1020.4" y2="436" stroke="#000" stroke-width="1.8"/>
<line x1="1026.9" y1="712.4" x2="1026.9" y2="707.9" stroke="#000" stroke-width="1.8"/>
<line x1="1026.9" y1="431.5" x2="1026.9" y2="436" stroke="#000" stroke-width="1.8"/>
<line x1="1032.39" y1="712.4" x2="1032.39" y2="707.9" stroke="#000" stroke-width="1.8"/>
<line x1="1032.39" y1="431.5" x2="1032.39" y2="436" stroke="#000" stroke-width="1.8"/>
<line x1="1037.15" y1="712.4" x2="1037.15" y2="707.9" stroke="#000" stroke-width="1.8"/>
<line x1="1037.15" y1="431.5" x2="1037.15" y2="436" stroke="#000" stroke-width="1.8"/>
<line x1="1041.35" y1="712.4" x2="1041.35" y2="707.9" stroke="#000" stroke-width="1.8"/>
<line x1="1041.35" y1="431.5" x2="1041.35" y2="436" stroke="#000" stroke-width="1.8"/>
<line x1="1045.1" y1="712.4" x2="1045.1" y2="703.4" stroke="#000" stroke-width="1.8"/>
<line x1="1045.1" y1="431.5" x2="1045.1" y2="440.5" stroke="#000" stroke-width="1.8"/>
<line x1="1069.8" y1="712.4" x2="1069.8" y2="707.9" stroke="#000" stroke-width="1.8"/>
<line x1="1069.8" y1="431.5" x2="1069.8" y2="436" stroke="#000" stroke-width="1.8"/>
<line x1="1084.25" y1="712.4" x2="1084.25" y2="707.9" stroke="#000" stroke-width="1.8"/>
<line x1="1084.25" y1="431.5" x2="1084.25" y2="436" stroke="#000" stroke-width="1.8"/>
<line x1="1094.5" y1="712.4" x2="1094.5" y2="707.9" stroke="#000" stroke-width="1.8"/>
<line x1="1094.5" y1="431.5" x2="1094.5" y2="436" stroke="#000" stroke-width="1.8"/>
<line x1="1102.45" y1="712.4" x2="1102.45" y2="707.9" stroke="#000" stroke-width="1.8"/>
<line x1="1102.45" y1="431.5" x2="1102.45" y2="436" stroke="#000" stroke-width="1.8"/>
<line x1="1108.95" y1="712.4" x2="1108.95" y2="707.9" stroke="#000" stroke-width="1.8"/>
<line x1="1108.95" y1="431.5" x2="1108.95" y2="436" stroke="#000" stroke-width="1.8"/>
<line x1="1114.44" y1="712.4" x2="1114.44" y2="707.9" stroke="#000" stroke-width="1.8"/>
<line x1="1114.44" y1="431.5" x2="1114.44" y2="436" stroke="#000" stroke-width="1.8"/>
<line x1="1119.2" y1="712.4" x2="1119.2" y2="707.9" stroke="#000" stroke-width="1.8"/>
<line x1="1119.2" y1="431.5" x2="1119.2" y2="436" stroke="#000" stroke-width="1.8"/>
<line x1="1123.4" y1="712.4" x2="1123.4" y2="707.9" stroke="#000" stroke-width="1.8"/>
<line x1="1123.4" y1="431.5" x2="1123.4" y2="436" stroke="#000" stroke-width="1.8"/>
<line x1="1127.15" y1="712.4" x2="1127.15" y2="703.4" stroke="#000" stroke-width="1.8"/>
<line x1="1127.15" y1="431.5" x2="1127.15" y2="440.5" stroke="#000" stroke-width="1.8"/>
<line x1="1151.85" y1="712.4" x2="1151.85" y2="707.9" stroke="#000" stroke-width="1.8"/>
<line x1="1151.85" y1="431.5" x2="1151.85" y2="436" stroke="#000" stroke-width="1.8"/>
<line x1="1166.3" y1="712.4" x2="1166.3" y2="707.9" stroke="#000" stroke-width="1.8"/>
<line x1="1166.3" y1="431.5" x2="1166.3" y2="436" stroke="#000" stroke-width="1.8"/>
<line x1="1176.55" y1="712.4" x2="1176.55" y2="707.9" stroke="#000" stroke-width="1.8"/>
<line x1="1176.55" y1="431.5" x2="1176.55" y2="436" stroke="#000" stroke-width="1.8"/>
<line x1="1184.5" y1="712.4" x2="1184.5" y2="707.9" stroke="#000" stroke-width="1.8"/>
<line x1="1184.5" y1="431.5" x2="1184.5" y2="436" stroke="#000" stroke-width="1.8"/>
<line x1="1191" y1="712.4" x2="1191" y2="707.9" stroke="#000" stroke-width="1.8"/>
<line x1="1191" y1="431.5" x2="1191" y2="436" stroke="#000" stroke-width="1.8"/>
<line x1="1196.49" y1="712.4" x2="1196.49" y2="707.9" stroke="#000" stroke-width="1.8"/>
<line x1="1196.49" y1="431.5" x2="1196.49" y2="436" stroke="#000" stroke-width="1.8"/>
<line x1="1201.25" y1="712.4" x2="1201.25" y2="707.9" stroke="#000" stroke-width="1.8"/>
<line x1="1201.25" y1="431.5" x2="1201.25" y2="436" stroke="#000" stroke-width="1.8"/>
<line x1="1205.45" y1="712.4" x2="1205.45" y2="707.9" stroke="#000" stroke-width="1.8"/>
<line x1="1205.45" y1="431.5" x2="1205.45" y2="436" stroke="#000" stroke-width="1.8"/>
<line x1="1209.2" y1="712.4" x2="1209.2" y2="703.4" stroke="#000" stroke-width="1.8"/>
<line x1="1209.2" y1="431.5" x2="1209.2" y2="440.5" stroke="#000" stroke-width="1.8"/>
<line x1="1233.9" y1="712.4" x2="1233.9" y2="707.9" stroke="#000" stroke-width="1.8"/>
<line x1="1233.9" y1="431.5" x2="1233.9" y2="436" stroke="#000" stroke-width="1.8"/>
<line x1="1248.35" y1="712.4" x2="1248.35" y2="707.9" stroke="#000" stroke-width="1.8"/>
<line x1="1248.35" y1="431.5" x2="1248.35" y2="436" stroke="#000" stroke-width="1.8"/>
<line x1="1258.6" y1="712.4" x2="1258.6" y2="707.9" stroke="#000" stroke-width="1.8"/>
<line x1="1258.6" y1="431.5" x2="1258.6" y2="436" stroke="#000" stroke-width="1.8"/>
<line x1="1266.55" y1="712.4" x2="1266.55" y2="707.9" stroke="#000" stroke-width="1.8"/>
<line x1="1266.55" y1="431.5" x2="1266.55" y2="436" stroke="#000" stroke-width="1.8"/>
<line x1="1273.05" y1="712.4" x2="1273.05" y2="707.9" stroke="#000" stroke-width="1.8"/>
<line x1="1273.05" y1="431.5" x2="1273.05" y2="436" stroke="#000" stroke-width="1.8"/>
<line x1="1278.54" y1="712.4" x2="1278.54" y2="707.9" stroke="#000" stroke-width="1.8"/>
<line x1="1278.54" y1="431.5" x2="1278.54" y2="436" stroke="#000" stroke-width="1.8"/>
<line x1="1283.3" y1="712.4" x2="1283.3" y2="707.9" stroke="#000" stroke-width="1.8"/>
<line x1="1283.3" y1="431.5" x2="1283.3" y2="436" stroke="#000" stroke-width="1.8"/>
<line x1="1287.5" y1="712.4" x2="1287.5" y2="707.9" stroke="#000" stroke-width="1.8"/>
<line x1="1287.5" y1="431.5" x2="1287.5" y2="436" stroke="#000" stroke-width="1.8"/>
<line x1="1291.25" y1="712.4" x2="1291.25" y2="703.4" stroke="#000" stroke-width="1.8"/>
<line x1="1291.25" y1="431.5" x2="1291.25" y2="440.5" stroke="#000" stroke-width="1.8"/>
<line x1="1315.95" y1="712.4" x2="1315.95" y2="707.9" stroke="#000" stroke-width="1.8"/>
<line x1="1315.95" y1="431.5" x2="1315.95" y2="436" stroke="#000" stroke-width="1.8"/>
<line x1="1330.4" y1="712.4" x2="1330.4" y2="707.9" stroke="#000" stroke-width="1.8"/>
<line x1="1330.4" y1="431.5" x2="1330.4" y2="436" stroke="#000" stroke-width="1.8"/>
<line x1="1340.65" y1="712.4" x2="1340.65" y2="707.9" stroke="#000" stroke-width="1.8"/>
<line x1="1340.65" y1="431.5" x2="1340.65" y2="436" stroke="#000" stroke-width="1.8"/>
<line x1="881" y1="431.5" x2="881" y2="712.4" stroke="#000" stroke-width="2"/>
<text x="741.1" y="446.5" font-size="27.6">1.0</text>
<text x="743.2" y="584" font-size="27.6">0.5</text>
<text x="743.3" y="725" font-size="27.6">0.0</text>
<text x="794.1" y="749.5" font-size="27.6">-5</text>
<text x="862.1" y="750.5" font-size="27.6">10<tspan font-size="17.5" dx="-2.4" dy="-18.8">0</tspan></text>
<text x="942.8" y="750.5" font-size="27.6">10<tspan font-size="17.5" dx="-2.4" dy="-18.8">1</tspan></text>
<text x="1033.9" y="750.5" font-size="27.6">10<tspan font-size="17.5" dx="-2.4" dy="-18.8">2</tspan></text>
<text x="1105.2" y="750.5" font-size="27.6">10<tspan font-size="17.5" dx="-2.4" dy="-18.8">3</tspan></text>
<text x="1190.1" y="750.5" font-size="27.6">10<tspan font-size="17.5" dx="-2.4" dy="-18.8">4</tspan></text>
<text x="1275.6" y="750.5" font-size="27.6">10<tspan font-size="17.5" dx="-2.4" dy="-18.8">5</tspan></text>
<text x="1017.3" y="785.9" font-size="27.6">Time (ns)</text>
<text x="723" y="649.9" font-size="27.6" transform="rotate(-90 723 649.9)">Δ<tspan dx="3.5">T/T (norm.)</tspan></text>
<text x="1164.9" y="473.7" font-size="24.7" font-weight="bold">Me-(DPH)<tspan font-size="17.5" dx="0.8" dy="6">3</tspan></text>
<line x1="1167.8" y1="499.1" x2="1194.1" y2="499.1" stroke="#0c659f" stroke-width="3"/>
<line x1="1168.4" y1="528.4" x2="1194.7" y2="528.4" stroke="#a0a0a0" stroke-width="3"/>
<text x="1201.7" y="508.7" font-size="24.6">B = 0 mT</text>
<text x="1201.7" y="537.7" font-size="24.6">B = 300 mT</text>
<polyline points="799.84,709.9 802.42,710.5 806.12,710.75 809.82,710.15 812.32,709.64 814.81,709.74 817.31,709.63 819.81,709.71 822.3,709.05 824.8,709.34 827.29,710.38 829.79,710.49 833.12,710.78 836.45,710.34 839.78,709.79 843.1,709.76 846.43,710.87 849.76,709.98 853.27,709.9 856.79,709.86 859.75,710.36 864.74,710.38 866.77,708.86 868.48,704.81 868.81,703.4 869.1,701.99 869.36,700.47 869.61,698.28 869.85,695.4 870.1,693.69 870.36,689.88 870.65,686.65 870.98,681.85 871.11,680.58 871.24,678.35 871.39,676.57 871.53,675.39 871.69,671.83 871.85,669.63 872.01,666.27 872.17,663.95 872.34,661.53 872.51,658.45 872.68,655.77 872.84,652.8 873.01,649.53 873.18,647.2 873.34,643.86 873.51,641.98 873.67,638.38 873.82,636.09 873.97,633.22 874.11,631.02 874.25,628.05 874.38,626.31 874.5,623.76 874.62,622.24 874.72,620.18 874.97,615.65 875.15,611.82 875.29,609.51 875.41,607.01 875.5,605.3 875.59,602.55 875.69,600.7 875.81,598.19 875.97,595.1 876.09,592.91 876.21,590.69 876.34,588.16 876.47,585.71 876.61,583.57 876.75,581.51 876.89,579.38 877.04,576.67 877.19,574.13 877.34,571.4 877.5,568.69 877.66,565.76 877.83,563.15 878,560.62 878.13,557.55 878.26,554.95 878.39,553.29 878.52,550 878.65,547.5 878.78,544.65 878.92,541.1 879.05,539.49 879.2,536.4 879.34,533 879.49,530.41 879.65,527.46 879.82,524.46 879.99,522.19 880.18,519.95 880.37,517.93 880.58,515.68 880.8,513.52 881.33,510.32 881.91,506.73 882.53,504.98 883.19,503.16 883.88,500.86 884.6,498.43 885.34,496.53 886.1,494.18 886.63,492.14 887.21,490.21 887.81,486.91 888.43,484.75 889.07,482.4 889.71,479.48 890.34,476.05 890.96,474.51 891.55,472.4 892.11,469.37 892.63,466.19 893.1,463.96 893.6,461.3 894.04,459.15 894.43,455.51 894.79,452.37 895.12,449.99 895.43,446.64 895.73,444.71 896.04,441.42 896.36,439.36 896.7,437.95 897.74,434.21 898.77,432.13 900.2,431.11 903.53,430.21 907.3,432.15 909.67,434.04 912.04,436.54 914.4,439.61 916.2,441.4 918.01,444.07 919.77,446.11 921.4,448.08 923.29,450.9 924.99,453.48 926.7,455.6 929.29,456.05 932.1,457.82 933.17,458.99 934.31,462.01 935.49,464.23 936.7,466.12 937.91,468.54 939.1,470.77 940.28,473.76 941.46,476.38 942.64,479.75 943.83,481.79 945.02,484.15 946.2,486.24 947.38,490.26 948.57,492.53 949.75,494.6 950.93,497.9 952.12,499.89 953.3,504.22 954.48,505.82 955.67,507.97 956.86,509.99 958.04,511.58 959.22,514.62 960.4,516.56 961.57,519.88 962.74,521.58 963.9,524.73 965.06,528.19 966.23,531.01 967.4,532.59 968.6,534.93 969.83,538.19 971.06,540.54 972.26,542.21 973.42,544.6 974.5,546.86 975.76,549.51 977,552.61 978.14,556.09 979.1,558.36 979.8,560.72 979.85,562.33 980.67,564.08 981.8,566.08 983.13,569.02 984.57,571.42 986,574.07 987.34,577.58 988.56,580.34 989.74,582.62 990.93,585.29 992.15,587.41 993.44,589.57 994.83,592.35 996.12,594.33 997.5,596.21 998.93,598.14 1000.4,600.36 1001.89,603.01 1003.36,605.21 1004.81,607.13 1006.26,609.96 1007.74,611.71 1009.22,614.05 1010.69,616.45 1012.13,617.89 1013.5,619.57 1014.8,622.53 1016.46,624.81 1017.97,628.26 1019.41,630.54 1020.83,633.13 1022.29,635.02 1024.69,636.24 1027.09,638.61 1029.78,639.51 1032.15,640.24 1034.77,641.81 1037.38,644.26 1039.76,645.62 1042.44,647.6 1044.85,646.78 1047.25,649.14 1050.84,647.28 1054.74,649.63 1056.94,651.62 1059.26,652.13 1061.82,655 1064.72,656.2 1067.44,657.27 1070.47,655.34 1073.65,655.01 1076.78,654.7 1079.7,656.97 1083.05,656.19 1086.25,654.88 1089.3,655.12 1092.18,654.84 1094.79,654.6 1097.17,653.75 1099.55,653.26 1102.17,652.22 1104.46,653.03 1106.86,655.72 1109.36,655.08 1111.95,655.03 1114.65,655.01 1117.52,655.3 1120.58,655.45 1123.69,654.26 1126.75,654.94 1129.63,654.96 1132.28,654.13 1134.8,654.37 1137.23,654.48 1139.65,654.71 1142.11,656.86 1145.23,653.64 1148.35,655.63 1151.47,655.21 1154.59,655.35 1157.08,656.41 1159.58,657.92 1162.08,657.43 1164.57,657.79 1167.07,657.85 1169.57,658.84 1172.06,660.38 1174.56,659.57 1177.05,659.32 1179.55,659.7 1182.19,660.38 1184.97,660.65 1187.67,663.68 1190.1,663.42 1192.03,663.22 1195.7,665.78 1197.93,664.15 1200.71,666.14 1203.91,666.97 1207.46,665.71 1209.67,666.53 1212.06,668.15 1214.6,671.08 1217.22,672.62 1219.88,671.26 1222.52,674.64 1225.09,674.22 1227.66,675.1 1230.3,675.75 1232.95,676.75 1235.57,676.02 1238.11,677.63 1240.51,678.27 1242.72,680.97 1245.4,684.19 1247.7,686.67 1249.84,685.51 1252.03,686.64 1254.47,689.05 1256.75,689.88 1259.15,692.66 1261.64,692.76 1264.16,692.89 1266.68,694.79 1269.17,695.5 1271.65,695.18 1274.17,696.82 1276.7,697.97 1279.18,699.1 1281.58,700.15 1283.86,700.85 1286.44,702.4 1288.91,703.22 1291.26,704.29 1293.5,706.89 1295.61,707.15 1299.1,708.32 1302.25,707.84 1304.43,709.18" fill="none" stroke="#a0a0a0" stroke-width="2.8" stroke-linejoin="miter" stroke-linecap="round"/>
<polyline points="799.84,708.82 801.78,709.14 804.55,708.61 807.32,708.41 809.82,709.27 812.32,709.53 814.81,709.73 817.31,710.27 819.81,709.04 822.3,708.39 824.8,708.07 827.29,708.15 829.79,708.56 832.29,709.05 834.78,709.8 837.28,710.48 839.78,710.41 842.27,709.8 844.77,709.8 847.26,709.39 849.76,708.79 852.26,709.13 856.39,708.79 859.75,708.52 860.99,708.05 861.78,705.74 862.79,702.73 863.83,700.04 864.74,698.19 865.42,695.54 865.99,694.66 866.55,692.38 867.23,687.56 867.42,685.95 867.62,683.75 867.83,681.77 868.04,679.73 868.26,677.38 868.48,675.39 868.71,673.14 868.94,669.67 869.18,667.5 869.41,664.22 869.64,661.54 869.88,658.88 870.11,656.17 870.33,653.14 870.55,649.55 870.77,648.18 870.98,644.85 871.15,642.37 871.33,640.43 871.51,637.51 871.69,634.69 871.88,632.81 872.06,630.2 872.24,627.14 872.42,625.09 872.59,622.29 872.77,619.11 872.94,617.51 873.11,614.37 873.27,611.29 873.43,609.3 873.58,606.67 873.72,604.51 873.86,601.29 873.99,599.81 874.11,597.52 874.22,595.27 874.36,592.32 874.48,589.85 874.57,587.09 874.64,584.46 874.7,581.8 874.75,580.24 874.8,577.97 874.84,575.5 874.88,573.19 874.94,571.05 875,567.45 875.08,565.87 875.18,562.11 875.3,560.1 875.4,558.16 875.51,556.11 875.62,552.8 875.74,550.57 875.87,547.76 876,544.29 876.14,542.59 876.28,539.53 876.42,536.75 876.57,533.58 876.72,531.08 876.86,528.33 877.01,526 877.16,522.94 877.31,521.43 877.45,517.48 877.6,515.06 877.73,512.76 877.87,510.24 878,508.95 878.21,505.33 878.4,501.52 878.59,499.05 878.77,496.61 878.95,493.04 879.13,491.08 879.32,488.56 879.51,487.2 879.71,484.37 879.92,482.02 880.15,480 880.4,478.99 881.06,474.29 881.79,472.3 882.56,468.47 883.37,466.63 884.2,464.03 885.07,461.01 886,458.31 886.95,455.77 887.86,452.48 888.7,449.51 889.32,447.83 889.75,445.22 890.21,441.9 890.92,439.9 892.1,436.8 893.92,436.19 896.24,433.56 898.8,432.33 901.34,432.23 903.6,430.57 906.05,431.71 908.33,433.06 910.46,434.76 912.5,436.4 916.22,437.51 919.6,437.25 922.64,438.54 925.8,441.47 927.33,443.13 929,445.24 930.71,449.02 932.34,451.27 933.8,454.11 935.27,455.57 936.51,458.51 937.71,459.45 939.1,461.8 940.18,464.31 941.33,466.59 942.54,469.23 943.77,471.42 945,474.33 946.2,476.99 947.42,478.7 948.7,480.92 949.98,483.76 951.2,486.6 952.33,488.86 953.3,490.49 954.6,493.4 955.5,496.28 956.8,499.76 957.8,501.19 958.97,504.12 960.24,506.1 961.53,508.59 962.78,510.78 963.9,514 964.89,516.14 965.8,518.35 966.66,521.97 967.5,524.29 968.34,527.43 969.2,529.48 970.48,532.05 971.74,534.66 973.05,536.82 974.5,539.72 975.43,542.25 976.44,545.09 977.49,547.55 978.56,550.29 979.62,552.84 980.64,555.75 981.6,557.81 983.15,561.03 984.6,563.15 985.99,565.88 987.34,566.81 988.58,569.76 989.73,572.37 990.93,574.99 992.33,576.81 993.63,579.28 995.03,582.21 996.53,585.19 998.12,587.77 999.82,589.3 1001.34,591.81 1002.96,594.04 1004.66,595.46 1006.38,596.91 1008.11,598.88 1009.81,600.6 1011.47,603.59 1013.13,605.32 1014.8,607.55 1016.46,609.59 1018.13,611.84 1019.79,613.23 1022.4,615.04 1025.09,616.66 1027.63,617.56 1029.78,618.7 1032.43,619.92 1034.77,622.26 1036.89,622.93 1039.3,625.52 1042.26,627.04 1044.39,626.22 1046.77,628.06 1049.33,625.92 1052,624.55 1054.74,627.32 1057.15,626.86 1059.73,625.87 1062.38,627.72 1065,628.09 1067.48,628.18 1069.72,626.62 1072.5,628.54 1074.86,627.94 1077.15,628.91 1079.7,629.23 1082.04,628.87 1084.51,629.94 1087.07,628.27 1089.65,629.36 1092.18,628.73 1094.68,627.97 1097.17,628.89 1099.67,629.62 1102.17,630.29 1104.66,629.04 1107.78,631.12 1110.9,629.94 1114.02,630.71 1117.14,628.44 1119.64,629.36 1122.14,632.55 1124.63,632.06 1127.13,633.57 1129.63,634.76 1132.12,632.02 1134.62,633.49 1137.11,634.41 1139.61,632.77 1142.11,631.89 1144.6,632.61 1147.1,632.54 1149.6,633.93 1152.09,635.09 1154.59,634.07 1157.08,635.24 1159.58,635.26 1162.08,635.99 1164.57,636.42 1167.07,634.96 1169.57,637.86 1172.06,638.33 1174.56,637.18 1177.05,638.8 1179.55,638.32 1182.19,640.11 1184.97,641.32 1187.67,640.35 1190.1,641.18 1192.03,641.4 1195.7,641.62 1197.44,642.52 1199.54,643.58 1201.94,646.85 1204.6,647.77 1207.46,648.84 1209.72,651.81 1212.24,651.38 1214.91,654.01 1217.63,653.07 1220.31,657.02 1222.82,656.53 1225.09,657.53 1227.07,660.59 1228.87,660.72 1230.54,662.98 1232.11,666.36 1233.65,667.63 1235.21,670.41 1236.84,671.85 1239.19,674.01 1241.54,675.68 1243.89,677.92 1246.24,678.83 1248.6,681.63 1250.95,682.86 1253.3,682.92 1255.65,684.84 1258,688.59 1260.35,689.05 1262.7,691.02 1265.05,692.37 1267.4,694.07 1269.75,696.65 1272.1,696.24 1274.45,698.03 1276.81,699.3 1279.16,699.87 1281.51,701.09 1283.86,702.38 1286.83,703.31 1289.83,704.01 1292.78,703.02 1295.61,703.95 1298.29,707.08 1300.85,707.47 1303.36,709.47 1305.9,709.64 1308.5,709.75 1311.13,711.33 1313.71,708.96 1316.18,708.75 1319.23,708.89 1322.11,707.49 1325,705.96 1327.99,707.44 1330.98,708.69 1333.81,708.09 1338.04,709.24 1341.16,710.37" fill="none" stroke="#0c659f" stroke-width="2.8" stroke-linejoin="miter" stroke-linecap="round"/>
<rect x="794.8" y="431.5" width="551" height="280.9" fill="none" stroke="#000" stroke-width="2.4"/>
<line x1="1486.8" y1="703.8" x2="1497.5" y2="703.8" stroke="#000" stroke-width="1.8"/>
<line x1="1996.3" y1="703.8" x2="1985.6" y2="703.8" stroke="#000" stroke-width="1.8"/>
<line x1="1486.8" y1="676.42" x2="1492.5" y2="676.42" stroke="#000" stroke-width="1.8"/>
<line x1="1996.3" y1="676.42" x2="1990.6" y2="676.42" stroke="#000" stroke-width="1.8"/>
<line x1="1486.8" y1="649.04" x2="1492.5" y2="649.04" stroke="#000" stroke-width="1.8"/>
<line x1="1996.3" y1="649.04" x2="1990.6" y2="649.04" stroke="#000" stroke-width="1.8"/>
<line x1="1486.8" y1="621.66" x2="1492.5" y2="621.66" stroke="#000" stroke-width="1.8"/>
<line x1="1996.3" y1="621.66" x2="1990.6" y2="621.66" stroke="#000" stroke-width="1.8"/>
<line x1="1486.8" y1="594.28" x2="1492.5" y2="594.28" stroke="#000" stroke-width="1.8"/>
<line x1="1996.3" y1="594.28" x2="1990.6" y2="594.28" stroke="#000" stroke-width="1.8"/>
<line x1="1486.8" y1="566.9" x2="1497.5" y2="566.9" stroke="#000" stroke-width="1.8"/>
<line x1="1996.3" y1="566.9" x2="1985.6" y2="566.9" stroke="#000" stroke-width="1.8"/>
<line x1="1486.8" y1="539.52" x2="1492.5" y2="539.52" stroke="#000" stroke-width="1.8"/>
<line x1="1996.3" y1="539.52" x2="1990.6" y2="539.52" stroke="#000" stroke-width="1.8"/>
<line x1="1486.8" y1="512.14" x2="1492.5" y2="512.14" stroke="#000" stroke-width="1.8"/>
<line x1="1996.3" y1="512.14" x2="1990.6" y2="512.14" stroke="#000" stroke-width="1.8"/>
<line x1="1486.8" y1="484.76" x2="1492.5" y2="484.76" stroke="#000" stroke-width="1.8"/>
<line x1="1996.3" y1="484.76" x2="1990.6" y2="484.76" stroke="#000" stroke-width="1.8"/>
<line x1="1486.8" y1="457.38" x2="1492.5" y2="457.38" stroke="#000" stroke-width="1.8"/>
<line x1="1996.3" y1="457.38" x2="1990.6" y2="457.38" stroke="#000" stroke-width="1.8"/>
<line x1="1486.8" y1="430" x2="1497.5" y2="430" stroke="#000" stroke-width="1.8"/>
<line x1="1996.3" y1="430" x2="1985.6" y2="430" stroke="#000" stroke-width="1.8"/>
<line x1="1499.1" y1="707.5" x2="1499.1" y2="698.3" stroke="#000" stroke-width="1.8"/>
<line x1="1499.1" y1="430" x2="1499.1" y2="439.2" stroke="#000" stroke-width="1.8"/>
<line x1="1509.4" y1="707.5" x2="1509.4" y2="703" stroke="#000" stroke-width="1.8"/>
<line x1="1509.4" y1="430" x2="1509.4" y2="434.5" stroke="#000" stroke-width="1.8"/>
<line x1="1519.7" y1="707.5" x2="1519.7" y2="703" stroke="#000" stroke-width="1.8"/>
<line x1="1519.7" y1="430" x2="1519.7" y2="434.5" stroke="#000" stroke-width="1.8"/>
<line x1="1530" y1="707.5" x2="1530" y2="703" stroke="#000" stroke-width="1.8"/>
<line x1="1530" y1="430" x2="1530" y2="434.5" stroke="#000" stroke-width="1.8"/>
<line x1="1540.3" y1="707.5" x2="1540.3" y2="703" stroke="#000" stroke-width="1.8"/>
<line x1="1540.3" y1="430" x2="1540.3" y2="434.5" stroke="#000" stroke-width="1.8"/>
<line x1="1550.6" y1="707.5" x2="1550.6" y2="698.3" stroke="#000" stroke-width="1.8"/>
<line x1="1550.6" y1="430" x2="1550.6" y2="439.2" stroke="#000" stroke-width="1.8"/>
<line x1="1576.3" y1="707.5" x2="1576.3" y2="703" stroke="#000" stroke-width="1.8"/>
<line x1="1576.3" y1="430" x2="1576.3" y2="434.5" stroke="#000" stroke-width="1.8"/>
<line x1="1589.4" y1="707.5" x2="1589.4" y2="703" stroke="#000" stroke-width="1.8"/>
<line x1="1589.4" y1="430" x2="1589.4" y2="434.5" stroke="#000" stroke-width="1.8"/>
<line x1="1598.69" y1="707.5" x2="1598.69" y2="703" stroke="#000" stroke-width="1.8"/>
<line x1="1598.69" y1="430" x2="1598.69" y2="434.5" stroke="#000" stroke-width="1.8"/>
<line x1="1605.9" y1="707.5" x2="1605.9" y2="703" stroke="#000" stroke-width="1.8"/>
<line x1="1605.9" y1="430" x2="1605.9" y2="434.5" stroke="#000" stroke-width="1.8"/>
<line x1="1611.79" y1="707.5" x2="1611.79" y2="703" stroke="#000" stroke-width="1.8"/>
<line x1="1611.79" y1="430" x2="1611.79" y2="434.5" stroke="#000" stroke-width="1.8"/>
<line x1="1616.78" y1="707.5" x2="1616.78" y2="703" stroke="#000" stroke-width="1.8"/>
<line x1="1616.78" y1="430" x2="1616.78" y2="434.5" stroke="#000" stroke-width="1.8"/>
<line x1="1621.09" y1="707.5" x2="1621.09" y2="703" stroke="#000" stroke-width="1.8"/>
<line x1="1621.09" y1="430" x2="1621.09" y2="434.5" stroke="#000" stroke-width="1.8"/>
<line x1="1624.9" y1="707.5" x2="1624.9" y2="703" stroke="#000" stroke-width="1.8"/>
<line x1="1624.9" y1="430" x2="1624.9" y2="434.5" stroke="#000" stroke-width="1.8"/>
<line x1="1628.3" y1="707.5" x2="1628.3" y2="698.3" stroke="#000" stroke-width="1.8"/>
<line x1="1628.3" y1="430" x2="1628.3" y2="439.2" stroke="#000" stroke-width="1.8"/>
<line x1="1650.7" y1="707.5" x2="1650.7" y2="703" stroke="#000" stroke-width="1.8"/>
<line x1="1650.7" y1="430" x2="1650.7" y2="434.5" stroke="#000" stroke-width="1.8"/>
<line x1="1663.8" y1="707.5" x2="1663.8" y2="703" stroke="#000" stroke-width="1.8"/>
<line x1="1663.8" y1="430" x2="1663.8" y2="434.5" stroke="#000" stroke-width="1.8"/>
<line x1="1673.09" y1="707.5" x2="1673.09" y2="703" stroke="#000" stroke-width="1.8"/>
<line x1="1673.09" y1="430" x2="1673.09" y2="434.5" stroke="#000" stroke-width="1.8"/>
<line x1="1680.3" y1="707.5" x2="1680.3" y2="703" stroke="#000" stroke-width="1.8"/>
<line x1="1680.3" y1="430" x2="1680.3" y2="434.5" stroke="#000" stroke-width="1.8"/>
<line x1="1686.19" y1="707.5" x2="1686.19" y2="703" stroke="#000" stroke-width="1.8"/>
<line x1="1686.19" y1="430" x2="1686.19" y2="434.5" stroke="#000" stroke-width="1.8"/>
<line x1="1691.18" y1="707.5" x2="1691.18" y2="703" stroke="#000" stroke-width="1.8"/>
<line x1="1691.18" y1="430" x2="1691.18" y2="434.5" stroke="#000" stroke-width="1.8"/>
<line x1="1695.49" y1="707.5" x2="1695.49" y2="703" stroke="#000" stroke-width="1.8"/>
<line x1="1695.49" y1="430" x2="1695.49" y2="434.5" stroke="#000" stroke-width="1.8"/>
<line x1="1699.3" y1="707.5" x2="1699.3" y2="703" stroke="#000" stroke-width="1.8"/>
<line x1="1699.3" y1="430" x2="1699.3" y2="434.5" stroke="#000" stroke-width="1.8"/>
<line x1="1702.7" y1="707.5" x2="1702.7" y2="698.3" stroke="#000" stroke-width="1.8"/>
<line x1="1702.7" y1="430" x2="1702.7" y2="439.2" stroke="#000" stroke-width="1.8"/>
<line x1="1725.1" y1="707.5" x2="1725.1" y2="703" stroke="#000" stroke-width="1.8"/>
<line x1="1725.1" y1="430" x2="1725.1" y2="434.5" stroke="#000" stroke-width="1.8"/>
<line x1="1738.2" y1="707.5" x2="1738.2" y2="703" stroke="#000" stroke-width="1.8"/>
<line x1="1738.2" y1="430" x2="1738.2" y2="434.5" stroke="#000" stroke-width="1.8"/>
<line x1="1747.49" y1="707.5" x2="1747.49" y2="703" stroke="#000" stroke-width="1.8"/>
<line x1="1747.49" y1="430" x2="1747.49" y2="434.5" stroke="#000" stroke-width="1.8"/>
<line x1="1754.7" y1="707.5" x2="1754.7" y2="703" stroke="#000" stroke-width="1.8"/>
<line x1="1754.7" y1="430" x2="1754.7" y2="434.5" stroke="#000" stroke-width="1.8"/>
<line x1="1760.59" y1="707.5" x2="1760.59" y2="703" stroke="#000" stroke-width="1.8"/>
<line x1="1760.59" y1="430" x2="1760.59" y2="434.5" stroke="#000" stroke-width="1.8"/>
<line x1="1765.58" y1="707.5" x2="1765.58" y2="703" stroke="#000" stroke-width="1.8"/>
<line x1="1765.58" y1="430" x2="1765.58" y2="434.5" stroke="#000" stroke-width="1.8"/>
<line x1="1769.89" y1="707.5" x2="1769.89" y2="703" stroke="#000" stroke-width="1.8"/>
<line x1="1769.89" y1="430" x2="1769.89" y2="434.5" stroke="#000" stroke-width="1.8"/>
<line x1="1773.7" y1="707.5" x2="1773.7" y2="703" stroke="#000" stroke-width="1.8"/>
<line x1="1773.7" y1="430" x2="1773.7" y2="434.5" stroke="#000" stroke-width="1.8"/>
<line x1="1777.1" y1="707.5" x2="1777.1" y2="698.3" stroke="#000" stroke-width="1.8"/>
<line x1="1777.1" y1="430" x2="1777.1" y2="439.2" stroke="#000" stroke-width="1.8"/>
<line x1="1799.5" y1="707.5" x2="1799.5" y2="703" stroke="#000" stroke-width="1.8"/>
<line x1="1799.5" y1="430" x2="1799.5" y2="434.5" stroke="#000" stroke-width="1.8"/>
<line x1="1812.6" y1="707.5" x2="1812.6" y2="703" stroke="#000" stroke-width="1.8"/>
<line x1="1812.6" y1="430" x2="1812.6" y2="434.5" stroke="#000" stroke-width="1.8"/>
<line x1="1821.89" y1="707.5" x2="1821.89" y2="703" stroke="#000" stroke-width="1.8"/>
<line x1="1821.89" y1="430" x2="1821.89" y2="434.5" stroke="#000" stroke-width="1.8"/>
<line x1="1829.1" y1="707.5" x2="1829.1" y2="703" stroke="#000" stroke-width="1.8"/>
<line x1="1829.1" y1="430" x2="1829.1" y2="434.5" stroke="#000" stroke-width="1.8"/>
<line x1="1834.99" y1="707.5" x2="1834.99" y2="703" stroke="#000" stroke-width="1.8"/>
<line x1="1834.99" y1="430" x2="1834.99" y2="434.5" stroke="#000" stroke-width="1.8"/>
<line x1="1839.98" y1="707.5" x2="1839.98" y2="703" stroke="#000" stroke-width="1.8"/>
<line x1="1839.98" y1="430" x2="1839.98" y2="434.5" stroke="#000" stroke-width="1.8"/>
<line x1="1844.29" y1="707.5" x2="1844.29" y2="703" stroke="#000" stroke-width="1.8"/>
<line x1="1844.29" y1="430" x2="1844.29" y2="434.5" stroke="#000" stroke-width="1.8"/>
<line x1="1848.1" y1="707.5" x2="1848.1" y2="703" stroke="#000" stroke-width="1.8"/>
<line x1="1848.1" y1="430" x2="1848.1" y2="434.5" stroke="#000" stroke-width="1.8"/>
<line x1="1851.5" y1="707.5" x2="1851.5" y2="698.3" stroke="#000" stroke-width="1.8"/>
<line x1="1851.5" y1="430" x2="1851.5" y2="439.2" stroke="#000" stroke-width="1.8"/>
<line x1="1873.9" y1="707.5" x2="1873.9" y2="703" stroke="#000" stroke-width="1.8"/>
<line x1="1873.9" y1="430" x2="1873.9" y2="434.5" stroke="#000" stroke-width="1.8"/>
<line x1="1887" y1="707.5" x2="1887" y2="703" stroke="#000" stroke-width="1.8"/>
<line x1="1887" y1="430" x2="1887" y2="434.5" stroke="#000" stroke-width="1.8"/>
<line x1="1896.29" y1="707.5" x2="1896.29" y2="703" stroke="#000" stroke-width="1.8"/>
<line x1="1896.29" y1="430" x2="1896.29" y2="434.5" stroke="#000" stroke-width="1.8"/>
<line x1="1903.5" y1="707.5" x2="1903.5" y2="703" stroke="#000" stroke-width="1.8"/>
<line x1="1903.5" y1="430" x2="1903.5" y2="434.5" stroke="#000" stroke-width="1.8"/>
<line x1="1909.39" y1="707.5" x2="1909.39" y2="703" stroke="#000" stroke-width="1.8"/>
<line x1="1909.39" y1="430" x2="1909.39" y2="434.5" stroke="#000" stroke-width="1.8"/>
<line x1="1914.38" y1="707.5" x2="1914.38" y2="703" stroke="#000" stroke-width="1.8"/>
<line x1="1914.38" y1="430" x2="1914.38" y2="434.5" stroke="#000" stroke-width="1.8"/>
<line x1="1918.69" y1="707.5" x2="1918.69" y2="703" stroke="#000" stroke-width="1.8"/>
<line x1="1918.69" y1="430" x2="1918.69" y2="434.5" stroke="#000" stroke-width="1.8"/>
<line x1="1922.5" y1="707.5" x2="1922.5" y2="703" stroke="#000" stroke-width="1.8"/>
<line x1="1922.5" y1="430" x2="1922.5" y2="434.5" stroke="#000" stroke-width="1.8"/>
<line x1="1925.9" y1="707.5" x2="1925.9" y2="698.3" stroke="#000" stroke-width="1.8"/>
<line x1="1925.9" y1="430" x2="1925.9" y2="439.2" stroke="#000" stroke-width="1.8"/>
<line x1="1948.3" y1="707.5" x2="1948.3" y2="703" stroke="#000" stroke-width="1.8"/>
<line x1="1948.3" y1="430" x2="1948.3" y2="434.5" stroke="#000" stroke-width="1.8"/>
<line x1="1961.4" y1="707.5" x2="1961.4" y2="703" stroke="#000" stroke-width="1.8"/>
<line x1="1961.4" y1="430" x2="1961.4" y2="434.5" stroke="#000" stroke-width="1.8"/>
<line x1="1970.69" y1="707.5" x2="1970.69" y2="703" stroke="#000" stroke-width="1.8"/>
<line x1="1970.69" y1="430" x2="1970.69" y2="434.5" stroke="#000" stroke-width="1.8"/>
<line x1="1977.9" y1="707.5" x2="1977.9" y2="703" stroke="#000" stroke-width="1.8"/>
<line x1="1977.9" y1="430" x2="1977.9" y2="434.5" stroke="#000" stroke-width="1.8"/>
<line x1="1983.79" y1="707.5" x2="1983.79" y2="703" stroke="#000" stroke-width="1.8"/>
<line x1="1983.79" y1="430" x2="1983.79" y2="434.5" stroke="#000" stroke-width="1.8"/>
<line x1="1988.78" y1="707.5" x2="1988.78" y2="703" stroke="#000" stroke-width="1.8"/>
<line x1="1988.78" y1="430" x2="1988.78" y2="434.5" stroke="#000" stroke-width="1.8"/>
<line x1="1993.09" y1="707.5" x2="1993.09" y2="703" stroke="#000" stroke-width="1.8"/>
<line x1="1993.09" y1="430" x2="1993.09" y2="434.5" stroke="#000" stroke-width="1.8"/>
<line x1="1559.4" y1="430" x2="1559.4" y2="707.5" stroke="#000" stroke-width="2"/>
<text x="1434.9" y="443.8" font-size="27.6">1.0</text>
<text x="1435" y="577" font-size="27.6">0.5</text>
<text x="1434.9" y="701" font-size="27.6">0.0</text>
<text x="1483.3" y="748.8" font-size="27.6">-5</text>
<text x="1540.4" y="749.4" font-size="27.6">10<tspan font-size="17.5" dx="-2.4" dy="-19.5">0</tspan></text>
<text x="1606.7" y="749.4" font-size="27.6">10<tspan font-size="17.5" dx="-2.4" dy="-19.5">1</tspan></text>
<text x="1681.6" y="749.4" font-size="27.6">10<tspan font-size="17.5" dx="-2.4" dy="-19.5">2</tspan></text>
<text x="1761.5" y="749.4" font-size="27.6">10<tspan font-size="17.5" dx="-2.4" dy="-19.5">3</tspan></text>
<text x="1836.5" y="749.4" font-size="27.6">10<tspan font-size="17.5" dx="-2.4" dy="-19.5">4</tspan></text>
<text x="1910.9" y="749.4" font-size="27.6">10<tspan font-size="17.5" dx="-2.4" dy="-19.5">5</tspan></text>
<text x="1693.8" y="786.7" font-size="27.6">Time (ns)</text>
<text x="1405.9" y="696.5" font-size="27.6" transform="rotate(-90 1405.9 696.5)">Intensity (norm.)</text>
<text x="1709" y="580" font-size="26.5">30K</text>
<text x="1601.7" y="652.5" font-size="26.5">295K</text>
<line x1="1700.5" y1="588.6" x2="1659.8" y2="613.82" stroke="#000" stroke-width="2.8"/>
<polygon points="1644.5,623.3 1658.45,607.84 1664.56,617.7" fill="#000"/>
<polyline points="1559.73,434.96 1562.3,437.54 1565.97,441.2 1567.95,443.18 1570.11,445.36 1572.38,448.06 1574.71,449.56 1577.12,451.64 1579.62,454.29 1582.17,456.82 1584.69,461.41 1586.73,462 1588.81,464.4 1590.86,467.28 1592.84,470.66 1594.68,470.58 1596.07,474.84 1597.36,478.45 1598.58,483.24 1599.76,483.94 1600.95,486.73 1602.17,489.99 1604.04,493.26 1605.91,493.46 1607.78,498.7 1609.66,503.27 1610.9,506.03 1612.15,506.32 1613.4,511.53 1614.65,512.58 1615.9,516.73 1617.14,522.27 1618.1,523.44 1619.07,524.04 1620.06,528.88 1621.04,533.52 1622.01,538.45 1622.94,539.07 1623.82,542.67 1624.63,545.03 1626.39,549.94 1627.87,552.55 1629.63,554.78 1630.73,557.9 1631.94,557.6 1633.21,562.9 1634.53,565.93 1635.84,569.46 1637.11,572.8 1638.61,576.06 1640.11,578.08 1641.61,581.96 1643.11,585.07 1644.6,587.68 1646.14,590.64 1647.72,594.72 1649.28,598.57 1650.76,600.97 1652.09,602.25 1657.02,599.09 1658.56,602.37 1660.33,604.61 1662.23,607.23 1664.16,609.83 1666.03,611.86 1668.28,616.64 1670.53,617.8 1672.78,619.25 1675.03,621.96 1677.28,623.36 1679.53,627.43 1681.78,627.54 1684.03,629.26 1686.28,632.51 1688.54,634.65 1690.79,638.28 1693.04,638.31 1695.93,641.55 1698.82,644.78 1702.04,644.81 1704.83,647.6 1707.86,645.31 1710.97,644.44 1714.05,645.59 1717.05,648.1 1720.05,648.07 1723.05,645.92 1726.05,646.68 1729.05,648.26 1732.05,646.88 1735.05,647.49 1738.06,646.8 1741.06,649.23 1744.06,651.57 1747.06,650.64 1750.06,649.84 1753.06,651.19 1756.06,649.4 1759.06,649.89 1762.06,647.7 1765.07,649.55 1768.07,649.73 1771.07,650.26 1774.07,648.13 1777.07,648.61 1780.07,650.69 1783.07,649.31 1786.07,650.06 1789.08,651.25 1792.08,652.7 1795.08,652.77 1798.08,654.84 1801.15,655.6 1804.27,656.27 1807.29,656.34 1810.08,655.98 1813.31,655.94 1816.2,654.17 1819.09,651.08 1821.98,652.72 1824.87,654.7 1828.09,656.78 1830.95,660.68 1834.09,659.68 1837.24,660.69 1840.1,661.77 1843.21,661.68 1845.99,657.7 1849.1,657.69 1851.82,659.32 1854.73,658.29 1857.82,656.79 1861.1,659.26 1863.96,660.67 1867.03,658.73 1870.18,658.54 1873.25,657.85 1876.11,660.74 1879.32,660.15 1882.3,658.46 1885.18,661.7 1888.12,661.59 1891.12,666.16 1894.12,666.23 1897.12,667.74 1900.12,670.39 1902.52,670.25 1904.92,671.89 1907.32,674.21 1909.72,675.8 1912.12,679.37 1914.53,680.91 1916.93,681.13 1919.33,684.51 1921.73,684.44 1924.13,686.12 1926.53,690.01 1928.93,689.35 1931.33,692.65 1933.73,694.9 1936.13,693.76 1939.14,698.18 1942.14,699.64 1945.14,702.7 1948.14,699.68 1951.07,703.44 1953.95,703.72 1956.93,703.51 1960.14,703.95 1962.95,701.13 1965.93,706.05 1969,703.85 1972.1,704.47 1975.15,706.27 1978.31,706.52 1981.64,705.83 1984.89,705.73 1987.81,706.47 1990.16,707 1994.96,706.93" fill="none" stroke="#8e0606" stroke-width="2.5" stroke-linejoin="miter" stroke-linecap="round" stroke-miterlimit="3"/>
<polyline points="1489.04,702.19 1496.1,704.21 1509.21,704.21 1517.28,700.68 1528.38,698.66 1535.95,707 1538.47,690.09 1553.49,516.73 1553.58,515.61 1553.69,513.29 1553.81,512.28 1553.94,508.61 1554.08,505.11 1554.24,501.99 1554.4,499.8 1554.57,496.11 1554.75,492.04 1554.93,489.4 1555.12,485.61 1555.31,482.11 1555.51,477.67 1555.71,473.55 1555.9,470.72 1556.1,466.87 1556.3,463.36 1556.5,459.69 1556.69,455.8 1556.88,452.26 1557.07,451.05 1557.24,447.09 1557.42,445.09 1557.58,443.02 1557.73,441.2 1559.39,433.01 1560.98,434.96 1562.74,437.38 1564.72,439.96 1566.83,437.93 1569.72,434.96 1572.67,433.71 1576.19,432.74 1579.7,432.47 1583.03,432.93 1586.36,434.08 1589.69,436.21 1591.68,438.13 1593.68,440.51 1595.68,443.19 1597.67,446.5 1599.67,448.99 1601.67,450.93 1603.66,453.93 1605.66,457.17 1607.66,459.16 1609.66,461.55 1611.32,464.9 1612.98,466.98 1614.65,471.68 1616.31,473.76 1617.98,476.53 1619.64,478.76 1621.33,483.13 1623.06,485.66 1624.79,488.59 1626.48,491.82 1628.11,494.08 1629.63,497.21 1631.02,500.75 1632.31,503.29 1633.53,506.59 1634.71,508.47 1635.9,511.45 1637.11,514.44 1638.18,517.63 1639.25,520.14 1640.32,522.56 1641.39,526.9 1642.46,529.42 1643.53,532.55 1644.6,533.51 1645.82,538.06 1647.01,539.73 1648.19,543.14 1649.41,545.89 1650.7,549.38 1652.09,551.95 1653.61,555.07 1655.24,557.5 1656.93,560.7 1658.66,563.87 1660.38,567.61 1662.08,569.47 1663.74,572.75 1665.41,575.26 1667.07,578.64 1668.73,581.66 1670.4,584.02 1672.06,587.51 1673.78,590.29 1675.58,593.09 1677.37,596.94 1679.09,599.85 1680.67,601.83 1682.05,605.26 1684.6,606.63 1687.03,609.01 1689,611.69 1691.29,613.65 1693.69,617.14 1696.04,619.65 1699.04,622.38 1702.04,623.75 1705.04,625.31 1707.93,627.08 1710.82,628.1 1714.05,630.02 1716.84,631.71 1719.86,633.37 1722.98,633.92 1726.05,634.88 1729.05,637.06 1732.05,636.36 1735.05,638.32 1738.06,638.89 1741.06,639.2 1744.06,640.56 1747.06,641.84 1750.06,641.68 1752.92,642.22 1755.69,643.14 1758.64,643.49 1762.06,644.38 1764.75,644.2 1767.73,643.32 1770.88,643.08 1774.07,642.64 1777.18,642.68 1780.07,642.97 1783.27,643.52 1786.29,643.35 1789.22,645.67 1792.12,645.72 1795.08,646.02 1798.13,646.44 1801.22,645.42 1804.3,645.31 1807.27,644.88 1810.08,645.98 1813.3,646.06 1816.27,647.68 1819.16,647.38 1822.09,648.06 1825.09,648.51 1828.09,647.97 1831.09,647.18 1834.09,646.43 1837.09,646.53 1840.1,645.75 1843.1,645.37 1846.1,644.75 1849.1,644.63 1852.1,645.11 1855.1,645.17 1858.1,645.04 1861.1,644.73 1864.11,645.7 1867.11,645.16 1870.11,645 1873.11,646.52 1876.11,646.16 1879.11,646.69 1882.11,647.49 1885.11,648.79 1888.12,652.3 1891.12,653.33 1894.12,654.75 1897.12,654.72 1900.12,655.88 1903.12,656.11 1906.12,657.5 1909.12,657.58 1912.12,657.95 1915.13,658 1918.13,659.69 1921.13,659.07 1924.13,659.16 1927.13,660.24 1930.13,661.24 1932.53,663.35 1934.93,665.21 1937.33,666.17 1939.74,669.84 1942.14,671.19 1945.14,672.66 1948.14,674.53 1951.14,675.63 1954.14,676.54 1957.14,677.23 1960.14,680.17 1963.15,682.06 1966.15,685.06 1969.15,685.28 1972.15,686.92 1975.15,687.9 1978.15,689.87 1981.32,691.22 1984.6,693.28 1987.66,695.21 1990.16,695.72 1994.96,697.39" fill="none" stroke="#30b8fa" stroke-width="2.5" stroke-linejoin="miter" stroke-linecap="round" stroke-miterlimit="3"/>
<polyline points="1489.04,701.19 1497.11,699.67 1507.19,707 1518.29,703.2 1528.38,698.66 1538.47,700.18 1552.24,521.45 1552.35,520.76 1552.47,517.99 1552.61,515.76 1552.76,514.68 1552.93,510.52 1553.1,508.34 1553.29,505.32 1553.49,501.07 1553.7,498.36 1553.91,495.58 1554.13,490.77 1554.35,486.74 1554.58,483.67 1554.81,479.94 1555.04,476.91 1555.27,472.75 1555.5,468.66 1555.72,464.79 1555.94,462.09 1556.15,458.33 1556.36,455.32 1556.55,453.56 1556.74,450.44 1556.92,447.37 1557.08,446.35 1557.23,443.7 1558.2,435.06 1558.9,434.18 1559.73,434.96 1561.6,437.85 1563.47,441.2 1565.97,436.21 1568.78,434.73 1572.21,433.71 1575.88,432.86 1579.7,432.47 1583.44,432.47 1587.19,433.71 1589.69,436.12 1592.18,439.35 1594.68,442.45 1597.17,444.86 1599.67,447.78 1602.17,449.5 1604.04,453.6 1605.91,455.22 1607.78,459.51 1609.66,462.6 1611.15,464.81 1612.65,467.48 1614.15,472.07 1615.65,473.74 1617.14,475.77 1619.64,478.68 1622.14,481.33 1624.63,484.84 1626.13,487.25 1627.63,490.57 1629.13,493.2 1630.62,495.86 1632.12,499.96 1633.99,503.06 1635.87,503.77 1637.74,506.56 1639.61,510.14 1641.11,513.01 1642.61,515.08 1644.1,518.2 1645.6,522.5 1647.1,525.25 1648.32,527.06 1649.5,530.01 1650.69,533.3 1651.91,536.49 1653.2,538.82 1654.59,542.39 1656.11,544.56 1657.73,547.35 1659.42,550.45 1661.15,552.49 1662.88,554.37 1664.57,556.44 1666.24,560.61 1667.9,562.79 1669.57,565.6 1671.23,569.36 1672.89,571.06 1674.56,574.72 1676.25,577.61 1677.98,579.87 1679.71,581.72 1681.4,584.64 1683.02,587.48 1684.54,589.09 1686.6,593.28 1688.47,595.82 1690.25,597.4 1692.03,600.37 1693.77,603.93 1695.44,607.25 1697.16,609.38 1699.04,612.17 1701.78,615.34 1704.75,617.06 1708.04,618.05 1710.83,622.04 1713.86,623.56 1716.98,624.89 1720.05,628.07 1723.05,627.96 1726.05,628.87 1729.05,630.22 1732.05,632.32 1735.05,631.52 1738.06,633.44 1741.06,634.34 1744.06,636.64 1747.06,636.97 1750.06,640.41 1753.06,640.56 1756.06,641.58 1759.06,640.92 1762.06,640.8 1765.07,641.17 1768.07,640.53 1771.07,640.02 1774.07,641.78 1777.07,642.3 1780.07,641.39 1783.07,642.63 1786.07,643.24 1789.08,644.46 1792.08,645.31 1795.08,644.5 1798.08,644.4 1801.08,644.65 1804.08,643.02 1807.08,643.74 1810.08,644.66 1813.09,644.91 1816.09,644.39 1819.09,645.87 1822.09,645.68 1825.09,645.99 1828.09,646.73 1831.23,646.48 1834.47,644.69 1837.52,645.11 1840.1,644.95 1843.1,642.21 1846.1,642.87 1848.68,643.25 1851.73,643.46 1854.96,643.79 1858.1,644.04 1861.1,645.96 1864.11,646.94 1867.11,646.71 1870.11,646.84 1873.11,648.14 1876.11,648.08 1879.11,648.96 1882.11,650.3 1885.11,650.35 1888.12,651.09 1891.12,652.02 1894.12,651.84 1897.12,652.58 1900.12,655.4 1903.12,656.45 1906.12,656.74 1909.12,657.13 1912.12,656.79 1915.13,657.69 1918.13,658.35 1921.13,659.43 1924.13,662.13 1927.13,663.87 1930.13,666.12 1933.13,668.04 1936.13,669.87 1939.14,668.42 1942.14,671.74 1945.14,673.88 1948.14,675.48 1951.14,676.82 1954.14,679.52 1957.14,679.13 1960.14,680.73 1963.15,681.29 1966.15,684.24 1969.15,684.54 1972.15,684.59 1975.15,684.7 1978.15,688.02 1981.32,687.53 1984.6,690.76 1987.66,690.8 1990.16,690.01 1994.96,691.44" fill="none" stroke="#1438e0" stroke-width="2.5" stroke-linejoin="miter" stroke-linecap="round" stroke-miterlimit="3"/>
<polyline points="1489.04,701.19 1519.3,707 1529.39,698.66 1539.98,697.65 1549.75,498.16 1550.13,496.04 1550.64,492.02 1551.25,491.48 1551.93,486.82 1552.65,483.49 1553.37,480.9 1554.08,476.26 1554.74,472.83 1555.12,469.04 1555.48,465.66 1555.84,461.39 1556.19,459.71 1556.54,454.69 1556.9,451.82 1557.26,447.84 1557.63,444.34 1558.01,440.93 1558.41,437.82 1558.82,435.11 1559.26,432.88 1559.73,431.22 1561.95,429.83 1564.45,433.71 1567.22,437.46 1570.36,439.12 1573.78,440.65 1577.2,442.45 1579.76,444.15 1582.35,444.79 1584.87,448.61 1587.19,449.95 1589.87,451.3 1592.27,454.28 1594.68,458.07 1595.93,459.54 1597.17,462.94 1598.42,466.94 1599.67,468.87 1600.92,471.87 1602.17,474.82 1604.04,477.49 1605.91,480.7 1607.78,482.6 1609.66,485.39 1611.15,486.76 1612.65,491.25 1614.15,493.53 1615.65,496.58 1617.14,500.76 1618.39,503.65 1619.64,505.95 1620.89,508.32 1622.14,510.44 1623.38,513.92 1624.63,517.58 1625.7,521.23 1626.77,522.92 1627.84,525.78 1628.91,528.63 1629.98,531.05 1631.05,533.65 1632.12,537.35 1633.37,539.66 1634.62,542.39 1635.87,546.55 1637.11,549.65 1638.36,552.17 1639.61,555.21 1641.11,558.28 1642.61,559.61 1644.1,563.19 1645.6,567.62 1647.1,570.12 1648.6,571.45 1650.09,575.99 1651.59,578.01 1653.09,582.09 1654.59,584.15 1656.54,587.73 1658.55,591.24 1660.45,594.06 1662.08,597.6 1663.96,600.11 1666.03,603.02 1667.5,604.34 1669.26,607.91 1671.19,611.17 1673.15,612.22 1675.03,615.43 1678.03,618.37 1681.03,620.09 1684.03,622.23 1686.28,624.89 1688.54,626.96 1690.79,629.04 1693.04,630.73 1696.04,634.46 1699.04,635.58 1702.04,637.37 1705.04,639.61 1708.04,640.6 1711.04,642.64 1713.93,642.82 1716.82,644.16 1720.05,645.64 1722.84,646.18 1725.86,645.97 1728.98,644.54 1732.05,643.47 1735.05,644.94 1738.06,644.06 1741.06,643 1744.06,645.05 1747.06,644.88 1750.06,644.82 1753.06,642.6 1756.06,644.64 1759.06,644.03 1762.06,645.68 1765.07,646.24 1768.07,646.56 1771.07,647.5 1774.07,646.42 1777.07,646.13 1780.07,645.04 1783.07,643.95 1786.07,644.59 1789.08,643.54 1792.08,645.02 1795.08,645.64 1798.08,646.24 1801.08,646.86 1804.08,648.27 1807.08,647.15 1810.08,646.87 1813.09,645.89 1816.09,644.64 1819.09,644.88 1822.09,644.79 1825.09,643.84 1828.09,644.58 1831.09,646.13 1834.09,646.94 1837.09,647.73 1840.1,648.37 1843.1,647.64 1846.1,646.49 1849.1,646.6 1852.1,646.54 1855.1,646.25 1858.1,646.71 1861.1,647.72 1864.11,648.54 1867.11,649.1 1870.11,648.74 1873.11,650.03 1876.11,650.35 1879.11,652.63 1882.11,654.54 1885.11,654.63 1888.12,656.25 1891.12,656.78 1894.12,657.87 1897.12,658.94 1900.12,660.13 1903.12,660.87 1906.12,661.86 1909.12,662.61 1912.12,662.98 1914.53,662.64 1916.93,664.8 1919.33,667.88 1921.73,669.41 1924.13,672.48 1926.53,674.05 1928.93,675.75 1931.33,678.17 1933.73,679.13 1936.13,679.52 1939.14,683.4 1942.14,682.88 1945.14,686.34 1948.14,686.87 1951.14,687.94 1954.14,689.57 1957.14,690.44 1960.14,691.33 1963.15,692.11 1966.15,694.31 1969.15,694.81 1972.15,696.27 1975.18,697.74 1978.23,698.33 1981.24,698.96 1984.15,699.36 1988.24,700.36 1992.2,701.49 1994.96,700.78" fill="none" stroke="#fa0a0a" stroke-width="2.5" stroke-linejoin="miter" stroke-linecap="round" stroke-miterlimit="3"/>
<rect x="1486.8" y="430" width="509.5" height="277.5" fill="none" stroke="#000" stroke-width="2.4"/>
</svg>
</body></html>
